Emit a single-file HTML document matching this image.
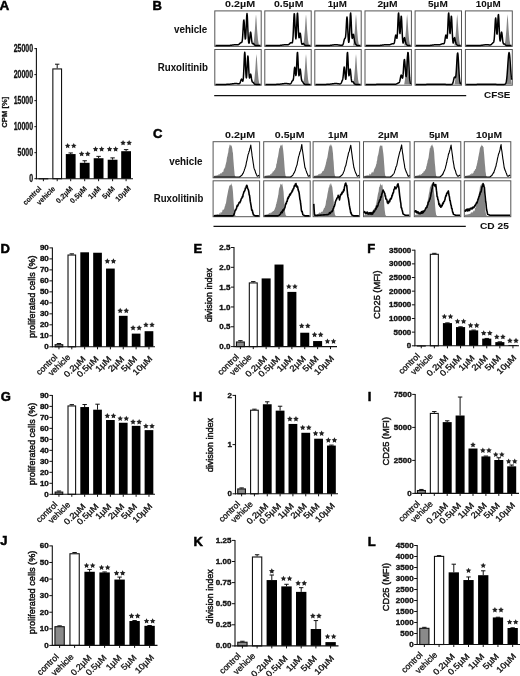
<!DOCTYPE html>
<html><head><meta charset="utf-8"><style>
html,body{margin:0;padding:0;background:#fff;width:520px;height:676px;overflow:hidden}
svg{display:block;filter:blur(0.3px)}
text{font-family:"Liberation Sans", sans-serif}
</style></head><body>
<svg width="520" height="676" viewBox="0 0 520 676" font-family='"Liberation Sans", sans-serif'><rect x="214.80" y="10.90" width="46.40" height="35.50" fill="#fff" stroke="#555" stroke-width="1"/>
<path d="M215.50,45.60 L253.07,45.60 L253.97,39.96 L254.88,29.93 L255.55,18.96 L256.00,14.26 L256.45,18.96 L257.12,29.93 L258.02,39.96 L258.93,45.60 L260.50,45.60 L260.50,45.60 L215.50,45.60 Z" fill="#858585" stroke="none"/>
<path d="M215.50,45.60 L215.78,45.60 L216.06,45.60 L216.34,45.60 L216.62,45.60 L216.91,45.60 L217.19,45.60 L217.47,45.60 L217.75,45.60 L218.03,45.60 L218.31,45.60 L218.59,45.60 L218.88,45.60 L219.16,45.60 L219.44,45.60 L219.72,45.60 L220.00,45.60 L220.28,45.60 L220.56,45.60 L220.84,45.60 L221.12,45.60 L221.41,45.60 L221.69,45.60 L221.97,45.60 L222.25,45.60 L222.53,45.60 L222.81,45.60 L223.09,45.60 L223.38,45.60 L223.66,45.60 L223.94,45.60 L224.22,45.60 L224.50,45.59 L224.78,45.59 L225.06,45.59 L225.34,45.59 L225.62,45.58 L225.91,45.58 L226.19,45.58 L226.47,45.57 L226.75,45.56 L227.03,45.56 L227.31,45.55 L227.59,45.54 L227.88,45.52 L228.16,45.51 L228.44,45.49 L228.72,45.47 L229.00,45.45 L229.28,45.43 L229.56,45.41 L229.84,45.38 L230.12,45.35 L230.41,45.32 L230.69,45.29 L230.97,45.25 L231.25,45.21 L231.53,45.18 L231.81,45.14 L232.09,45.10 L232.38,45.06 L232.66,45.02 L232.94,44.98 L233.22,44.94 L233.50,44.91 L233.78,44.87 L234.06,44.85 L234.34,44.82 L234.62,44.80 L234.91,44.78 L235.19,44.77 L235.47,44.76 L235.75,44.76 L236.03,44.76 L236.31,44.76 L236.59,44.77 L236.88,44.78 L237.16,44.79 L237.44,44.78 L237.72,44.77 L238.00,44.73 L238.28,44.66 L238.56,44.55 L238.84,44.39 L239.12,44.18 L239.41,43.93 L239.69,43.64 L239.97,43.34 L240.25,43.06 L240.53,42.82 L240.81,42.66 L241.09,42.59 L241.38,42.56 L241.66,42.45 L241.94,42.02 L242.22,40.86 L242.50,38.49 L242.78,34.65 L243.06,29.63 L243.34,24.48 L243.62,20.81 L243.91,19.99 L244.19,22.38 L244.47,27.10 L244.75,32.51 L245.03,36.90 L245.31,39.07 L245.59,38.36 L245.88,34.66 L246.16,28.53 L246.44,21.48 L246.72,15.77 L247.00,13.57 L247.28,15.79 L247.56,21.56 L247.84,28.79 L248.12,35.37 L248.41,40.05 L248.69,42.59 L248.97,43.26 L249.25,42.43 L249.53,40.42 L249.81,37.64 L250.09,34.76 L250.38,32.68 L250.66,32.13 L250.94,33.31 L251.22,35.74 L251.50,38.58 L251.78,41.02 L252.06,42.65 L252.34,43.45 L252.62,43.67 L252.91,43.62 L253.19,43.55 L253.47,43.60 L253.75,43.81 L254.03,44.15 L254.31,44.53 L254.59,44.88 L254.88,45.16 L255.16,45.36 L255.44,45.48 L255.72,45.55 L256.00,45.58 L256.28,45.59 L256.56,45.60 L256.84,45.60 L257.12,45.60 L257.41,45.60 L257.69,45.60 L257.97,45.60 L258.25,45.60 L258.53,45.60 L258.81,45.60 L259.09,45.60 L259.38,45.60 L259.66,45.60 L259.94,45.60 L260.22,45.60 L260.50,45.60" fill="none" stroke="#000" stroke-width="1.5" stroke-linejoin="round"/>
<rect x="214.80" y="49.50" width="46.40" height="35.70" fill="#fff" stroke="#555" stroke-width="1"/>
<path d="M215.50,84.40 L253.53,84.40 L254.43,78.91 L255.32,69.15 L256.00,58.47 L256.45,53.89 L256.90,58.47 L257.57,69.15 L258.48,78.91 L259.38,84.40 L260.50,84.40 L260.50,84.40 L215.50,84.40 Z" fill="#858585" stroke="none"/>
<path d="M215.50,84.40 L215.78,84.40 L216.06,84.40 L216.34,84.40 L216.62,84.40 L216.91,84.40 L217.19,84.40 L217.47,84.40 L217.75,84.40 L218.03,84.40 L218.31,84.40 L218.59,84.40 L218.88,84.40 L219.16,84.40 L219.44,84.40 L219.72,84.40 L220.00,84.40 L220.28,84.40 L220.56,84.40 L220.84,84.40 L221.12,84.40 L221.41,84.40 L221.69,84.40 L221.97,84.40 L222.25,84.40 L222.53,84.40 L222.81,84.40 L223.09,84.40 L223.38,84.40 L223.66,84.40 L223.94,84.40 L224.22,84.39 L224.50,84.39 L224.78,84.39 L225.06,84.39 L225.34,84.39 L225.62,84.38 L225.91,84.38 L226.19,84.38 L226.47,84.37 L226.75,84.36 L227.03,84.35 L227.31,84.35 L227.59,84.33 L227.88,84.32 L228.16,84.31 L228.44,84.29 L228.72,84.27 L229.00,84.25 L229.28,84.23 L229.56,84.21 L229.84,84.18 L230.12,84.15 L230.41,84.12 L230.69,84.08 L230.97,84.05 L231.25,84.01 L231.53,83.97 L231.81,83.93 L232.09,83.89 L232.38,83.85 L232.66,83.81 L232.94,83.78 L233.22,83.74 L233.50,83.70 L233.78,83.67 L234.06,83.64 L234.34,83.61 L234.62,83.59 L234.91,83.58 L235.19,83.56 L235.47,83.56 L235.75,83.55 L236.03,83.56 L236.31,83.56 L236.59,83.58 L236.88,83.59 L237.16,83.61 L237.44,83.64 L237.72,83.67 L238.00,83.70 L238.28,83.73 L238.56,83.76 L238.84,83.77 L239.12,83.74 L239.41,83.63 L239.69,83.40 L239.97,82.99 L240.25,82.36 L240.53,81.54 L240.81,80.62 L241.09,79.78 L241.38,79.22 L241.66,79.10 L241.94,79.44 L242.22,80.12 L242.50,80.84 L242.78,81.17 L243.06,80.50 L243.34,78.17 L243.62,73.70 L243.91,67.26 L244.19,60.09 L244.47,54.35 L244.75,52.14 L245.03,54.37 L245.31,60.14 L245.59,67.27 L245.88,73.47 L246.16,77.22 L246.44,77.86 L246.72,75.40 L247.00,70.41 L247.28,64.18 L247.56,58.69 L247.84,55.98 L248.12,57.14 L248.41,61.66 L248.69,67.73 L248.97,73.25 L249.25,76.80 L249.53,78.02 L249.81,77.37 L250.09,75.85 L250.38,74.50 L250.66,74.12 L250.94,74.95 L251.22,76.67 L251.50,78.65 L251.78,80.31 L252.06,81.38 L252.34,81.91 L252.62,82.12 L252.91,82.26 L253.19,82.47 L253.47,82.79 L253.75,83.16 L254.03,83.54 L254.31,83.86 L254.59,84.09 L254.88,84.24 L255.16,84.32 L255.44,84.37 L255.72,84.39 L256.00,84.40 L256.28,84.40 L256.56,84.40 L256.84,84.40 L257.12,84.40 L257.41,84.40 L257.69,84.40 L257.97,84.40 L258.25,84.40 L258.53,84.40 L258.81,84.40 L259.09,84.40 L259.38,84.40 L259.66,84.40 L259.94,84.40 L260.22,84.40 L260.50,84.40" fill="none" stroke="#000" stroke-width="1.5" stroke-linejoin="round"/>
<rect x="264.80" y="10.90" width="46.40" height="35.50" fill="#fff" stroke="#555" stroke-width="1"/>
<path d="M265.50,45.60 L303.07,45.60 L303.98,39.96 L304.88,29.93 L305.55,18.96 L306.00,14.26 L306.45,18.96 L307.12,29.93 L308.02,39.96 L308.93,45.60 L310.50,45.60 L310.50,45.60 L265.50,45.60 Z" fill="#858585" stroke="none"/>
<path d="M265.50,45.60 L265.78,45.60 L266.06,45.60 L266.34,45.60 L266.62,45.60 L266.91,45.60 L267.19,45.60 L267.47,45.60 L267.75,45.60 L268.03,45.60 L268.31,45.60 L268.59,45.60 L268.88,45.60 L269.16,45.60 L269.44,45.60 L269.72,45.60 L270.00,45.60 L270.28,45.60 L270.56,45.60 L270.84,45.60 L271.12,45.60 L271.41,45.60 L271.69,45.60 L271.97,45.60 L272.25,45.60 L272.53,45.60 L272.81,45.60 L273.09,45.60 L273.38,45.60 L273.66,45.60 L273.94,45.60 L274.22,45.60 L274.50,45.59 L274.78,45.59 L275.06,45.59 L275.34,45.59 L275.62,45.58 L275.91,45.58 L276.19,45.58 L276.47,45.57 L276.75,45.56 L277.03,45.56 L277.31,45.55 L277.59,45.54 L277.88,45.52 L278.16,45.51 L278.44,45.49 L278.72,45.47 L279.00,45.45 L279.28,45.43 L279.56,45.41 L279.84,45.38 L280.12,45.35 L280.41,45.32 L280.69,45.29 L280.97,45.25 L281.25,45.21 L281.53,45.18 L281.81,45.14 L282.09,45.10 L282.38,45.06 L282.66,45.02 L282.94,44.98 L283.22,44.94 L283.50,44.91 L283.78,44.87 L284.06,44.85 L284.34,44.82 L284.62,44.80 L284.91,44.78 L285.19,44.77 L285.47,44.76 L285.75,44.76 L286.03,44.76 L286.31,44.76 L286.59,44.77 L286.88,44.78 L287.16,44.79 L287.44,44.78 L287.72,44.77 L288.00,44.73 L288.28,44.66 L288.56,44.55 L288.84,44.39 L289.12,44.18 L289.41,43.93 L289.69,43.64 L289.97,43.34 L290.25,43.06 L290.53,42.82 L290.81,42.67 L291.09,42.62 L291.38,42.68 L291.66,42.81 L291.94,42.93 L292.22,42.83 L292.50,42.12 L292.78,40.22 L293.06,36.52 L293.34,30.82 L293.62,23.84 L293.91,17.38 L294.19,13.68 L294.47,14.21 L294.75,18.80 L295.03,25.65 L295.31,32.40 L295.59,37.12 L295.88,38.76 L296.16,37.01 L296.44,32.18 L296.72,25.30 L297.00,18.34 L297.28,13.72 L297.56,13.24 L297.84,17.06 L298.12,23.60 L298.41,30.41 L298.69,35.44 L298.97,37.78 L299.25,37.63 L299.53,35.97 L299.81,34.08 L300.09,33.10 L300.38,33.63 L300.66,35.55 L300.94,38.19 L301.22,40.76 L301.50,42.70 L301.78,43.83 L302.06,44.27 L302.34,44.25 L302.62,44.01 L302.91,43.74 L303.19,43.59 L303.47,43.61 L303.75,43.82 L304.03,44.15 L304.31,44.53 L304.59,44.88 L304.88,45.16 L305.16,45.36 L305.44,45.48 L305.72,45.55 L306.00,45.58 L306.28,45.59 L306.56,45.60 L306.84,45.60 L307.12,45.60 L307.41,45.60 L307.69,45.60 L307.97,45.60 L308.25,45.60 L308.53,45.60 L308.81,45.60 L309.09,45.60 L309.38,45.60 L309.66,45.60 L309.94,45.60 L310.22,45.60 L310.50,45.60" fill="none" stroke="#000" stroke-width="1.5" stroke-linejoin="round"/>
<rect x="264.80" y="49.50" width="46.40" height="35.70" fill="#fff" stroke="#555" stroke-width="1"/>
<path d="M265.50,84.40 L303.07,84.40 L303.98,78.91 L304.88,69.15 L305.55,58.47 L306.00,53.89 L306.45,58.47 L307.12,69.15 L308.02,78.91 L308.93,84.40 L310.50,84.40 L310.50,84.40 L265.50,84.40 Z" fill="#858585" stroke="none"/>
<path d="M265.50,84.40 L265.78,84.40 L266.06,84.40 L266.34,84.40 L266.62,84.40 L266.91,84.40 L267.19,84.40 L267.47,84.40 L267.75,84.40 L268.03,84.40 L268.31,84.40 L268.59,84.40 L268.88,84.40 L269.16,84.40 L269.44,84.40 L269.72,84.40 L270.00,84.40 L270.28,84.40 L270.56,84.40 L270.84,84.40 L271.12,84.40 L271.41,84.40 L271.69,84.40 L271.97,84.40 L272.25,84.40 L272.53,84.40 L272.81,84.40 L273.09,84.40 L273.38,84.40 L273.66,84.40 L273.94,84.40 L274.22,84.39 L274.50,84.39 L274.78,84.39 L275.06,84.39 L275.34,84.39 L275.62,84.38 L275.91,84.38 L276.19,84.38 L276.47,84.37 L276.75,84.36 L277.03,84.35 L277.31,84.35 L277.59,84.33 L277.88,84.32 L278.16,84.31 L278.44,84.29 L278.72,84.27 L279.00,84.25 L279.28,84.23 L279.56,84.21 L279.84,84.18 L280.12,84.15 L280.41,84.12 L280.69,84.08 L280.97,84.05 L281.25,84.01 L281.53,83.97 L281.81,83.93 L282.09,83.89 L282.38,83.85 L282.66,83.81 L282.94,83.78 L283.22,83.74 L283.50,83.70 L283.78,83.67 L284.06,83.64 L284.34,83.61 L284.62,83.59 L284.91,83.58 L285.19,83.56 L285.47,83.56 L285.75,83.55 L286.03,83.56 L286.31,83.56 L286.59,83.58 L286.88,83.59 L287.16,83.61 L287.44,83.64 L287.72,83.67 L288.00,83.70 L288.28,83.74 L288.56,83.78 L288.84,83.81 L289.12,83.85 L289.41,83.88 L289.69,83.91 L289.97,83.91 L290.25,83.86 L290.53,83.74 L290.81,83.50 L291.09,83.12 L291.38,82.60 L291.66,81.99 L291.94,81.40 L292.22,80.95 L292.50,80.69 L292.78,80.54 L293.06,80.22 L293.34,79.30 L293.62,77.39 L293.91,74.45 L294.19,71.04 L294.47,68.26 L294.75,67.22 L295.03,68.37 L295.31,71.12 L295.59,74.07 L295.88,75.61 L296.16,74.51 L296.44,70.40 L296.72,64.06 L297.00,57.42 L297.28,52.95 L297.56,52.50 L297.84,56.25 L298.12,62.63 L298.41,69.21 L298.69,73.91 L298.97,75.79 L299.25,75.05 L299.53,72.75 L299.81,70.31 L300.09,69.03 L300.38,69.56 L300.66,71.73 L300.94,74.69 L301.22,77.50 L301.50,79.54 L301.78,80.69 L302.06,81.20 L302.34,81.44 L302.62,81.69 L302.91,82.06 L303.19,82.54 L303.47,83.06 L303.75,83.52 L304.03,83.88 L304.31,84.12 L304.59,84.26 L304.88,84.34 L305.16,84.38 L305.44,84.39 L305.72,84.40 L306.00,84.40 L306.28,84.40 L306.56,84.40 L306.84,84.40 L307.12,84.40 L307.41,84.40 L307.69,84.40 L307.97,84.40 L308.25,84.40 L308.53,84.40 L308.81,84.40 L309.09,84.40 L309.38,84.40 L309.66,84.40 L309.94,84.40 L310.22,84.40 L310.50,84.40" fill="none" stroke="#000" stroke-width="1.5" stroke-linejoin="round"/>
<rect x="314.80" y="10.90" width="46.40" height="35.50" fill="#fff" stroke="#555" stroke-width="1"/>
<path d="M315.50,45.60 L353.07,45.60 L353.98,39.96 L354.88,29.93 L355.55,18.96 L356.00,14.26 L356.45,18.96 L357.12,29.93 L358.02,39.96 L358.93,45.60 L360.50,45.60 L360.50,45.60 L315.50,45.60 Z" fill="#858585" stroke="none"/>
<path d="M315.50,45.60 L315.78,45.60 L316.06,45.60 L316.34,45.60 L316.62,45.60 L316.91,45.60 L317.19,45.60 L317.47,45.60 L317.75,45.60 L318.03,45.60 L318.31,45.60 L318.59,45.60 L318.88,45.60 L319.16,45.60 L319.44,45.60 L319.72,45.60 L320.00,45.60 L320.28,45.60 L320.56,45.60 L320.84,45.60 L321.12,45.60 L321.41,45.60 L321.69,45.60 L321.97,45.60 L322.25,45.60 L322.53,45.60 L322.81,45.60 L323.09,45.60 L323.38,45.60 L323.66,45.60 L323.94,45.60 L324.22,45.60 L324.50,45.59 L324.78,45.59 L325.06,45.59 L325.34,45.59 L325.62,45.58 L325.91,45.58 L326.19,45.58 L326.47,45.57 L326.75,45.56 L327.03,45.56 L327.31,45.55 L327.59,45.54 L327.88,45.52 L328.16,45.51 L328.44,45.49 L328.72,45.47 L329.00,45.45 L329.28,45.43 L329.56,45.41 L329.84,45.38 L330.12,45.35 L330.41,45.32 L330.69,45.29 L330.97,45.25 L331.25,45.21 L331.53,45.18 L331.81,45.14 L332.09,45.10 L332.38,45.06 L332.66,45.02 L332.94,44.98 L333.22,44.94 L333.50,44.91 L333.78,44.87 L334.06,44.85 L334.34,44.82 L334.62,44.80 L334.91,44.78 L335.19,44.77 L335.47,44.76 L335.75,44.76 L336.03,44.76 L336.31,44.77 L336.59,44.78 L336.88,44.80 L337.16,44.82 L337.44,44.85 L337.72,44.87 L338.00,44.91 L338.28,44.94 L338.56,44.98 L338.84,45.02 L339.12,45.06 L339.41,45.10 L339.69,45.14 L339.97,45.18 L340.25,45.21 L340.53,45.25 L340.81,45.29 L341.09,45.32 L341.38,45.35 L341.66,45.36 L341.94,45.36 L342.22,45.30 L342.50,45.16 L342.78,44.86 L343.06,44.33 L343.34,43.52 L343.62,42.44 L343.91,41.19 L344.19,39.98 L344.47,39.05 L344.75,38.54 L345.03,38.31 L345.31,37.89 L345.59,36.53 L345.88,33.52 L346.16,28.76 L346.44,23.18 L346.72,18.63 L347.00,16.99 L347.28,19.12 L347.56,24.29 L347.84,30.70 L348.12,36.48 L348.41,40.47 L348.69,42.27 L348.97,41.83 L349.25,39.05 L349.53,33.91 L349.81,26.95 L350.09,19.68 L350.38,14.37 L350.66,12.98 L350.94,16.02 L351.22,22.23 L351.50,29.22 L351.78,34.83 L352.06,37.89 L352.34,38.42 L352.62,37.23 L352.91,35.51 L353.19,34.35 L353.47,34.40 L353.75,35.69 L354.03,37.72 L354.31,39.82 L354.59,41.50 L354.88,42.63 L355.16,43.33 L355.44,43.81 L355.72,44.19 L356.00,44.56 L356.28,44.88 L356.56,45.15 L356.84,45.34 L357.12,45.47 L357.41,45.54 L357.69,45.57 L357.97,45.59 L358.25,45.60 L358.53,45.60 L358.81,45.60 L359.09,45.60 L359.38,45.60 L359.66,45.60 L359.94,45.60 L360.22,45.60 L360.50,45.60" fill="none" stroke="#000" stroke-width="1.5" stroke-linejoin="round"/>
<rect x="314.80" y="49.50" width="46.40" height="35.70" fill="#fff" stroke="#555" stroke-width="1"/>
<path d="M315.50,84.40 L353.07,84.40 L353.98,78.91 L354.88,69.15 L355.55,58.47 L356.00,53.89 L356.45,58.47 L357.12,69.15 L358.02,78.91 L358.93,84.40 L360.50,84.40 L360.50,84.40 L315.50,84.40 Z" fill="#858585" stroke="none"/>
<path d="M315.50,84.40 L315.78,84.40 L316.06,84.40 L316.34,84.40 L316.62,84.40 L316.91,84.40 L317.19,84.40 L317.47,84.40 L317.75,84.40 L318.03,84.40 L318.31,84.40 L318.59,84.40 L318.88,84.40 L319.16,84.40 L319.44,84.40 L319.72,84.40 L320.00,84.40 L320.28,84.40 L320.56,84.40 L320.84,84.40 L321.12,84.40 L321.41,84.40 L321.69,84.40 L321.97,84.40 L322.25,84.40 L322.53,84.40 L322.81,84.40 L323.09,84.40 L323.38,84.40 L323.66,84.40 L323.94,84.40 L324.22,84.39 L324.50,84.39 L324.78,84.39 L325.06,84.39 L325.34,84.39 L325.62,84.38 L325.91,84.38 L326.19,84.38 L326.47,84.37 L326.75,84.36 L327.03,84.35 L327.31,84.35 L327.59,84.33 L327.88,84.32 L328.16,84.31 L328.44,84.29 L328.72,84.27 L329.00,84.25 L329.28,84.23 L329.56,84.21 L329.84,84.18 L330.12,84.15 L330.41,84.12 L330.69,84.08 L330.97,84.05 L331.25,84.01 L331.53,83.97 L331.81,83.93 L332.09,83.89 L332.38,83.85 L332.66,83.81 L332.94,83.78 L333.22,83.74 L333.50,83.70 L333.78,83.67 L334.06,83.64 L334.34,83.61 L334.62,83.59 L334.91,83.58 L335.19,83.56 L335.47,83.56 L335.75,83.55 L336.03,83.56 L336.31,83.56 L336.59,83.58 L336.88,83.59 L337.16,83.61 L337.44,83.64 L337.72,83.67 L338.00,83.70 L338.28,83.74 L338.56,83.78 L338.84,83.81 L339.12,83.85 L339.41,83.88 L339.69,83.91 L339.97,83.91 L340.25,83.86 L340.53,83.74 L340.81,83.50 L341.09,83.12 L341.38,82.59 L341.66,81.96 L341.94,81.31 L342.22,80.67 L342.50,79.97 L342.78,78.95 L343.06,77.28 L343.34,74.73 L343.62,71.56 L343.91,68.61 L344.19,67.00 L344.47,67.52 L344.75,70.06 L345.03,73.71 L345.31,77.15 L345.59,79.24 L345.88,79.20 L346.16,76.58 L346.44,71.41 L346.72,64.48 L347.00,57.57 L347.28,52.99 L347.56,52.51 L347.84,56.25 L348.12,62.63 L348.41,69.21 L348.69,73.91 L348.97,75.79 L349.25,75.06 L349.53,72.76 L349.81,70.35 L350.09,69.10 L350.38,69.71 L350.66,72.00 L350.94,75.14 L351.22,78.13 L351.50,80.30 L351.78,81.49 L352.06,81.88 L352.34,81.83 L352.62,81.69 L352.91,81.67 L353.19,81.87 L353.47,82.26 L353.75,82.75 L354.03,83.25 L354.31,83.68 L354.59,83.98 L354.88,84.18 L355.16,84.30 L355.44,84.36 L355.72,84.38 L356.00,84.39 L356.28,84.40 L356.56,84.40 L356.84,84.40 L357.12,84.40 L357.41,84.40 L357.69,84.40 L357.97,84.40 L358.25,84.40 L358.53,84.40 L358.81,84.40 L359.09,84.40 L359.38,84.40 L359.66,84.40 L359.94,84.40 L360.22,84.40 L360.50,84.40" fill="none" stroke="#000" stroke-width="1.5" stroke-linejoin="round"/>
<rect x="365.00" y="10.90" width="46.40" height="35.50" fill="#fff" stroke="#555" stroke-width="1"/>
<path d="M365.70,45.60 L404.18,45.60 L405.07,39.96 L405.97,29.93 L406.65,18.96 L407.10,14.26 L407.55,18.96 L408.23,29.93 L409.12,39.96 L410.02,45.60 L410.70,45.60 L410.70,45.60 L365.70,45.60 Z" fill="#858585" stroke="none"/>
<path d="M365.70,45.60 L365.98,45.60 L366.26,45.60 L366.54,45.60 L366.82,45.60 L367.11,45.60 L367.39,45.60 L367.67,45.60 L367.95,45.60 L368.23,45.60 L368.51,45.60 L368.79,45.60 L369.07,45.60 L369.36,45.60 L369.64,45.60 L369.92,45.60 L370.20,45.60 L370.48,45.60 L370.76,45.60 L371.04,45.60 L371.32,45.60 L371.61,45.60 L371.89,45.60 L372.17,45.60 L372.45,45.60 L372.73,45.60 L373.01,45.60 L373.29,45.60 L373.57,45.60 L373.86,45.60 L374.14,45.60 L374.42,45.60 L374.70,45.59 L374.98,45.59 L375.26,45.59 L375.54,45.59 L375.82,45.58 L376.11,45.58 L376.39,45.58 L376.67,45.57 L376.95,45.56 L377.23,45.56 L377.51,45.55 L377.79,45.54 L378.07,45.52 L378.36,45.51 L378.64,45.49 L378.92,45.47 L379.20,45.45 L379.48,45.43 L379.76,45.41 L380.04,45.38 L380.32,45.35 L380.61,45.32 L380.89,45.29 L381.17,45.25 L381.45,45.21 L381.73,45.18 L382.01,45.14 L382.29,45.10 L382.57,45.06 L382.86,45.02 L383.14,44.98 L383.42,44.94 L383.70,44.91 L383.98,44.87 L384.26,44.85 L384.54,44.82 L384.82,44.80 L385.11,44.78 L385.39,44.77 L385.67,44.76 L385.95,44.76 L386.23,44.76 L386.51,44.76 L386.79,44.77 L387.07,44.78 L387.36,44.80 L387.64,44.81 L387.92,44.83 L388.20,44.83 L388.48,44.83 L388.76,44.83 L389.04,44.80 L389.32,44.77 L389.61,44.71 L389.89,44.64 L390.17,44.55 L390.45,44.44 L390.73,44.32 L391.01,44.20 L391.29,44.08 L391.57,43.97 L391.86,43.87 L392.14,43.80 L392.42,43.77 L392.70,43.76 L392.98,43.79 L393.26,43.83 L393.54,43.82 L393.82,43.69 L394.11,43.30 L394.39,42.48 L394.67,41.14 L394.95,39.34 L395.23,37.39 L395.51,35.80 L395.79,35.08 L396.07,35.44 L396.36,36.64 L396.64,37.95 L396.92,38.32 L397.20,36.74 L397.48,32.61 L397.76,26.31 L398.04,19.41 L398.32,14.26 L398.61,12.91 L398.89,15.92 L399.17,21.91 L399.45,28.35 L399.73,32.72 L400.01,33.51 L400.29,30.59 L400.57,25.19 L400.86,19.57 L401.14,16.21 L401.42,16.68 L401.70,20.91 L401.98,27.33 L402.26,33.85 L402.54,38.93 L402.82,41.98 L403.11,43.09 L403.39,42.67 L403.67,41.21 L403.95,39.40 L404.23,38.00 L404.51,37.63 L404.79,38.39 L405.07,39.83 L405.36,41.35 L405.64,42.55 L405.92,43.35 L406.20,43.90 L406.48,44.32 L406.76,44.69 L407.04,45.00 L407.32,45.23 L407.61,45.40 L407.89,45.50 L408.17,45.55 L408.45,45.58 L408.73,45.59 L409.01,45.60 L409.29,45.60 L409.57,45.60 L409.86,45.60 L410.14,45.60 L410.42,45.60 L410.70,45.60" fill="none" stroke="#000" stroke-width="1.5" stroke-linejoin="round"/>
<rect x="365.00" y="49.50" width="46.40" height="35.70" fill="#fff" stroke="#555" stroke-width="1"/>
<path d="M365.70,84.40 L404.18,84.40 L405.07,78.91 L405.97,69.15 L406.65,58.47 L407.10,53.89 L407.55,58.47 L408.23,69.15 L409.12,78.91 L410.02,84.40 L410.70,84.40 L410.70,84.40 L365.70,84.40 Z" fill="#858585" stroke="none"/>
<path d="M365.70,84.40 L365.98,84.40 L366.26,84.40 L366.54,84.40 L366.82,84.40 L367.11,84.40 L367.39,84.40 L367.67,84.40 L367.95,84.40 L368.23,84.40 L368.51,84.40 L368.79,84.40 L369.07,84.40 L369.36,84.40 L369.64,84.40 L369.92,84.40 L370.20,84.40 L370.48,84.40 L370.76,84.40 L371.04,84.40 L371.32,84.40 L371.61,84.40 L371.89,84.40 L372.17,84.40 L372.45,84.40 L372.73,84.40 L373.01,84.40 L373.29,84.39 L373.57,84.39 L373.86,84.39 L374.14,84.39 L374.42,84.39 L374.70,84.39 L374.98,84.39 L375.26,84.38 L375.54,84.38 L375.82,84.38 L376.11,84.38 L376.39,84.37 L376.67,84.37 L376.95,84.36 L377.23,84.36 L377.51,84.35 L377.79,84.35 L378.07,84.34 L378.36,84.33 L378.64,84.33 L378.92,84.32 L379.20,84.31 L379.48,84.30 L379.76,84.29 L380.04,84.29 L380.32,84.28 L380.61,84.27 L380.89,84.26 L381.17,84.25 L381.45,84.24 L381.73,84.23 L382.01,84.22 L382.29,84.21 L382.57,84.20 L382.86,84.19 L383.14,84.18 L383.42,84.17 L383.70,84.16 L383.98,84.15 L384.26,84.15 L384.54,84.14 L384.82,84.14 L385.11,84.13 L385.39,84.13 L385.67,84.13 L385.95,84.13 L386.23,84.13 L386.51,84.13 L386.79,84.13 L387.07,84.14 L387.36,84.14 L387.64,84.15 L387.92,84.15 L388.20,84.16 L388.48,84.17 L388.76,84.18 L389.04,84.19 L389.32,84.20 L389.61,84.21 L389.89,84.22 L390.17,84.23 L390.45,84.24 L390.73,84.25 L391.01,84.26 L391.29,84.27 L391.57,84.28 L391.86,84.29 L392.14,84.29 L392.42,84.30 L392.70,84.31 L392.98,84.32 L393.26,84.33 L393.54,84.33 L393.82,84.34 L394.11,84.34 L394.39,84.34 L394.67,84.34 L394.95,84.32 L395.23,84.30 L395.51,84.26 L395.79,84.21 L396.07,84.13 L396.36,84.02 L396.64,83.89 L396.92,83.73 L397.20,83.57 L397.48,83.40 L397.76,83.24 L398.04,83.11 L398.32,83.01 L398.61,82.92 L398.89,82.79 L399.17,82.54 L399.45,82.07 L399.73,81.27 L400.01,80.09 L400.29,78.60 L400.57,77.05 L400.86,75.76 L401.14,75.07 L401.42,75.16 L401.70,75.95 L401.98,77.09 L402.26,78.01 L402.54,78.14 L402.82,76.99 L403.11,74.38 L403.39,70.53 L403.67,66.12 L403.95,62.16 L404.23,59.71 L404.51,59.48 L404.79,61.54 L405.07,65.30 L405.36,69.70 L405.64,73.63 L405.92,76.14 L406.20,76.65 L406.48,74.91 L406.76,71.09 L407.04,65.75 L407.32,59.96 L407.61,55.09 L407.89,52.43 L408.17,52.75 L408.45,55.98 L408.73,61.25 L409.01,67.30 L409.29,72.94 L409.57,77.44 L409.86,80.56 L410.14,82.48 L410.42,83.53 L410.70,84.04" fill="none" stroke="#000" stroke-width="1.5" stroke-linejoin="round"/>
<rect x="415.10" y="10.90" width="46.40" height="35.50" fill="#fff" stroke="#555" stroke-width="1"/>
<path d="M415.80,45.60 L454.28,45.60 L455.18,39.96 L456.07,29.93 L456.75,18.96 L457.20,14.26 L457.65,18.96 L458.33,29.93 L459.23,39.96 L460.12,45.60 L460.80,45.60 L460.80,45.60 L415.80,45.60 Z" fill="#858585" stroke="none"/>
<path d="M415.80,45.60 L416.08,45.60 L416.36,45.60 L416.64,45.60 L416.93,45.60 L417.21,45.60 L417.49,45.60 L417.77,45.60 L418.05,45.60 L418.33,45.60 L418.61,45.60 L418.89,45.60 L419.18,45.60 L419.46,45.60 L419.74,45.60 L420.02,45.60 L420.30,45.60 L420.58,45.60 L420.86,45.60 L421.14,45.60 L421.43,45.60 L421.71,45.60 L421.99,45.60 L422.27,45.60 L422.55,45.60 L422.83,45.60 L423.11,45.60 L423.39,45.60 L423.68,45.60 L423.96,45.60 L424.24,45.60 L424.52,45.60 L424.80,45.59 L425.08,45.59 L425.36,45.59 L425.64,45.59 L425.93,45.58 L426.21,45.58 L426.49,45.58 L426.77,45.57 L427.05,45.56 L427.33,45.56 L427.61,45.55 L427.89,45.54 L428.18,45.52 L428.46,45.51 L428.74,45.49 L429.02,45.47 L429.30,45.45 L429.58,45.43 L429.86,45.41 L430.14,45.38 L430.43,45.35 L430.71,45.32 L430.99,45.29 L431.27,45.25 L431.55,45.21 L431.83,45.18 L432.11,45.14 L432.39,45.10 L432.68,45.06 L432.96,45.02 L433.24,44.98 L433.52,44.94 L433.80,44.91 L434.08,44.87 L434.36,44.85 L434.64,44.82 L434.93,44.80 L435.21,44.78 L435.49,44.77 L435.77,44.76 L436.05,44.76 L436.33,44.76 L436.61,44.76 L436.89,44.77 L437.18,44.78 L437.46,44.80 L437.74,44.81 L438.02,44.83 L438.30,44.83 L438.58,44.83 L438.86,44.83 L439.14,44.80 L439.43,44.77 L439.71,44.71 L439.99,44.64 L440.27,44.55 L440.55,44.44 L440.83,44.32 L441.11,44.20 L441.39,44.08 L441.68,43.97 L441.96,43.87 L442.24,43.80 L442.52,43.77 L442.80,43.76 L443.08,43.79 L443.36,43.83 L443.64,43.82 L443.93,43.69 L444.21,43.30 L444.49,42.48 L444.77,41.14 L445.05,39.34 L445.33,37.39 L445.61,35.80 L445.89,35.08 L446.18,35.44 L446.46,36.64 L446.74,37.95 L447.02,38.32 L447.30,36.74 L447.58,32.61 L447.86,26.31 L448.14,19.41 L448.43,14.26 L448.71,12.91 L448.99,15.92 L449.27,21.91 L449.55,28.35 L449.83,32.72 L450.11,33.51 L450.39,30.59 L450.68,25.19 L450.96,19.57 L451.24,16.21 L451.52,16.68 L451.80,20.91 L452.08,27.33 L452.36,33.85 L452.64,38.93 L452.93,41.98 L453.21,43.09 L453.49,42.67 L453.77,41.21 L454.05,39.40 L454.33,38.00 L454.61,37.63 L454.89,38.39 L455.18,39.83 L455.46,41.35 L455.74,42.55 L456.02,43.35 L456.30,43.90 L456.58,44.32 L456.86,44.69 L457.14,45.00 L457.43,45.23 L457.71,45.40 L457.99,45.50 L458.27,45.55 L458.55,45.58 L458.83,45.59 L459.11,45.60 L459.39,45.60 L459.68,45.60 L459.96,45.60 L460.24,45.60 L460.52,45.60 L460.80,45.60" fill="none" stroke="#000" stroke-width="1.5" stroke-linejoin="round"/>
<rect x="415.10" y="49.50" width="46.40" height="35.70" fill="#fff" stroke="#555" stroke-width="1"/>
<path d="M415.80,84.40 L454.50,84.40 L455.40,78.91 L456.30,69.15 L456.98,58.47 L457.43,53.89 L457.88,58.47 L458.55,69.15 L459.45,78.91 L460.35,84.40 L460.80,84.40 L460.80,84.40 L415.80,84.40 Z" fill="#858585" stroke="none"/>
<path d="M415.80,84.40 L416.08,84.40 L416.36,84.40 L416.64,84.40 L416.93,84.40 L417.21,84.40 L417.49,84.40 L417.77,84.40 L418.05,84.40 L418.33,84.40 L418.61,84.40 L418.89,84.40 L419.18,84.40 L419.46,84.40 L419.74,84.40 L420.02,84.40 L420.30,84.40 L420.58,84.40 L420.86,84.40 L421.14,84.40 L421.43,84.40 L421.71,84.40 L421.99,84.40 L422.27,84.40 L422.55,84.40 L422.83,84.40 L423.11,84.40 L423.39,84.39 L423.68,84.39 L423.96,84.39 L424.24,84.39 L424.52,84.39 L424.80,84.39 L425.08,84.39 L425.36,84.38 L425.64,84.38 L425.93,84.38 L426.21,84.38 L426.49,84.37 L426.77,84.37 L427.05,84.36 L427.33,84.36 L427.61,84.35 L427.89,84.35 L428.18,84.34 L428.46,84.33 L428.74,84.33 L429.02,84.32 L429.30,84.31 L429.58,84.30 L429.86,84.29 L430.14,84.29 L430.43,84.28 L430.71,84.27 L430.99,84.26 L431.27,84.25 L431.55,84.24 L431.83,84.23 L432.11,84.22 L432.39,84.21 L432.68,84.20 L432.96,84.19 L433.24,84.18 L433.52,84.17 L433.80,84.16 L434.08,84.15 L434.36,84.15 L434.64,84.14 L434.93,84.14 L435.21,84.13 L435.49,84.13 L435.77,84.13 L436.05,84.13 L436.33,84.13 L436.61,84.13 L436.89,84.13 L437.18,84.14 L437.46,84.14 L437.74,84.15 L438.02,84.15 L438.30,84.16 L438.58,84.17 L438.86,84.18 L439.14,84.19 L439.43,84.20 L439.71,84.21 L439.99,84.22 L440.27,84.23 L440.55,84.24 L440.83,84.25 L441.11,84.26 L441.39,84.27 L441.68,84.28 L441.96,84.29 L442.24,84.29 L442.52,84.30 L442.80,84.31 L443.08,84.32 L443.36,84.33 L443.64,84.33 L443.93,84.34 L444.21,84.35 L444.49,84.35 L444.77,84.36 L445.05,84.36 L445.33,84.37 L445.61,84.37 L445.89,84.38 L446.18,84.38 L446.46,84.38 L446.74,84.38 L447.02,84.39 L447.30,84.39 L447.58,84.39 L447.86,84.39 L448.14,84.39 L448.43,84.39 L448.71,84.39 L448.99,84.40 L449.27,84.40 L449.55,84.40 L449.83,84.40 L450.11,84.40 L450.39,84.40 L450.68,84.40 L450.96,84.40 L451.24,84.39 L451.52,84.37 L451.80,84.32 L452.08,84.21 L452.36,83.98 L452.64,83.55 L452.93,82.86 L453.21,81.87 L453.49,80.61 L453.77,79.27 L454.05,78.08 L454.33,77.29 L454.61,77.05 L454.89,77.28 L455.18,77.64 L455.46,77.64 L455.74,76.76 L456.02,74.57 L456.30,70.99 L456.58,66.30 L456.86,61.20 L457.14,56.64 L457.43,53.64 L457.71,52.91 L457.99,54.65 L458.27,58.47 L458.55,63.54 L458.83,68.93 L459.11,73.81 L459.39,77.72 L459.68,80.51 L459.96,82.31 L460.24,83.36 L460.52,83.93 L460.80,84.20" fill="none" stroke="#000" stroke-width="1.5" stroke-linejoin="round"/>
<rect x="465.40" y="10.90" width="46.90" height="35.50" fill="#fff" stroke="#555" stroke-width="1"/>
<path d="M466.10,45.60 L504.55,45.60 L505.46,39.96 L506.37,29.93 L507.05,18.96 L507.50,14.26 L507.96,18.96 L508.64,29.93 L509.55,39.96 L510.46,45.60 L511.60,45.60 L511.60,45.60 L466.10,45.60 Z" fill="#858585" stroke="none"/>
<path d="M466.10,45.60 L466.38,45.60 L466.67,45.60 L466.95,45.60 L467.24,45.60 L467.52,45.60 L467.81,45.60 L468.09,45.60 L468.37,45.60 L468.66,45.60 L468.94,45.60 L469.23,45.60 L469.51,45.60 L469.80,45.60 L470.08,45.60 L470.37,45.60 L470.65,45.60 L470.93,45.60 L471.22,45.60 L471.50,45.60 L471.79,45.60 L472.07,45.60 L472.36,45.60 L472.64,45.60 L472.92,45.60 L473.21,45.60 L473.49,45.60 L473.78,45.60 L474.06,45.60 L474.35,45.60 L474.63,45.60 L474.92,45.60 L475.20,45.59 L475.48,45.59 L475.77,45.59 L476.05,45.59 L476.34,45.58 L476.62,45.58 L476.91,45.58 L477.19,45.57 L477.47,45.56 L477.76,45.56 L478.04,45.55 L478.33,45.54 L478.61,45.52 L478.90,45.51 L479.18,45.49 L479.47,45.47 L479.75,45.45 L480.03,45.43 L480.32,45.41 L480.60,45.38 L480.89,45.35 L481.17,45.32 L481.46,45.29 L481.74,45.25 L482.02,45.21 L482.31,45.18 L482.59,45.14 L482.88,45.10 L483.16,45.06 L483.45,45.02 L483.73,44.98 L484.02,44.94 L484.30,44.91 L484.58,44.87 L484.87,44.85 L485.15,44.82 L485.44,44.80 L485.72,44.78 L486.01,44.77 L486.29,44.76 L486.57,44.76 L486.86,44.76 L487.14,44.77 L487.43,44.78 L487.71,44.80 L488.00,44.82 L488.28,44.84 L488.57,44.87 L488.85,44.90 L489.13,44.92 L489.42,44.94 L489.70,44.95 L489.99,44.94 L490.27,44.90 L490.56,44.83 L490.84,44.71 L491.12,44.54 L491.41,44.32 L491.69,44.05 L491.98,43.75 L492.26,43.45 L492.55,43.16 L492.83,42.92 L493.12,42.71 L493.40,42.49 L493.68,42.04 L493.97,40.98 L494.25,38.81 L494.54,35.06 L494.82,29.83 L495.11,24.08 L495.39,19.52 L495.67,17.89 L495.96,19.86 L496.24,24.54 L496.53,29.87 L496.81,33.61 L497.10,34.16 L497.38,31.15 L497.67,25.47 L497.95,19.23 L498.23,14.97 L498.52,14.58 L498.80,18.34 L499.09,24.79 L499.37,31.70 L499.66,37.19 L499.94,40.34 L500.22,41.10 L500.51,39.90 L500.79,37.46 L501.08,34.71 L501.36,32.67 L501.65,32.13 L501.93,33.32 L502.22,35.76 L502.50,38.62 L502.78,41.10 L503.07,42.78 L503.35,43.64 L503.64,43.92 L503.92,43.93 L504.21,43.88 L504.49,43.93 L504.77,44.11 L505.06,44.39 L505.34,44.70 L505.63,45.00 L505.91,45.24 L506.20,45.40 L506.48,45.50 L506.77,45.55 L507.05,45.58 L507.33,45.59 L507.62,45.60 L507.90,45.60 L508.19,45.60 L508.47,45.60 L508.76,45.60 L509.04,45.60 L509.32,45.60 L509.61,45.60 L509.89,45.60 L510.18,45.60 L510.46,45.60 L510.75,45.60 L511.03,45.60 L511.32,45.60 L511.60,45.60" fill="none" stroke="#000" stroke-width="1.5" stroke-linejoin="round"/>
<rect x="465.40" y="49.50" width="46.90" height="35.70" fill="#fff" stroke="#555" stroke-width="1"/>
<path d="M466.10,84.40 L505.91,84.40 L506.82,78.91 L507.73,69.15 L508.41,58.47 L508.87,53.89 L509.32,58.47 L510.01,69.15 L510.92,78.91 L511.83,84.40 L511.60,84.40 L511.60,84.40 L466.10,84.40 Z" fill="#858585" stroke="none"/>
<path d="M466.10,84.40 L466.38,84.40 L466.67,84.40 L466.95,84.40 L467.24,84.40 L467.52,84.40 L467.81,84.40 L468.09,84.40 L468.37,84.40 L468.66,84.40 L468.94,84.40 L469.23,84.40 L469.51,84.40 L469.80,84.40 L470.08,84.40 L470.37,84.40 L470.65,84.40 L470.93,84.40 L471.22,84.40 L471.50,84.40 L471.79,84.40 L472.07,84.40 L472.36,84.40 L472.64,84.40 L472.92,84.40 L473.21,84.40 L473.49,84.40 L473.78,84.39 L474.06,84.39 L474.35,84.39 L474.63,84.39 L474.92,84.39 L475.20,84.39 L475.48,84.39 L475.77,84.38 L476.05,84.38 L476.34,84.38 L476.62,84.38 L476.91,84.37 L477.19,84.37 L477.47,84.36 L477.76,84.36 L478.04,84.35 L478.33,84.35 L478.61,84.34 L478.90,84.33 L479.18,84.33 L479.47,84.32 L479.75,84.31 L480.03,84.30 L480.32,84.29 L480.60,84.29 L480.89,84.28 L481.17,84.27 L481.46,84.26 L481.74,84.25 L482.02,84.24 L482.31,84.23 L482.59,84.22 L482.88,84.21 L483.16,84.20 L483.45,84.19 L483.73,84.18 L484.02,84.17 L484.30,84.16 L484.58,84.15 L484.87,84.15 L485.15,84.14 L485.44,84.14 L485.72,84.13 L486.01,84.13 L486.29,84.13 L486.57,84.13 L486.86,84.13 L487.14,84.13 L487.43,84.13 L487.71,84.14 L488.00,84.14 L488.28,84.15 L488.57,84.15 L488.85,84.16 L489.13,84.17 L489.42,84.18 L489.70,84.19 L489.99,84.20 L490.27,84.21 L490.56,84.22 L490.84,84.23 L491.12,84.24 L491.41,84.25 L491.69,84.26 L491.98,84.27 L492.26,84.28 L492.55,84.29 L492.83,84.29 L493.12,84.30 L493.40,84.31 L493.68,84.32 L493.97,84.33 L494.25,84.33 L494.54,84.34 L494.82,84.35 L495.11,84.35 L495.39,84.36 L495.67,84.36 L495.96,84.37 L496.24,84.37 L496.53,84.38 L496.81,84.38 L497.10,84.38 L497.38,84.38 L497.67,84.39 L497.95,84.39 L498.23,84.39 L498.52,84.39 L498.80,84.39 L499.09,84.39 L499.37,84.39 L499.66,84.40 L499.94,84.40 L500.22,84.40 L500.51,84.40 L500.79,84.40 L501.08,84.40 L501.36,84.40 L501.65,84.40 L501.93,84.40 L502.22,84.40 L502.50,84.40 L502.78,84.40 L503.07,84.40 L503.35,84.40 L503.64,84.40 L503.92,84.39 L504.21,84.38 L504.49,84.35 L504.77,84.30 L505.06,84.19 L505.34,83.98 L505.63,83.62 L505.91,83.00 L506.20,82.01 L506.48,80.53 L506.77,78.43 L507.05,75.64 L507.33,72.17 L507.62,68.15 L507.90,63.87 L508.19,59.71 L508.47,56.15 L508.76,53.66 L509.04,52.57 L509.32,53.04 L509.61,55.01 L509.89,58.19 L510.18,62.16 L510.46,66.45 L510.75,70.62 L511.03,74.33 L511.32,77.40 L511.60,79.77" fill="none" stroke="#000" stroke-width="1.5" stroke-linejoin="round"/>
<rect x="213.10" y="141.70" width="46.50" height="36.10" fill="#fff" stroke="#555" stroke-width="1"/>
<path d="M213.80,175.97 L214.13,175.91 L214.46,175.85 L214.78,175.78 L215.11,175.72 L215.44,175.66 L215.77,175.60 L216.10,175.53 L216.42,175.47 L216.75,175.41 L217.08,175.35 L217.41,175.28 L217.74,175.13 L218.06,174.97 L218.39,175.23 L218.72,174.06 L219.05,174.10 L219.38,174.88 L219.70,174.04 L220.03,173.99 L220.36,173.11 L220.69,173.25 L221.02,174.01 L221.34,172.24 L221.66,173.67 L221.98,172.71 L222.30,171.67 L222.63,172.57 L222.95,171.53 L223.27,172.12 L223.63,170.07 L223.99,169.12 L224.35,168.75 L224.71,167.38 L225.07,167.78 L225.41,165.54 L225.75,164.29 L226.09,162.86 L226.43,161.66 L226.77,159.06 L227.10,157.05 L227.44,156.22 L227.78,154.02 L228.23,152.52 L228.68,148.46 L229.13,147.20 L229.58,145.12 L229.92,144.61 L230.26,144.86 L230.60,145.51 L230.94,145.78 L231.28,146.43 L231.61,144.84 L231.95,146.98 L232.29,148.63 L232.63,151.67 L232.97,153.12 L233.31,158.90 L233.64,163.11 L233.98,167.45 L234.32,171.09 L234.66,174.78 L235.00,175.97 L235.45,176.49 L235.90,177.00 L236.22,177.00 L236.54,177.00 L236.86,177.00 L237.18,177.00 L237.50,177.00 L237.82,177.00 L238.14,177.00 L238.45,177.00 L238.77,177.00 L239.09,177.00 L239.41,177.00 L239.73,177.00 L240.05,177.00 L240.37,177.00 L240.69,177.00 L241.01,177.00 L241.33,177.00 L241.65,177.00 L241.97,177.00 L242.29,177.00 L242.61,177.00 L242.93,177.00 L243.25,177.00 L243.57,177.00 L243.89,177.00 L244.20,177.00 L244.52,177.00 L244.84,177.00 L245.16,177.00 L245.48,177.00 L245.80,177.00 L246.12,177.00 L246.44,177.00 L246.76,177.00 L247.08,177.00 L247.40,177.00 L247.72,177.00 L248.04,177.00 L248.36,177.00 L248.68,177.00 L249.00,177.00 L249.32,177.00 L249.64,177.00 L249.96,177.00 L250.27,177.00 L250.59,177.00 L250.91,177.00 L251.23,177.00 L251.55,177.00 L251.87,177.00 L252.19,177.00 L252.51,177.00 L252.83,177.00 L253.15,177.00 L253.47,177.00 L253.79,177.00 L254.11,177.00 L254.43,177.00 L254.75,177.00 L255.07,177.00 L255.39,177.00 L255.71,177.00 L256.02,177.00 L256.34,177.00 L256.66,177.00 L256.98,177.00 L257.30,177.00 L257.62,177.00 L257.94,177.00 L258.26,177.00 L258.58,177.00 L258.90,177.00 L258.90,177.00 L213.80,177.00 Z" fill="#858585" stroke="none"/>
<path d="M213.80,177.00 L214.12,177.00 L214.43,177.00 L214.75,177.00 L215.07,177.00 L215.39,177.00 L215.70,177.00 L216.02,177.00 L216.34,177.00 L216.66,177.00 L216.97,177.00 L217.29,177.00 L217.61,177.00 L217.93,177.00 L218.24,177.00 L218.56,177.00 L218.88,177.00 L219.20,177.00 L219.51,177.00 L219.83,177.00 L220.15,177.00 L220.46,177.00 L220.78,177.00 L221.10,177.00 L221.42,177.00 L221.73,177.00 L222.05,177.00 L222.37,177.00 L222.69,177.00 L223.00,177.00 L223.32,177.00 L223.64,177.00 L223.96,177.00 L224.27,177.00 L224.59,177.00 L224.91,177.00 L225.23,177.00 L225.54,177.00 L225.86,177.00 L226.18,177.00 L226.49,177.00 L226.81,177.00 L227.13,177.00 L227.45,177.00 L227.76,177.00 L228.08,177.00 L228.40,177.00 L228.72,177.00 L229.03,177.00 L229.35,177.00 L229.67,177.00 L229.99,177.00 L230.30,177.00 L230.62,177.00 L230.94,177.00 L231.26,177.00 L231.57,177.00 L231.89,177.00 L232.21,177.00 L232.52,177.00 L232.84,177.00 L233.16,177.00 L233.48,177.00 L233.79,177.00 L234.11,177.00 L234.43,177.00 L234.75,177.00 L235.06,177.00 L235.38,177.00 L235.70,177.00 L236.02,177.00 L236.33,177.00 L236.65,177.00 L236.97,177.00 L237.29,177.00 L237.60,177.00 L237.92,177.00 L238.24,177.00 L238.55,177.00 L238.87,177.00 L239.19,177.00 L239.51,177.00 L239.83,176.75 L240.15,176.51 L240.47,176.26 L240.80,176.02 L241.12,175.77 L241.44,175.53 L241.76,175.28 L242.12,174.85 L242.48,174.41 L242.84,173.28 L243.21,173.26 L243.57,172.16 L243.89,171.36 L244.21,170.69 L244.53,169.25 L244.85,168.75 L245.18,167.37 L245.50,166.76 L245.82,165.76 L246.16,163.79 L246.50,161.74 L246.84,160.84 L247.17,159.11 L247.62,156.80 L248.08,154.59 L248.41,153.85 L248.75,152.92 L249.09,151.21 L249.43,151.06 L249.77,148.76 L250.11,147.89 L250.44,146.58 L250.78,145.15 L251.23,148.73 L251.68,151.98 L252.13,155.89 L252.59,158.74 L252.92,160.82 L253.26,163.24 L253.60,165.20 L253.94,167.85 L254.30,168.95 L254.66,169.89 L255.02,170.50 L255.38,171.86 L255.74,173.08 L256.08,173.57 L256.42,174.48 L256.76,175.20 L257.10,175.97 L257.55,176.14 L258.00,176.31 L258.45,175.63 L258.90,174.94" fill="none" stroke="#000" stroke-width="1.1" stroke-linejoin="round"/>
<rect x="213.10" y="180.80" width="46.50" height="35.90" fill="#fff" stroke="#555" stroke-width="1"/>
<path d="M213.80,214.88 L214.13,214.81 L214.46,214.75 L214.78,214.69 L215.11,214.63 L215.44,214.57 L215.77,214.50 L216.10,214.44 L216.42,214.38 L216.75,214.32 L217.08,214.26 L217.41,214.19 L217.74,214.04 L218.06,213.89 L218.39,214.58 L218.72,214.39 L219.05,213.74 L219.38,213.75 L219.70,212.44 L220.03,213.65 L220.36,213.78 L220.69,211.72 L221.02,212.43 L221.34,212.87 L221.66,211.72 L221.98,212.43 L222.30,211.07 L222.63,209.81 L222.95,209.70 L223.27,209.70 L223.63,209.84 L223.99,208.88 L224.35,208.53 L224.71,206.55 L225.07,206.29 L225.41,204.33 L225.75,203.80 L226.09,202.57 L226.43,199.92 L226.77,197.77 L227.10,196.25 L227.44,194.56 L227.78,192.74 L228.23,190.18 L228.68,188.50 L229.13,186.54 L229.58,185.51 L229.92,185.32 L230.26,184.47 L230.60,184.81 L230.94,185.70 L231.28,184.13 L231.61,182.91 L231.95,185.49 L232.29,186.02 L232.63,188.81 L232.97,191.78 L233.31,197.42 L233.64,202.15 L233.98,206.74 L234.32,211.41 L234.66,213.44 L235.00,214.88 L235.45,215.39 L235.90,215.90 L236.22,215.90 L236.54,215.90 L236.86,215.90 L237.18,215.90 L237.50,215.90 L237.82,215.90 L238.14,215.90 L238.45,215.90 L238.77,215.90 L239.09,215.90 L239.41,215.90 L239.73,215.90 L240.05,215.90 L240.37,215.90 L240.69,215.90 L241.01,215.90 L241.33,215.90 L241.65,215.90 L241.97,215.90 L242.29,215.90 L242.61,215.90 L242.93,215.90 L243.25,215.90 L243.57,215.90 L243.89,215.90 L244.20,215.90 L244.52,215.90 L244.84,215.90 L245.16,215.90 L245.48,215.90 L245.80,215.90 L246.12,215.90 L246.44,215.90 L246.76,215.90 L247.08,215.90 L247.40,215.90 L247.72,215.90 L248.04,215.90 L248.36,215.90 L248.68,215.90 L249.00,215.90 L249.32,215.90 L249.64,215.90 L249.96,215.90 L250.27,215.90 L250.59,215.90 L250.91,215.90 L251.23,215.90 L251.55,215.90 L251.87,215.90 L252.19,215.90 L252.51,215.90 L252.83,215.90 L253.15,215.90 L253.47,215.90 L253.79,215.90 L254.11,215.90 L254.43,215.90 L254.75,215.90 L255.07,215.90 L255.39,215.90 L255.71,215.90 L256.02,215.90 L256.34,215.90 L256.66,215.90 L256.98,215.90 L257.30,215.90 L257.62,215.90 L257.94,215.90 L258.26,215.90 L258.58,215.90 L258.90,215.90 L258.90,215.90 L213.80,215.90 Z" fill="#858585" stroke="none"/>
<path d="M213.80,215.90 L214.12,215.90 L214.43,215.90 L214.75,215.90 L215.06,215.90 L215.38,215.90 L215.69,215.90 L216.01,215.90 L216.33,215.90 L216.64,215.90 L216.96,215.90 L217.27,215.90 L217.59,215.90 L217.90,215.90 L218.22,215.90 L218.54,215.90 L218.85,215.90 L219.17,215.90 L219.48,215.90 L219.80,215.90 L220.11,215.90 L220.43,215.90 L220.75,215.90 L221.06,215.90 L221.38,215.90 L221.69,215.90 L222.01,215.90 L222.32,215.90 L222.64,215.90 L222.96,215.90 L223.27,215.90 L223.59,215.90 L223.90,215.90 L224.22,215.90 L224.53,215.90 L224.85,215.90 L225.17,215.90 L225.48,215.90 L225.80,215.90 L226.11,215.90 L226.43,215.90 L226.74,215.90 L227.06,215.90 L227.38,215.90 L227.69,215.90 L228.01,215.90 L228.32,215.90 L228.64,215.90 L228.95,215.90 L229.27,215.90 L229.58,215.90 L229.90,215.90 L230.22,215.90 L230.53,215.90 L230.85,215.90 L231.16,215.90 L231.48,215.90 L231.79,215.90 L232.11,215.90 L232.43,215.90 L232.74,215.90 L233.19,215.56 L233.64,215.22 L233.97,214.39 L234.29,213.67 L234.61,212.63 L234.93,211.12 L235.25,210.42 L235.58,209.50 L235.90,209.87 L236.24,208.83 L236.58,208.18 L236.91,206.33 L237.25,205.42 L237.59,206.30 L237.93,205.48 L238.27,204.60 L238.60,203.83 L238.93,202.92 L239.25,202.32 L239.57,202.60 L239.89,202.74 L240.22,201.50 L240.54,201.21 L240.86,200.42 L241.18,198.85 L241.50,198.61 L241.83,198.19 L242.15,197.20 L242.47,196.30 L242.79,196.79 L243.11,194.28 L243.44,193.55 L243.76,192.38 L244.08,191.57 L244.40,191.42 L244.73,190.43 L245.05,190.06 L245.37,188.00 L245.71,188.24 L246.05,187.29 L246.38,186.06 L246.72,185.22 L247.08,185.88 L247.44,187.49 L247.81,188.62 L248.17,189.33 L248.53,190.46 L248.87,192.05 L249.20,194.88 L249.54,195.27 L249.88,197.93 L250.24,201.14 L250.60,203.18 L250.96,205.23 L251.32,207.45 L251.68,210.19 L252.04,209.80 L252.41,210.59 L252.77,212.76 L253.13,213.82 L253.49,214.88 L253.85,215.08 L254.21,215.29 L254.57,215.49 L254.93,215.70 L255.29,215.90 L255.62,215.90 L255.95,215.90 L256.28,215.90 L256.60,215.90 L256.93,215.90 L257.26,215.90 L257.59,215.90 L257.92,215.90 L258.24,215.90 L258.57,215.90 L258.90,215.90" fill="none" stroke="#000" stroke-width="1.6" stroke-linejoin="round"/>
<rect x="263.70" y="141.70" width="46.50" height="36.10" fill="#fff" stroke="#555" stroke-width="1"/>
<path d="M264.40,175.97 L264.73,175.91 L265.06,175.85 L265.38,175.78 L265.71,175.72 L266.04,175.66 L266.37,175.60 L266.70,175.53 L267.02,175.47 L267.35,175.41 L267.68,175.35 L268.01,175.28 L268.34,175.13 L268.66,174.97 L268.99,175.41 L269.32,175.17 L269.65,174.93 L269.98,174.88 L270.30,174.02 L270.63,174.53 L270.96,174.05 L271.29,174.49 L271.62,172.73 L271.94,173.53 L272.26,172.97 L272.58,172.37 L272.90,171.37 L273.23,172.02 L273.55,170.65 L273.87,171.17 L274.23,170.35 L274.59,169.61 L274.95,169.90 L275.31,168.27 L275.67,168.05 L276.01,166.96 L276.35,163.86 L276.69,163.70 L277.03,161.62 L277.37,159.30 L277.70,157.85 L278.04,156.52 L278.38,154.32 L278.83,151.50 L279.28,148.29 L279.73,148.31 L280.19,146.01 L280.52,145.79 L280.86,144.87 L281.20,144.71 L281.54,146.11 L281.88,145.32 L282.21,144.22 L282.55,145.45 L282.89,147.96 L283.23,150.53 L283.57,153.66 L283.91,158.11 L284.24,162.20 L284.58,167.32 L284.92,171.79 L285.26,173.96 L285.60,175.97 L286.05,176.49 L286.50,177.00 L286.82,177.00 L287.14,177.00 L287.46,177.00 L287.78,177.00 L288.10,177.00 L288.42,177.00 L288.74,177.00 L289.05,177.00 L289.37,177.00 L289.69,177.00 L290.01,177.00 L290.33,177.00 L290.65,177.00 L290.97,177.00 L291.29,177.00 L291.61,177.00 L291.93,177.00 L292.25,177.00 L292.57,177.00 L292.89,177.00 L293.21,177.00 L293.53,177.00 L293.85,177.00 L294.17,177.00 L294.49,177.00 L294.80,177.00 L295.12,177.00 L295.44,177.00 L295.76,177.00 L296.08,177.00 L296.40,177.00 L296.72,177.00 L297.04,177.00 L297.36,177.00 L297.68,177.00 L298.00,177.00 L298.32,177.00 L298.64,177.00 L298.96,177.00 L299.28,177.00 L299.60,177.00 L299.92,177.00 L300.24,177.00 L300.56,177.00 L300.87,177.00 L301.19,177.00 L301.51,177.00 L301.83,177.00 L302.15,177.00 L302.47,177.00 L302.79,177.00 L303.11,177.00 L303.43,177.00 L303.75,177.00 L304.07,177.00 L304.39,177.00 L304.71,177.00 L305.03,177.00 L305.35,177.00 L305.67,177.00 L305.99,177.00 L306.31,177.00 L306.62,177.00 L306.94,177.00 L307.26,177.00 L307.58,177.00 L307.90,177.00 L308.22,177.00 L308.54,177.00 L308.86,177.00 L309.18,177.00 L309.50,177.00 L309.50,177.00 L264.40,177.00 Z" fill="#858585" stroke="none"/>
<path d="M264.40,177.00 L264.72,177.00 L265.04,177.00 L265.36,177.00 L265.68,177.00 L266.00,177.00 L266.31,177.00 L266.63,177.00 L266.95,177.00 L267.27,177.00 L267.59,177.00 L267.91,177.00 L268.23,177.00 L268.55,177.00 L268.87,177.00 L269.19,177.00 L269.50,177.00 L269.82,177.00 L270.14,177.00 L270.46,177.00 L270.78,177.00 L271.10,177.00 L271.42,177.00 L271.74,177.00 L272.06,177.00 L272.38,177.00 L272.69,177.00 L273.01,177.00 L273.33,177.00 L273.65,177.00 L273.97,177.00 L274.29,177.00 L274.61,177.00 L274.93,177.00 L275.25,177.00 L275.56,177.00 L275.88,177.00 L276.20,177.00 L276.52,177.00 L276.84,177.00 L277.16,177.00 L277.48,177.00 L277.80,177.00 L278.12,177.00 L278.44,177.00 L278.75,177.00 L279.07,177.00 L279.39,177.00 L279.71,177.00 L280.03,177.00 L280.35,177.00 L280.67,177.00 L280.99,177.00 L281.31,177.00 L281.63,177.00 L281.94,177.00 L282.26,177.00 L282.58,177.00 L282.90,177.00 L283.22,177.00 L283.54,177.00 L283.86,177.00 L284.18,177.00 L284.50,177.00 L284.82,177.00 L285.13,177.00 L285.45,177.00 L285.77,177.00 L286.09,177.00 L286.41,177.00 L286.73,177.00 L287.05,177.00 L287.37,177.00 L287.69,177.00 L288.01,177.00 L288.32,177.00 L288.64,177.00 L288.96,177.00 L289.28,177.00 L289.60,177.00 L289.92,177.00 L290.24,177.00 L290.56,177.00 L290.88,176.75 L291.20,176.51 L291.52,176.26 L291.85,176.02 L292.17,175.77 L292.49,175.53 L292.81,175.28 L293.17,174.54 L293.53,173.64 L293.90,173.08 L294.26,172.84 L294.62,172.04 L294.94,170.91 L295.26,170.67 L295.58,169.09 L295.91,167.86 L296.23,167.01 L296.55,166.06 L296.87,165.36 L297.21,164.04 L297.55,161.78 L297.89,160.62 L298.22,158.51 L298.68,156.45 L299.13,155.16 L299.47,154.03 L299.80,152.36 L300.14,151.47 L300.48,150.93 L300.82,149.52 L301.16,148.03 L301.49,145.80 L301.83,144.44 L302.28,148.90 L302.73,151.97 L303.19,155.07 L303.64,158.66 L303.98,161.12 L304.31,163.06 L304.65,165.63 L304.99,167.90 L305.35,168.01 L305.71,169.44 L306.07,170.66 L306.43,171.34 L306.79,172.95 L307.13,173.27 L307.47,174.09 L307.81,175.20 L308.15,175.97 L308.60,176.14 L309.05,176.31 L309.50,174.94" fill="none" stroke="#000" stroke-width="1.1" stroke-linejoin="round"/>
<rect x="263.70" y="180.80" width="46.50" height="35.90" fill="#fff" stroke="#555" stroke-width="1"/>
<path d="M264.40,214.88 L264.73,214.81 L265.06,214.75 L265.38,214.69 L265.71,214.63 L266.04,214.57 L266.37,214.50 L266.70,214.44 L267.02,214.38 L267.35,214.32 L267.68,214.26 L268.01,214.19 L268.34,214.04 L268.66,213.89 L268.99,212.83 L269.32,213.30 L269.65,212.80 L269.98,214.12 L270.30,212.38 L270.63,213.84 L270.96,212.06 L271.29,212.74 L271.62,212.82 L271.94,212.04 L272.26,210.94 L272.58,211.94 L272.90,211.88 L273.23,210.73 L273.55,210.98 L273.87,210.90 L274.23,210.05 L274.59,209.52 L274.95,208.46 L275.31,207.49 L275.67,206.75 L276.01,204.37 L276.35,203.88 L276.69,202.00 L277.03,201.21 L277.37,199.08 L277.70,197.96 L278.04,195.69 L278.38,194.39 L278.83,190.19 L279.28,187.83 L279.73,187.21 L280.19,185.26 L280.52,183.47 L280.86,184.31 L281.20,183.70 L281.54,185.35 L281.88,184.54 L282.21,183.16 L282.55,185.60 L282.89,186.90 L283.23,189.43 L283.57,191.72 L283.91,197.47 L284.24,200.90 L284.58,205.76 L284.92,210.51 L285.26,213.03 L285.60,214.88 L286.05,215.39 L286.50,215.90 L286.82,215.90 L287.14,215.90 L287.46,215.90 L287.78,215.90 L288.10,215.90 L288.42,215.90 L288.74,215.90 L289.05,215.90 L289.37,215.90 L289.69,215.90 L290.01,215.90 L290.33,215.90 L290.65,215.90 L290.97,215.90 L291.29,215.90 L291.61,215.90 L291.93,215.90 L292.25,215.90 L292.57,215.90 L292.89,215.90 L293.21,215.90 L293.53,215.90 L293.85,215.90 L294.17,215.90 L294.49,215.90 L294.80,215.90 L295.12,215.90 L295.44,215.90 L295.76,215.90 L296.08,215.90 L296.40,215.90 L296.72,215.90 L297.04,215.90 L297.36,215.90 L297.68,215.90 L298.00,215.90 L298.32,215.90 L298.64,215.90 L298.96,215.90 L299.28,215.90 L299.60,215.90 L299.92,215.90 L300.24,215.90 L300.56,215.90 L300.87,215.90 L301.19,215.90 L301.51,215.90 L301.83,215.90 L302.15,215.90 L302.47,215.90 L302.79,215.90 L303.11,215.90 L303.43,215.90 L303.75,215.90 L304.07,215.90 L304.39,215.90 L304.71,215.90 L305.03,215.90 L305.35,215.90 L305.67,215.90 L305.99,215.90 L306.31,215.90 L306.62,215.90 L306.94,215.90 L307.26,215.90 L307.58,215.90 L307.90,215.90 L308.22,215.90 L308.54,215.90 L308.86,215.90 L309.18,215.90 L309.50,215.90 L309.50,215.90 L264.40,215.90 Z" fill="#858585" stroke="none"/>
<path d="M264.40,215.90 L264.72,215.90 L265.04,215.90 L265.37,215.90 L265.69,215.90 L266.01,215.90 L266.33,215.90 L266.65,215.90 L266.98,215.90 L267.30,215.90 L267.62,215.90 L267.94,215.90 L268.27,215.90 L268.59,215.90 L268.91,215.90 L269.23,215.90 L269.55,215.90 L269.88,215.90 L270.20,215.90 L270.52,215.90 L270.84,215.90 L271.16,215.90 L271.49,215.90 L271.81,215.90 L272.13,215.90 L272.45,215.90 L272.78,215.90 L273.10,215.90 L273.42,215.90 L273.74,215.90 L274.06,215.90 L274.39,215.90 L274.71,215.90 L275.03,215.90 L275.35,215.90 L275.67,215.90 L276.00,215.90 L276.32,215.90 L276.64,215.90 L276.96,215.90 L277.29,215.90 L277.61,215.90 L277.93,215.90 L278.27,215.73 L278.61,215.56 L278.94,215.39 L279.28,215.22 L279.60,214.88 L279.91,214.54 L280.23,214.19 L280.55,213.85 L280.86,212.61 L281.18,212.76 L281.49,212.06 L281.81,211.59 L282.12,212.64 L282.44,211.69 L282.76,210.27 L283.08,209.85 L283.41,210.65 L283.73,210.05 L284.05,208.76 L284.37,208.88 L284.69,207.91 L285.01,207.40 L285.33,205.32 L285.64,204.24 L285.96,203.15 L286.27,203.82 L286.59,201.82 L286.90,201.08 L287.22,201.29 L287.54,198.92 L287.85,197.89 L288.21,198.74 L288.57,196.56 L288.93,197.01 L289.30,196.15 L289.66,194.44 L289.99,194.16 L290.33,194.94 L290.67,193.79 L291.01,193.02 L291.35,192.79 L291.69,192.48 L292.02,191.63 L292.36,190.21 L292.68,190.92 L293.01,189.09 L293.33,188.60 L293.65,188.73 L293.97,187.36 L294.29,186.03 L294.62,185.53 L294.96,186.19 L295.29,184.05 L295.63,184.19 L295.97,183.56 L296.33,185.88 L296.69,186.10 L297.05,187.11 L297.41,186.14 L297.77,187.73 L298.13,189.79 L298.50,190.96 L298.86,191.73 L299.22,193.70 L299.58,196.62 L299.94,199.50 L300.30,200.58 L300.66,203.96 L301.02,206.35 L301.38,210.26 L301.74,211.42 L302.10,211.22 L302.46,212.85 L302.83,214.66 L303.19,214.88 L303.55,215.08 L303.91,215.29 L304.27,215.49 L304.63,215.70 L304.99,215.90 L305.31,215.90 L305.63,215.90 L305.96,215.90 L306.28,215.90 L306.60,215.90 L306.92,215.90 L307.25,215.90 L307.57,215.90 L307.89,215.90 L308.21,215.90 L308.53,215.90 L308.86,215.90 L309.18,215.90 L309.50,215.90" fill="none" stroke="#000" stroke-width="1.6" stroke-linejoin="round"/>
<rect x="313.10" y="141.70" width="46.50" height="36.10" fill="#fff" stroke="#555" stroke-width="1"/>
<path d="M313.80,175.97 L314.13,175.91 L314.46,175.85 L314.78,175.78 L315.11,175.72 L315.44,175.66 L315.77,175.60 L316.10,175.53 L316.42,175.47 L316.75,175.41 L317.08,175.35 L317.41,175.28 L317.74,175.13 L318.06,174.97 L318.39,174.30 L318.72,174.34 L319.05,174.06 L319.38,173.57 L319.70,174.42 L320.03,174.40 L320.36,172.88 L320.69,174.45 L321.02,173.11 L321.34,172.93 L321.66,173.82 L321.98,171.85 L322.30,171.39 L322.63,171.59 L322.95,171.03 L323.27,170.53 L323.63,171.16 L323.99,169.61 L324.35,168.90 L324.71,167.46 L325.07,166.77 L325.41,165.27 L325.75,164.31 L326.09,162.21 L326.43,161.19 L326.77,159.37 L327.10,158.52 L327.44,157.13 L327.78,155.12 L328.23,151.90 L328.68,149.69 L329.13,146.81 L329.59,146.01 L329.92,145.01 L330.26,144.16 L330.60,144.90 L330.94,146.15 L331.28,146.47 L331.61,144.15 L331.95,145.79 L332.29,147.84 L332.63,150.69 L332.97,153.35 L333.31,159.03 L333.64,162.11 L333.98,167.73 L334.32,172.73 L334.66,174.40 L335.00,175.97 L335.45,176.49 L335.90,177.00 L336.22,177.00 L336.54,177.00 L336.86,177.00 L337.18,177.00 L337.50,177.00 L337.82,177.00 L338.14,177.00 L338.45,177.00 L338.77,177.00 L339.09,177.00 L339.41,177.00 L339.73,177.00 L340.05,177.00 L340.37,177.00 L340.69,177.00 L341.01,177.00 L341.33,177.00 L341.65,177.00 L341.97,177.00 L342.29,177.00 L342.61,177.00 L342.93,177.00 L343.25,177.00 L343.57,177.00 L343.89,177.00 L344.20,177.00 L344.52,177.00 L344.84,177.00 L345.16,177.00 L345.48,177.00 L345.80,177.00 L346.12,177.00 L346.44,177.00 L346.76,177.00 L347.08,177.00 L347.40,177.00 L347.72,177.00 L348.04,177.00 L348.36,177.00 L348.68,177.00 L349.00,177.00 L349.32,177.00 L349.64,177.00 L349.96,177.00 L350.27,177.00 L350.59,177.00 L350.91,177.00 L351.23,177.00 L351.55,177.00 L351.87,177.00 L352.19,177.00 L352.51,177.00 L352.83,177.00 L353.15,177.00 L353.47,177.00 L353.79,177.00 L354.11,177.00 L354.43,177.00 L354.75,177.00 L355.07,177.00 L355.39,177.00 L355.71,177.00 L356.02,177.00 L356.34,177.00 L356.66,177.00 L356.98,177.00 L357.30,177.00 L357.62,177.00 L357.94,177.00 L358.26,177.00 L358.58,177.00 L358.90,177.00 L358.90,177.00 L313.80,177.00 Z" fill="#858585" stroke="none"/>
<path d="M313.80,177.00 L314.12,177.00 L314.43,177.00 L314.75,177.00 L315.07,177.00 L315.39,177.00 L315.70,177.00 L316.02,177.00 L316.34,177.00 L316.66,177.00 L316.97,177.00 L317.29,177.00 L317.61,177.00 L317.93,177.00 L318.24,177.00 L318.56,177.00 L318.88,177.00 L319.20,177.00 L319.51,177.00 L319.83,177.00 L320.15,177.00 L320.46,177.00 L320.78,177.00 L321.10,177.00 L321.42,177.00 L321.73,177.00 L322.05,177.00 L322.37,177.00 L322.69,177.00 L323.00,177.00 L323.32,177.00 L323.64,177.00 L323.96,177.00 L324.27,177.00 L324.59,177.00 L324.91,177.00 L325.23,177.00 L325.54,177.00 L325.86,177.00 L326.18,177.00 L326.49,177.00 L326.81,177.00 L327.13,177.00 L327.45,177.00 L327.76,177.00 L328.08,177.00 L328.40,177.00 L328.72,177.00 L329.03,177.00 L329.35,177.00 L329.67,177.00 L329.99,177.00 L330.30,177.00 L330.62,177.00 L330.94,177.00 L331.26,177.00 L331.57,177.00 L331.89,177.00 L332.21,177.00 L332.52,177.00 L332.84,177.00 L333.16,177.00 L333.48,177.00 L333.79,177.00 L334.11,177.00 L334.43,177.00 L334.75,177.00 L335.06,177.00 L335.38,177.00 L335.70,177.00 L336.02,177.00 L336.33,177.00 L336.65,177.00 L336.97,177.00 L337.29,177.00 L337.60,177.00 L337.92,177.00 L338.24,177.00 L338.55,177.00 L338.87,177.00 L339.19,177.00 L339.51,177.00 L339.83,176.75 L340.15,176.51 L340.47,176.26 L340.80,176.02 L341.12,175.77 L341.44,175.53 L341.76,175.28 L342.12,174.82 L342.48,174.51 L342.84,173.81 L343.21,173.26 L343.57,171.95 L343.89,171.47 L344.21,170.58 L344.53,169.69 L344.85,167.93 L345.18,166.92 L345.50,166.14 L345.82,165.56 L346.16,163.97 L346.50,162.29 L346.84,160.49 L347.17,159.17 L347.62,156.99 L348.08,155.29 L348.41,153.46 L348.75,152.33 L349.09,151.66 L349.43,150.85 L349.77,148.65 L350.11,147.87 L350.44,146.36 L350.78,145.27 L351.23,148.65 L351.68,152.33 L352.13,155.56 L352.59,159.13 L352.92,160.96 L353.26,163.62 L353.60,165.49 L353.94,167.82 L354.30,168.60 L354.66,170.06 L355.02,171.18 L355.38,171.99 L355.74,173.16 L356.08,173.57 L356.42,174.40 L356.76,175.20 L357.10,175.97 L357.55,176.14 L358.00,176.31 L358.45,175.63 L358.90,174.94" fill="none" stroke="#000" stroke-width="1.1" stroke-linejoin="round"/>
<rect x="313.10" y="180.80" width="46.50" height="35.90" fill="#fff" stroke="#555" stroke-width="1"/>
<path d="M313.80,214.88 L314.13,214.81 L314.46,214.75 L314.78,214.69 L315.11,214.63 L315.44,214.57 L315.77,214.50 L316.10,214.44 L316.42,214.38 L316.75,214.32 L317.08,214.26 L317.41,214.19 L317.74,214.04 L318.06,213.89 L318.39,213.04 L318.72,214.35 L319.05,212.55 L319.38,212.83 L319.70,212.29 L320.03,213.39 L320.36,213.06 L320.69,212.86 L321.02,211.47 L321.34,211.97 L321.66,212.09 L321.98,211.61 L322.30,211.59 L322.63,211.71 L322.95,211.26 L323.27,209.42 L323.63,209.79 L323.99,207.71 L324.35,208.37 L324.71,207.58 L325.07,206.33 L325.41,205.54 L325.75,203.71 L326.09,201.07 L326.43,199.77 L326.77,198.13 L327.10,196.71 L327.44,194.34 L327.78,192.49 L328.23,190.57 L328.68,187.49 L329.13,187.50 L329.59,184.73 L329.92,184.46 L330.26,182.99 L330.60,184.06 L330.94,185.65 L331.28,185.45 L331.61,182.97 L331.95,186.14 L332.29,186.97 L332.63,190.13 L332.97,193.13 L333.31,196.66 L333.64,200.60 L333.98,206.67 L334.32,210.47 L334.66,213.24 L335.00,214.88 L335.45,215.39 L335.90,215.90 L336.22,215.90 L336.54,215.90 L336.86,215.90 L337.18,215.90 L337.50,215.90 L337.82,215.90 L338.14,215.90 L338.45,215.90 L338.77,215.90 L339.09,215.90 L339.41,215.90 L339.73,215.90 L340.05,215.90 L340.37,215.90 L340.69,215.90 L341.01,215.90 L341.33,215.90 L341.65,215.90 L341.97,215.90 L342.29,215.90 L342.61,215.90 L342.93,215.90 L343.25,215.90 L343.57,215.90 L343.89,215.90 L344.20,215.90 L344.52,215.90 L344.84,215.90 L345.16,215.90 L345.48,215.90 L345.80,215.90 L346.12,215.90 L346.44,215.90 L346.76,215.90 L347.08,215.90 L347.40,215.90 L347.72,215.90 L348.04,215.90 L348.36,215.90 L348.68,215.90 L349.00,215.90 L349.32,215.90 L349.64,215.90 L349.96,215.90 L350.27,215.90 L350.59,215.90 L350.91,215.90 L351.23,215.90 L351.55,215.90 L351.87,215.90 L352.19,215.90 L352.51,215.90 L352.83,215.90 L353.15,215.90 L353.47,215.90 L353.79,215.90 L354.11,215.90 L354.43,215.90 L354.75,215.90 L355.07,215.90 L355.39,215.90 L355.71,215.90 L356.02,215.90 L356.34,215.90 L356.66,215.90 L356.98,215.90 L357.30,215.90 L357.62,215.90 L357.94,215.90 L358.26,215.90 L358.58,215.90 L358.90,215.90 L358.90,215.90 L313.80,215.90 Z" fill="#858585" stroke="none"/>
<path d="M313.80,203.84 L314.14,209.85 L314.48,214.19 L314.81,214.88 L315.15,215.56 L315.47,215.53 L315.79,215.51 L316.11,215.48 L316.43,215.46 L316.75,215.43 L317.07,215.41 L317.39,215.38 L317.70,215.36 L318.02,215.33 L318.34,215.31 L318.66,215.28 L318.98,215.26 L319.30,215.23 L319.62,215.21 L319.94,215.18 L320.26,215.16 L320.58,215.13 L320.90,215.11 L321.21,215.08 L321.53,215.06 L321.85,215.04 L322.17,215.01 L322.49,214.99 L322.81,214.96 L323.13,214.94 L323.45,214.91 L323.77,214.89 L324.09,214.86 L324.40,214.84 L324.72,214.81 L325.04,214.79 L325.36,214.76 L325.68,214.74 L326.00,214.71 L326.32,214.69 L326.64,214.66 L326.96,214.64 L327.28,214.61 L327.59,214.59 L327.91,214.56 L328.23,214.54 L328.56,214.31 L328.88,214.08 L329.21,213.36 L329.53,212.65 L329.86,213.41 L330.19,213.41 L330.51,212.99 L330.84,212.34 L331.16,211.94 L331.50,211.68 L331.84,211.06 L332.18,211.65 L332.52,210.94 L332.85,210.15 L333.19,208.58 L333.55,208.32 L333.91,206.62 L334.28,206.60 L334.64,205.34 L335.00,203.76 L335.36,201.98 L335.72,200.98 L336.08,200.06 L336.44,199.89 L336.80,198.48 L337.14,197.98 L337.48,197.38 L337.82,197.50 L338.15,195.32 L338.49,197.42 L338.83,196.51 L339.17,197.28 L339.51,199.84 L339.96,197.40 L340.41,195.13 L340.73,194.29 L341.05,194.81 L341.38,194.65 L341.70,194.23 L342.02,192.19 L342.34,193.16 L342.66,191.86 L343.00,192.25 L343.34,190.96 L343.68,189.57 L344.02,190.74 L344.47,186.94 L344.92,185.19 L345.37,183.57 L345.82,183.09 L346.27,185.42 L346.72,185.42 L347.17,190.01 L347.62,194.71 L347.96,196.88 L348.30,198.01 L348.64,200.23 L348.98,202.67 L349.32,205.13 L349.65,206.84 L349.99,209.03 L350.33,210.09 L350.67,212.83 L351.01,212.32 L351.35,213.85 L351.68,214.88 L352.02,215.05 L352.36,215.22 L352.70,215.39 L353.04,215.56 L353.38,215.73 L353.71,215.90 L354.04,215.90 L354.36,215.90 L354.69,215.90 L355.01,215.90 L355.33,215.90 L355.66,215.90 L355.98,215.90 L356.31,215.90 L356.63,215.90 L356.96,215.90 L357.28,215.90 L357.60,215.90 L357.93,215.90 L358.25,215.90 L358.58,215.90 L358.90,215.90" fill="none" stroke="#000" stroke-width="1.6" stroke-linejoin="round"/>
<rect x="363.50" y="141.70" width="46.50" height="36.10" fill="#fff" stroke="#555" stroke-width="1"/>
<path d="M364.20,175.97 L364.53,175.91 L364.86,175.85 L365.18,175.78 L365.51,175.72 L365.84,175.66 L366.17,175.60 L366.50,175.53 L366.82,175.47 L367.15,175.41 L367.48,175.35 L367.81,175.28 L368.14,175.13 L368.46,174.97 L368.79,175.80 L369.12,175.62 L369.45,174.07 L369.78,173.54 L370.10,174.25 L370.43,173.86 L370.76,174.91 L371.09,173.95 L371.42,172.69 L371.74,172.56 L372.06,172.15 L372.38,171.57 L372.70,172.72 L373.03,172.66 L373.35,172.22 L373.67,171.12 L374.03,170.04 L374.39,168.75 L374.75,168.45 L375.11,167.85 L375.47,166.85 L375.81,166.03 L376.15,164.37 L376.49,163.97 L376.83,160.98 L377.17,160.31 L377.50,157.10 L377.84,155.86 L378.18,154.77 L378.63,152.38 L379.08,149.38 L379.53,147.22 L379.99,145.72 L380.32,146.07 L380.66,145.30 L381.00,145.22 L381.34,145.96 L381.68,145.67 L382.01,145.33 L382.35,146.09 L382.69,148.85 L383.03,151.17 L383.37,153.76 L383.71,157.19 L384.04,162.30 L384.38,166.43 L384.72,171.91 L385.06,174.46 L385.40,175.97 L385.85,176.49 L386.30,177.00 L386.62,177.00 L386.94,177.00 L387.26,177.00 L387.58,177.00 L387.90,177.00 L388.22,177.00 L388.54,177.00 L388.85,177.00 L389.17,177.00 L389.49,177.00 L389.81,177.00 L390.13,177.00 L390.45,177.00 L390.77,177.00 L391.09,177.00 L391.41,177.00 L391.73,177.00 L392.05,177.00 L392.37,177.00 L392.69,177.00 L393.01,177.00 L393.33,177.00 L393.65,177.00 L393.97,177.00 L394.29,177.00 L394.60,177.00 L394.92,177.00 L395.24,177.00 L395.56,177.00 L395.88,177.00 L396.20,177.00 L396.52,177.00 L396.84,177.00 L397.16,177.00 L397.48,177.00 L397.80,177.00 L398.12,177.00 L398.44,177.00 L398.76,177.00 L399.08,177.00 L399.40,177.00 L399.72,177.00 L400.04,177.00 L400.36,177.00 L400.67,177.00 L400.99,177.00 L401.31,177.00 L401.63,177.00 L401.95,177.00 L402.27,177.00 L402.59,177.00 L402.91,177.00 L403.23,177.00 L403.55,177.00 L403.87,177.00 L404.19,177.00 L404.51,177.00 L404.83,177.00 L405.15,177.00 L405.47,177.00 L405.79,177.00 L406.11,177.00 L406.42,177.00 L406.74,177.00 L407.06,177.00 L407.38,177.00 L407.70,177.00 L408.02,177.00 L408.34,177.00 L408.66,177.00 L408.98,177.00 L409.30,177.00 L409.30,177.00 L364.20,177.00 Z" fill="#858585" stroke="none"/>
<path d="M364.20,177.00 L364.52,177.00 L364.84,177.00 L365.16,177.00 L365.48,177.00 L365.80,177.00 L366.11,177.00 L366.43,177.00 L366.75,177.00 L367.07,177.00 L367.39,177.00 L367.71,177.00 L368.03,177.00 L368.35,177.00 L368.67,177.00 L368.99,177.00 L369.30,177.00 L369.62,177.00 L369.94,177.00 L370.26,177.00 L370.58,177.00 L370.90,177.00 L371.22,177.00 L371.54,177.00 L371.86,177.00 L372.18,177.00 L372.49,177.00 L372.81,177.00 L373.13,177.00 L373.45,177.00 L373.77,177.00 L374.09,177.00 L374.41,177.00 L374.73,177.00 L375.05,177.00 L375.37,177.00 L375.68,177.00 L376.00,177.00 L376.32,177.00 L376.64,177.00 L376.96,177.00 L377.28,177.00 L377.60,177.00 L377.92,177.00 L378.24,177.00 L378.56,177.00 L378.87,177.00 L379.19,177.00 L379.51,177.00 L379.83,177.00 L380.15,177.00 L380.47,177.00 L380.79,177.00 L381.11,177.00 L381.43,177.00 L381.75,177.00 L382.06,177.00 L382.38,177.00 L382.70,177.00 L383.02,177.00 L383.34,177.00 L383.66,177.00 L383.98,177.00 L384.30,177.00 L384.62,177.00 L384.94,177.00 L385.25,177.00 L385.57,177.00 L385.89,177.00 L386.21,177.00 L386.53,177.00 L386.85,177.00 L387.17,177.00 L387.49,177.00 L387.81,177.00 L388.12,177.00 L388.44,177.00 L388.76,177.00 L389.08,177.00 L389.40,177.00 L389.72,177.00 L390.04,177.00 L390.36,177.00 L390.68,176.75 L391.00,176.51 L391.32,176.26 L391.65,176.02 L391.97,175.77 L392.29,175.53 L392.61,175.28 L392.97,174.61 L393.33,174.16 L393.70,173.78 L394.06,173.16 L394.42,172.50 L394.74,170.80 L395.06,170.24 L395.38,169.55 L395.71,167.86 L396.03,166.79 L396.35,166.37 L396.67,165.71 L397.01,164.03 L397.35,162.50 L397.69,160.61 L398.02,159.24 L398.48,157.20 L398.93,155.30 L399.27,153.86 L399.60,152.42 L399.94,151.45 L400.28,150.68 L400.62,149.22 L400.96,147.65 L401.29,146.34 L401.63,144.92 L402.08,148.98 L402.53,152.53 L402.99,155.08 L403.44,159.21 L403.78,160.96 L404.11,162.98 L404.45,164.88 L404.79,167.69 L405.15,168.73 L405.51,169.85 L405.87,170.79 L406.23,171.84 L406.59,172.42 L406.93,173.30 L407.27,174.04 L407.61,175.20 L407.95,175.97 L408.40,176.14 L408.85,176.31 L409.30,174.94" fill="none" stroke="#000" stroke-width="1.1" stroke-linejoin="round"/>
<rect x="363.50" y="180.80" width="46.50" height="35.90" fill="#fff" stroke="#555" stroke-width="1"/>
<path d="M364.20,214.88 L364.53,214.81 L364.86,214.75 L365.18,214.69 L365.51,214.63 L365.84,214.57 L366.17,214.50 L366.50,214.44 L366.82,214.38 L367.15,214.32 L367.48,214.26 L367.81,214.19 L368.14,214.04 L368.46,213.89 L368.79,213.51 L369.12,213.93 L369.45,213.79 L369.78,213.55 L370.10,212.53 L370.43,213.82 L370.76,213.42 L371.09,212.13 L371.42,213.01 L371.74,213.04 L372.06,212.76 L372.38,211.36 L372.70,211.48 L373.03,209.80 L373.35,209.66 L373.67,209.10 L374.03,209.83 L374.39,209.45 L374.75,208.68 L375.11,207.11 L375.47,205.92 L375.81,205.01 L376.15,204.00 L376.49,202.17 L376.83,200.31 L377.17,198.41 L377.50,196.47 L377.84,194.47 L378.18,193.06 L378.63,191.44 L379.08,187.24 L379.53,187.00 L379.99,185.07 L380.32,184.62 L380.66,183.02 L381.00,184.97 L381.34,185.73 L381.68,185.05 L382.01,184.56 L382.35,184.59 L382.69,186.75 L383.03,190.17 L383.37,192.92 L383.71,196.14 L384.04,201.56 L384.38,206.73 L384.72,210.15 L385.06,212.52 L385.40,214.88 L385.85,215.39 L386.30,215.90 L386.62,215.90 L386.94,215.90 L387.26,215.90 L387.58,215.90 L387.90,215.90 L388.22,215.90 L388.54,215.90 L388.85,215.90 L389.17,215.90 L389.49,215.90 L389.81,215.90 L390.13,215.90 L390.45,215.90 L390.77,215.90 L391.09,215.90 L391.41,215.90 L391.73,215.90 L392.05,215.90 L392.37,215.90 L392.69,215.90 L393.01,215.90 L393.33,215.90 L393.65,215.90 L393.97,215.90 L394.29,215.90 L394.60,215.90 L394.92,215.90 L395.24,215.90 L395.56,215.90 L395.88,215.90 L396.20,215.90 L396.52,215.90 L396.84,215.90 L397.16,215.90 L397.48,215.90 L397.80,215.90 L398.12,215.90 L398.44,215.90 L398.76,215.90 L399.08,215.90 L399.40,215.90 L399.72,215.90 L400.04,215.90 L400.36,215.90 L400.67,215.90 L400.99,215.90 L401.31,215.90 L401.63,215.90 L401.95,215.90 L402.27,215.90 L402.59,215.90 L402.91,215.90 L403.23,215.90 L403.55,215.90 L403.87,215.90 L404.19,215.90 L404.51,215.90 L404.83,215.90 L405.15,215.90 L405.47,215.90 L405.79,215.90 L406.11,215.90 L406.42,215.90 L406.74,215.90 L407.06,215.90 L407.38,215.90 L407.70,215.90 L408.02,215.90 L408.34,215.90 L408.66,215.90 L408.98,215.90 L409.30,215.90 L409.30,215.90 L364.20,215.90 Z" fill="#858585" stroke="none"/>
<path d="M364.20,213.01 L364.52,211.60 L364.84,212.17 L365.17,213.03 L365.49,213.66 L365.81,212.74 L366.13,212.43 L366.45,212.99 L366.78,213.38 L367.10,212.59 L367.42,212.11 L367.74,213.58 L368.07,214.03 L368.39,213.45 L368.71,213.33 L369.04,212.86 L369.37,213.91 L369.69,212.75 L370.02,212.93 L370.35,213.47 L370.68,214.15 L371.01,212.64 L371.33,214.05 L371.66,213.08 L371.99,214.34 L372.32,213.85 L372.63,213.98 L372.95,212.43 L373.27,212.94 L373.58,211.16 L373.90,211.65 L374.21,211.83 L374.53,211.32 L374.84,210.48 L375.16,209.53 L375.47,208.50 L375.80,209.52 L376.13,208.40 L376.46,208.15 L376.79,205.97 L377.12,207.05 L377.44,206.62 L377.77,205.98 L378.10,204.68 L378.43,203.03 L378.75,202.44 L379.08,202.12 L379.41,200.66 L379.73,199.87 L380.05,200.17 L380.37,199.54 L380.69,197.08 L381.02,196.54 L381.34,197.08 L381.70,194.42 L382.06,193.64 L382.42,192.29 L382.78,191.01 L383.14,189.98 L383.59,191.34 L384.04,191.80 L384.40,193.02 L384.77,193.14 L385.13,196.21 L385.49,195.85 L385.85,198.77 L386.17,199.19 L386.49,198.97 L386.81,199.70 L387.14,201.23 L387.46,202.74 L387.78,202.61 L388.10,203.54 L388.43,201.89 L388.75,202.84 L389.07,201.95 L389.39,200.33 L389.71,201.56 L390.04,200.25 L390.36,198.89 L390.68,198.30 L391.00,199.11 L391.32,198.44 L391.65,197.70 L391.97,195.26 L392.29,195.94 L392.61,194.25 L392.94,192.87 L393.26,192.94 L393.58,192.01 L393.90,189.53 L394.22,189.16 L394.55,188.81 L394.87,186.81 L395.23,187.84 L395.59,188.12 L395.95,188.89 L396.31,187.55 L396.67,187.43 L397.01,186.73 L397.35,184.81 L397.69,185.42 L398.02,183.71 L398.36,185.60 L398.70,187.00 L399.04,189.40 L399.38,192.94 L399.74,196.09 L400.10,198.58 L400.46,201.32 L400.82,203.29 L401.18,207.68 L401.54,207.78 L401.90,209.27 L402.26,210.47 L402.63,211.93 L402.99,213.85 L403.31,214.05 L403.63,214.24 L403.95,214.44 L404.27,214.63 L404.60,214.83 L404.92,215.02 L405.24,215.22 L405.58,215.22 L405.92,215.22 L406.26,215.22 L406.59,215.22 L406.93,215.22 L407.27,215.22 L407.61,215.22 L407.95,215.22 L408.29,215.22 L408.62,215.22 L408.96,215.22 L409.30,215.22" fill="none" stroke="#000" stroke-width="1.6" stroke-linejoin="round"/>
<rect x="414.30" y="141.70" width="46.50" height="36.10" fill="#fff" stroke="#555" stroke-width="1"/>
<path d="M415.00,175.97 L415.33,175.91 L415.66,175.85 L415.98,175.78 L416.31,175.72 L416.64,175.66 L416.97,175.60 L417.30,175.53 L417.62,175.47 L417.95,175.41 L418.28,175.35 L418.61,175.28 L418.94,175.13 L419.26,174.97 L419.59,174.71 L419.92,174.37 L420.25,175.35 L420.58,175.04 L420.90,173.79 L421.23,174.22 L421.56,174.33 L421.89,174.12 L422.22,172.64 L422.54,173.61 L422.86,172.75 L423.18,172.83 L423.50,172.37 L423.83,171.11 L424.15,170.49 L424.47,171.45 L424.83,171.04 L425.19,169.19 L425.55,169.52 L425.91,169.17 L426.27,166.57 L426.61,166.10 L426.95,163.82 L427.29,163.22 L427.63,160.78 L427.97,159.84 L428.30,158.66 L428.64,157.16 L428.98,154.26 L429.43,151.33 L429.88,148.03 L430.33,148.35 L430.79,145.88 L431.12,145.54 L431.46,144.41 L431.80,146.00 L432.14,146.58 L432.48,145.40 L432.81,143.88 L433.15,147.11 L433.49,147.86 L433.83,150.13 L434.17,152.72 L434.51,158.76 L434.84,163.36 L435.18,166.31 L435.52,170.88 L435.86,173.95 L436.20,175.97 L436.65,176.49 L437.10,177.00 L437.42,177.00 L437.74,177.00 L438.06,177.00 L438.38,177.00 L438.70,177.00 L439.02,177.00 L439.34,177.00 L439.65,177.00 L439.97,177.00 L440.29,177.00 L440.61,177.00 L440.93,177.00 L441.25,177.00 L441.57,177.00 L441.89,177.00 L442.21,177.00 L442.53,177.00 L442.85,177.00 L443.17,177.00 L443.49,177.00 L443.81,177.00 L444.13,177.00 L444.45,177.00 L444.77,177.00 L445.09,177.00 L445.40,177.00 L445.72,177.00 L446.04,177.00 L446.36,177.00 L446.68,177.00 L447.00,177.00 L447.32,177.00 L447.64,177.00 L447.96,177.00 L448.28,177.00 L448.60,177.00 L448.92,177.00 L449.24,177.00 L449.56,177.00 L449.88,177.00 L450.20,177.00 L450.52,177.00 L450.84,177.00 L451.16,177.00 L451.47,177.00 L451.79,177.00 L452.11,177.00 L452.43,177.00 L452.75,177.00 L453.07,177.00 L453.39,177.00 L453.71,177.00 L454.03,177.00 L454.35,177.00 L454.67,177.00 L454.99,177.00 L455.31,177.00 L455.63,177.00 L455.95,177.00 L456.27,177.00 L456.59,177.00 L456.91,177.00 L457.22,177.00 L457.54,177.00 L457.86,177.00 L458.18,177.00 L458.50,177.00 L458.82,177.00 L459.14,177.00 L459.46,177.00 L459.78,177.00 L460.10,177.00 L460.10,177.00 L415.00,177.00 Z" fill="#858585" stroke="none"/>
<path d="M415.00,177.00 L415.32,177.00 L415.64,177.00 L415.95,177.00 L416.27,177.00 L416.59,177.00 L416.91,177.00 L417.23,177.00 L417.54,177.00 L417.86,177.00 L418.18,177.00 L418.50,177.00 L418.82,177.00 L419.13,177.00 L419.45,177.00 L419.77,177.00 L420.09,177.00 L420.41,177.00 L420.72,177.00 L421.04,177.00 L421.36,177.00 L421.68,177.00 L422.00,177.00 L422.31,177.00 L422.63,177.00 L422.95,177.00 L423.27,177.00 L423.59,177.00 L423.90,177.00 L424.22,177.00 L424.54,177.00 L424.86,177.00 L425.18,177.00 L425.49,177.00 L425.81,177.00 L426.13,177.00 L426.45,177.00 L426.77,177.00 L427.08,177.00 L427.40,177.00 L427.72,177.00 L428.04,177.00 L428.36,177.00 L428.67,177.00 L428.99,177.00 L429.31,177.00 L429.63,177.00 L429.95,177.00 L430.26,177.00 L430.58,177.00 L430.90,177.00 L431.22,177.00 L431.54,177.00 L431.85,177.00 L432.17,177.00 L432.49,177.00 L432.81,177.00 L433.13,177.00 L433.44,177.00 L433.76,177.00 L434.08,177.00 L434.40,177.00 L434.72,177.00 L435.03,177.00 L435.35,177.00 L435.67,177.00 L435.99,177.00 L436.31,177.00 L436.62,177.00 L436.94,177.00 L437.26,177.00 L437.58,177.00 L437.90,177.00 L438.21,177.00 L438.53,177.00 L438.85,177.00 L439.17,177.00 L439.49,177.00 L439.81,177.00 L440.13,176.75 L440.45,176.51 L440.77,176.26 L441.09,176.02 L441.42,175.77 L441.74,175.53 L442.06,175.28 L442.42,174.16 L442.78,174.46 L443.14,173.46 L443.50,172.49 L443.86,171.85 L444.19,170.79 L444.51,170.71 L444.83,169.47 L445.15,168.67 L445.47,167.62 L445.80,165.83 L446.12,165.25 L446.46,163.27 L446.80,162.21 L447.13,160.07 L447.47,158.87 L447.92,157.18 L448.37,154.76 L448.71,153.47 L449.05,153.22 L449.39,151.60 L449.73,150.47 L450.07,149.42 L450.40,147.81 L450.74,146.58 L451.08,145.06 L451.53,148.78 L451.98,152.20 L452.43,155.41 L452.88,159.13 L453.22,161.47 L453.56,163.29 L453.90,165.07 L454.24,167.72 L454.60,168.69 L454.96,169.90 L455.32,170.38 L455.68,171.74 L456.04,173.33 L456.38,174.07 L456.72,174.54 L457.06,175.20 L457.39,175.97 L457.85,176.14 L458.30,176.31 L458.66,176.04 L459.02,175.77 L459.38,175.49 L459.74,175.22 L460.10,174.94" fill="none" stroke="#000" stroke-width="1.1" stroke-linejoin="round"/>
<rect x="414.30" y="180.80" width="46.50" height="35.90" fill="#fff" stroke="#555" stroke-width="1"/>
<path d="M415.00,214.88 L415.33,214.81 L415.66,214.75 L415.98,214.69 L416.31,214.63 L416.64,214.57 L416.97,214.50 L417.30,214.44 L417.62,214.38 L417.95,214.32 L418.28,214.26 L418.61,214.19 L418.94,214.04 L419.26,213.89 L419.59,213.85 L419.92,214.24 L420.25,212.92 L420.58,214.19 L420.90,212.46 L421.23,213.46 L421.56,212.52 L421.89,211.65 L422.22,212.31 L422.54,211.81 L422.86,212.19 L423.18,212.49 L423.50,212.08 L423.83,211.50 L424.15,210.21 L424.47,210.24 L424.83,209.33 L425.19,207.79 L425.55,208.61 L425.91,207.66 L426.27,206.04 L426.61,205.88 L426.95,204.47 L427.29,202.30 L427.63,201.36 L427.97,199.06 L428.30,197.54 L428.64,195.01 L428.98,193.21 L429.43,191.27 L429.88,187.68 L430.33,186.63 L430.79,185.96 L431.12,183.46 L431.46,184.03 L431.80,185.08 L432.14,186.04 L432.48,184.25 L432.81,183.09 L433.15,184.80 L433.49,187.12 L433.83,190.30 L434.17,193.71 L434.51,196.85 L434.84,201.45 L435.18,206.49 L435.52,210.49 L435.86,212.95 L436.20,214.88 L436.65,215.39 L437.10,215.90 L437.42,215.90 L437.74,215.90 L438.06,215.90 L438.38,215.90 L438.70,215.90 L439.02,215.90 L439.34,215.90 L439.65,215.90 L439.97,215.90 L440.29,215.90 L440.61,215.90 L440.93,215.90 L441.25,215.90 L441.57,215.90 L441.89,215.90 L442.21,215.90 L442.53,215.90 L442.85,215.90 L443.17,215.90 L443.49,215.90 L443.81,215.90 L444.13,215.90 L444.45,215.90 L444.77,215.90 L445.09,215.90 L445.40,215.90 L445.72,215.90 L446.04,215.90 L446.36,215.90 L446.68,215.90 L447.00,215.90 L447.32,215.90 L447.64,215.90 L447.96,215.90 L448.28,215.90 L448.60,215.90 L448.92,215.90 L449.24,215.90 L449.56,215.90 L449.88,215.90 L450.20,215.90 L450.52,215.90 L450.84,215.90 L451.16,215.90 L451.47,215.90 L451.79,215.90 L452.11,215.90 L452.43,215.90 L452.75,215.90 L453.07,215.90 L453.39,215.90 L453.71,215.90 L454.03,215.90 L454.35,215.90 L454.67,215.90 L454.99,215.90 L455.31,215.90 L455.63,215.90 L455.95,215.90 L456.27,215.90 L456.59,215.90 L456.91,215.90 L457.22,215.90 L457.54,215.90 L457.86,215.90 L458.18,215.90 L458.50,215.90 L458.82,215.90 L459.14,215.90 L459.46,215.90 L459.78,215.90 L460.10,215.90 L460.10,215.90 L415.00,215.90 Z" fill="#858585" stroke="none"/>
<path d="M415.00,212.38 L415.32,210.72 L415.64,211.94 L415.97,211.01 L416.29,211.71 L416.61,211.41 L416.93,212.89 L417.25,211.73 L417.58,213.01 L417.90,212.76 L418.22,211.98 L418.54,212.13 L418.87,213.58 L419.19,213.63 L419.51,213.38 L419.83,213.01 L420.15,213.17 L420.48,213.58 L420.80,213.20 L421.12,212.10 L421.44,211.63 L421.76,213.26 L422.09,212.07 L422.41,211.55 L422.73,212.90 L423.05,211.14 L423.38,212.49 L423.70,211.39 L424.02,211.36 L424.34,210.66 L424.65,210.77 L424.97,209.99 L425.28,209.12 L425.60,208.89 L425.91,207.87 L426.23,207.76 L426.55,207.23 L426.86,207.53 L427.18,205.77 L427.49,205.15 L427.81,204.78 L428.12,202.81 L428.44,201.89 L428.76,201.66 L429.07,201.35 L429.39,199.86 L429.70,199.72 L430.02,198.79 L430.33,197.29 L430.66,196.42 L430.98,194.15 L431.30,192.45 L431.62,191.85 L431.94,189.07 L432.27,188.65 L432.59,185.76 L433.04,183.96 L433.49,182.80 L433.83,184.59 L434.17,184.52 L434.51,185.63 L434.84,185.31 L435.30,186.47 L435.75,184.48 L436.08,186.92 L436.42,190.19 L436.76,192.75 L437.10,196.75 L437.46,196.70 L437.82,199.28 L438.18,199.89 L438.54,201.55 L438.90,204.65 L439.23,203.81 L439.55,203.96 L439.87,206.17 L440.19,206.02 L440.51,205.63 L440.84,207.29 L441.16,206.22 L441.48,206.86 L441.80,205.12 L442.12,205.86 L442.45,204.50 L442.77,203.01 L443.09,203.83 L443.41,203.09 L443.74,201.81 L444.06,201.41 L444.38,201.21 L444.70,200.13 L445.02,199.40 L445.35,197.03 L445.67,196.78 L446.01,195.23 L446.34,195.61 L446.68,193.24 L447.02,193.50 L447.36,192.39 L447.70,191.92 L448.04,192.23 L448.37,190.93 L448.73,193.55 L449.10,195.48 L449.46,196.84 L449.82,200.41 L450.18,200.57 L450.54,202.88 L450.90,204.93 L451.26,205.67 L451.62,208.33 L451.98,208.42 L452.32,210.46 L452.66,212.09 L453.00,212.46 L453.33,214.19 L453.66,214.34 L453.98,214.49 L454.30,214.63 L454.62,214.78 L454.95,214.93 L455.27,215.07 L455.59,215.22 L455.91,215.22 L456.23,215.22 L456.56,215.22 L456.88,215.22 L457.20,215.22 L457.52,215.22 L457.85,215.22 L458.17,215.22 L458.49,215.22 L458.81,215.22 L459.13,215.22 L459.46,215.22 L459.78,215.22 L460.10,215.22" fill="none" stroke="#000" stroke-width="1.6" stroke-linejoin="round"/>
<rect x="464.30" y="141.70" width="46.50" height="36.10" fill="#fff" stroke="#555" stroke-width="1"/>
<path d="M465.00,175.97 L465.33,175.91 L465.66,175.85 L465.98,175.78 L466.31,175.72 L466.64,175.66 L466.97,175.60 L467.30,175.53 L467.62,175.47 L467.95,175.41 L468.28,175.35 L468.61,175.28 L468.94,175.13 L469.26,174.97 L469.59,175.30 L469.92,174.55 L470.25,174.64 L470.58,173.76 L470.90,174.15 L471.23,174.52 L471.56,173.59 L471.89,172.77 L472.22,174.15 L472.54,172.44 L472.86,173.88 L473.18,173.03 L473.50,172.74 L473.83,171.35 L474.15,170.60 L474.47,170.66 L474.83,170.77 L475.19,168.88 L475.55,169.26 L475.91,168.69 L476.27,166.56 L476.61,165.67 L476.95,164.08 L477.29,162.68 L477.63,160.58 L477.97,159.83 L478.30,157.26 L478.64,155.76 L478.98,153.63 L479.43,151.75 L479.88,148.41 L480.33,147.36 L480.79,146.53 L481.12,145.87 L481.46,144.16 L481.80,146.14 L482.14,145.28 L482.48,146.18 L482.81,145.73 L483.15,147.11 L483.49,146.96 L483.83,151.08 L484.17,154.41 L484.51,159.10 L484.84,163.54 L485.18,166.83 L485.52,171.58 L485.86,173.51 L486.20,175.97 L486.65,176.49 L487.10,177.00 L487.42,177.00 L487.74,177.00 L488.06,177.00 L488.38,177.00 L488.70,177.00 L489.02,177.00 L489.34,177.00 L489.65,177.00 L489.97,177.00 L490.29,177.00 L490.61,177.00 L490.93,177.00 L491.25,177.00 L491.57,177.00 L491.89,177.00 L492.21,177.00 L492.53,177.00 L492.85,177.00 L493.17,177.00 L493.49,177.00 L493.81,177.00 L494.13,177.00 L494.45,177.00 L494.77,177.00 L495.09,177.00 L495.40,177.00 L495.72,177.00 L496.04,177.00 L496.36,177.00 L496.68,177.00 L497.00,177.00 L497.32,177.00 L497.64,177.00 L497.96,177.00 L498.28,177.00 L498.60,177.00 L498.92,177.00 L499.24,177.00 L499.56,177.00 L499.88,177.00 L500.20,177.00 L500.52,177.00 L500.84,177.00 L501.16,177.00 L501.47,177.00 L501.79,177.00 L502.11,177.00 L502.43,177.00 L502.75,177.00 L503.07,177.00 L503.39,177.00 L503.71,177.00 L504.03,177.00 L504.35,177.00 L504.67,177.00 L504.99,177.00 L505.31,177.00 L505.63,177.00 L505.95,177.00 L506.27,177.00 L506.59,177.00 L506.91,177.00 L507.22,177.00 L507.54,177.00 L507.86,177.00 L508.18,177.00 L508.50,177.00 L508.82,177.00 L509.14,177.00 L509.46,177.00 L509.78,177.00 L510.10,177.00 L510.10,177.00 L465.00,177.00 Z" fill="#858585" stroke="none"/>
<path d="M465.00,177.00 L465.32,177.00 L465.64,177.00 L465.95,177.00 L466.27,177.00 L466.59,177.00 L466.91,177.00 L467.23,177.00 L467.54,177.00 L467.86,177.00 L468.18,177.00 L468.50,177.00 L468.82,177.00 L469.13,177.00 L469.45,177.00 L469.77,177.00 L470.09,177.00 L470.41,177.00 L470.72,177.00 L471.04,177.00 L471.36,177.00 L471.68,177.00 L472.00,177.00 L472.31,177.00 L472.63,177.00 L472.95,177.00 L473.27,177.00 L473.59,177.00 L473.90,177.00 L474.22,177.00 L474.54,177.00 L474.86,177.00 L475.18,177.00 L475.49,177.00 L475.81,177.00 L476.13,177.00 L476.45,177.00 L476.77,177.00 L477.08,177.00 L477.40,177.00 L477.72,177.00 L478.04,177.00 L478.36,177.00 L478.67,177.00 L478.99,177.00 L479.31,177.00 L479.63,177.00 L479.95,177.00 L480.26,177.00 L480.58,177.00 L480.90,177.00 L481.22,177.00 L481.54,177.00 L481.85,177.00 L482.17,177.00 L482.49,177.00 L482.81,177.00 L483.13,177.00 L483.44,177.00 L483.76,177.00 L484.08,177.00 L484.40,177.00 L484.72,177.00 L485.03,177.00 L485.35,177.00 L485.67,177.00 L485.99,177.00 L486.31,177.00 L486.62,177.00 L486.94,177.00 L487.26,177.00 L487.58,177.00 L487.90,177.00 L488.21,177.00 L488.53,177.00 L488.85,177.00 L489.17,177.00 L489.49,177.00 L489.81,177.00 L490.13,176.75 L490.45,176.51 L490.77,176.26 L491.09,176.02 L491.42,175.77 L491.74,175.53 L492.06,175.28 L492.42,174.22 L492.78,173.81 L493.14,173.69 L493.50,172.40 L493.86,172.67 L494.19,171.19 L494.51,170.33 L494.83,169.53 L495.15,168.73 L495.47,167.01 L495.80,166.82 L496.12,165.29 L496.46,163.26 L496.80,162.45 L497.13,160.76 L497.47,158.71 L497.92,156.93 L498.37,154.90 L498.71,153.61 L499.05,153.15 L499.39,151.90 L499.73,150.79 L500.07,149.60 L500.40,147.27 L500.74,145.92 L501.08,144.54 L501.53,149.04 L501.98,151.95 L502.43,155.31 L502.88,158.86 L503.22,160.72 L503.56,163.16 L503.90,165.53 L504.24,167.80 L504.60,168.77 L504.96,170.07 L505.32,170.86 L505.68,171.53 L506.04,172.68 L506.38,173.30 L506.72,174.21 L507.06,175.20 L507.39,175.97 L507.85,176.14 L508.30,176.31 L508.66,176.04 L509.02,175.77 L509.38,175.49 L509.74,175.22 L510.10,174.94" fill="none" stroke="#000" stroke-width="1.1" stroke-linejoin="round"/>
<rect x="464.30" y="180.80" width="46.50" height="35.90" fill="#fff" stroke="#555" stroke-width="1"/>
<path d="M465.00,214.88 L465.33,214.81 L465.66,214.75 L465.98,214.69 L466.31,214.63 L466.64,214.57 L466.97,214.50 L467.30,214.44 L467.62,214.38 L467.95,214.32 L468.28,214.26 L468.61,214.19 L468.94,214.04 L469.26,213.89 L469.59,213.73 L469.92,214.37 L470.25,213.14 L470.58,214.12 L470.90,212.52 L471.23,212.55 L471.56,212.21 L471.89,212.38 L472.22,212.79 L472.54,212.35 L472.86,212.02 L473.18,210.67 L473.50,211.97 L473.83,209.99 L474.15,211.42 L474.47,210.70 L474.83,209.84 L475.19,207.78 L475.55,207.85 L475.91,207.35 L476.27,205.57 L476.61,205.45 L476.95,203.53 L477.29,201.94 L477.63,200.03 L477.97,198.25 L478.30,196.68 L478.64,195.49 L478.98,193.75 L479.43,191.37 L479.88,187.24 L480.33,186.24 L480.79,184.71 L481.12,185.03 L481.46,183.63 L481.80,183.80 L482.14,185.05 L482.48,185.29 L482.81,183.92 L483.15,184.59 L483.49,187.45 L483.83,190.44 L484.17,193.12 L484.51,196.73 L484.84,200.87 L485.18,206.89 L485.52,211.49 L485.86,213.35 L486.20,214.88 L486.65,215.39 L487.10,215.90 L487.42,215.90 L487.74,215.90 L488.06,215.90 L488.38,215.90 L488.70,215.90 L489.02,215.90 L489.34,215.90 L489.65,215.90 L489.97,215.90 L490.29,215.90 L490.61,215.90 L490.93,215.90 L491.25,215.90 L491.57,215.90 L491.89,215.90 L492.21,215.90 L492.53,215.90 L492.85,215.90 L493.17,215.90 L493.49,215.90 L493.81,215.90 L494.13,215.90 L494.45,215.90 L494.77,215.90 L495.09,215.90 L495.40,215.90 L495.72,215.90 L496.04,215.90 L496.36,215.90 L496.68,215.90 L497.00,215.90 L497.32,215.90 L497.64,215.90 L497.96,215.90 L498.28,215.90 L498.60,215.90 L498.92,215.90 L499.24,215.90 L499.56,215.90 L499.88,215.90 L500.20,215.90 L500.52,215.90 L500.84,215.90 L501.16,215.90 L501.47,215.90 L501.79,215.90 L502.11,215.90 L502.43,215.90 L502.75,215.90 L503.07,215.90 L503.39,215.90 L503.71,215.90 L504.03,215.90 L504.35,215.90 L504.67,215.90 L504.99,215.90 L505.31,215.90 L505.63,215.90 L505.95,215.90 L506.27,215.90 L506.59,215.90 L506.91,215.90 L507.22,215.90 L507.54,215.90 L507.86,215.90 L508.18,215.90 L508.50,215.90 L508.82,215.90 L509.14,215.90 L509.46,215.90 L509.78,215.90 L510.10,215.90 L510.10,215.90 L465.00,215.90 Z" fill="#858585" stroke="none"/>
<path d="M465.00,209.96 L465.34,211.28 L465.68,210.15 L466.01,210.55 L466.35,209.57 L466.69,209.51 L467.03,209.30 L467.37,210.93 L467.71,209.24 L468.04,209.08 L468.38,208.97 L468.72,210.62 L469.06,210.36 L469.37,210.39 L469.69,210.37 L470.01,208.54 L470.32,208.44 L470.64,208.63 L470.95,208.07 L471.27,208.30 L471.58,208.83 L471.90,209.05 L472.22,208.88 L472.54,207.25 L472.87,208.10 L473.20,207.59 L473.53,207.10 L473.86,207.64 L474.18,206.88 L474.51,206.55 L474.84,205.38 L475.17,205.82 L475.50,205.63 L475.82,204.04 L476.15,204.20 L476.47,202.71 L476.79,202.41 L477.11,202.83 L477.43,201.27 L477.76,200.44 L478.08,198.97 L478.40,198.87 L478.72,197.16 L479.05,196.53 L479.37,196.21 L479.69,193.92 L480.01,194.52 L480.33,192.06 L480.69,192.30 L481.06,191.55 L481.42,190.05 L481.78,187.81 L482.14,186.28 L482.59,186.39 L483.04,183.52 L483.38,184.46 L483.72,184.77 L484.05,186.96 L484.39,187.27 L484.84,193.02 L485.30,197.49 L485.63,201.47 L485.97,202.89 L486.31,207.05 L486.65,210.00 L487.10,211.40 L487.55,214.19 L487.87,214.34 L488.19,214.49 L488.52,214.63 L488.84,214.78 L489.16,214.93 L489.48,215.07 L489.81,215.22 L490.12,215.22 L490.44,215.22 L490.76,215.22 L491.07,215.22 L491.39,215.22 L491.71,215.22 L492.02,215.22 L492.34,215.22 L492.66,215.22 L492.98,215.22 L493.29,215.22 L493.61,215.22 L493.93,215.22 L494.24,215.22 L494.56,215.22 L494.88,215.22 L495.20,215.22 L495.51,215.22 L495.83,215.22 L496.15,215.22 L496.46,215.22 L496.78,215.22 L497.10,215.22 L497.42,215.22 L497.73,215.22 L498.05,215.22 L498.37,215.22 L498.68,215.22 L499.00,215.22 L499.32,215.22 L499.64,215.22 L499.95,215.22 L500.27,215.22 L500.59,215.22 L500.90,215.22 L501.22,215.22 L501.54,215.22 L501.86,215.22 L502.17,215.22 L502.49,215.22 L502.81,215.22 L503.12,215.22 L503.44,215.22 L503.76,215.22 L504.07,215.22 L504.39,215.22 L504.71,215.22 L505.03,215.22 L505.34,215.22 L505.66,215.22 L505.98,215.22 L506.29,215.22 L506.61,215.22 L506.93,215.22 L507.25,215.22 L507.56,215.22 L507.88,215.22 L508.20,215.22 L508.51,215.22 L508.83,215.22 L509.15,215.22 L509.47,215.22 L509.78,215.22 L510.10,215.22" fill="none" stroke="#000" stroke-width="1.6" stroke-linejoin="round"/>
<text x="240.10" y="6.80" font-size="9.6" font-weight="bold" text-anchor="middle" fill="#111" stroke="#111" stroke-width="0.05" textLength="30.00" lengthAdjust="spacingAndGlyphs" >0.2µM</text>
<text x="240.10" y="137.60" font-size="9.6" font-weight="bold" text-anchor="middle" fill="#111" stroke="#111" stroke-width="0.05" textLength="30.00" lengthAdjust="spacingAndGlyphs" >0.2µM</text>
<text x="288.70" y="6.80" font-size="9.6" font-weight="bold" text-anchor="middle" fill="#111" stroke="#111" stroke-width="0.05" textLength="29.50" lengthAdjust="spacingAndGlyphs" >0.5µM</text>
<text x="289.70" y="137.60" font-size="9.6" font-weight="bold" text-anchor="middle" fill="#111" stroke="#111" stroke-width="0.05" textLength="29.70" lengthAdjust="spacingAndGlyphs" >0.5µM</text>
<text x="337.30" y="6.80" font-size="9.6" font-weight="bold" text-anchor="middle" fill="#111" stroke="#111" stroke-width="0.05" textLength="19.20" lengthAdjust="spacingAndGlyphs" >1µM</text>
<text x="337.90" y="137.60" font-size="9.6" font-weight="bold" text-anchor="middle" fill="#111" stroke="#111" stroke-width="0.05" textLength="19.60" lengthAdjust="spacingAndGlyphs" >1µM</text>
<text x="387.50" y="6.80" font-size="9.6" font-weight="bold" text-anchor="middle" fill="#111" stroke="#111" stroke-width="0.05" textLength="20.20" lengthAdjust="spacingAndGlyphs" >2µM</text>
<text x="388.30" y="137.60" font-size="9.6" font-weight="bold" text-anchor="middle" fill="#111" stroke="#111" stroke-width="0.05" textLength="20.50" lengthAdjust="spacingAndGlyphs" >2µM</text>
<text x="437.90" y="6.80" font-size="9.6" font-weight="bold" text-anchor="middle" fill="#111" stroke="#111" stroke-width="0.05" textLength="19.70" lengthAdjust="spacingAndGlyphs" >5µM</text>
<text x="438.90" y="137.60" font-size="9.6" font-weight="bold" text-anchor="middle" fill="#111" stroke="#111" stroke-width="0.05" textLength="20.00" lengthAdjust="spacingAndGlyphs" >5µM</text>
<text x="488.20" y="6.80" font-size="9.6" font-weight="bold" text-anchor="middle" fill="#111" stroke="#111" stroke-width="0.05" textLength="24.80" lengthAdjust="spacingAndGlyphs" >10µM</text>
<text x="489.00" y="137.60" font-size="9.6" font-weight="bold" text-anchor="middle" fill="#111" stroke="#111" stroke-width="0.05" textLength="26.00" lengthAdjust="spacingAndGlyphs" >10µM</text>
<text x="207.30" y="33.00" font-size="10.5" font-weight="bold" text-anchor="end" fill="#111" stroke="#111" stroke-width="0.05" textLength="33.30" lengthAdjust="spacingAndGlyphs" >vehicle</text>
<text x="207.90" y="71.30" font-size="10.5" font-weight="bold" text-anchor="end" fill="#111" stroke="#111" stroke-width="0.05" textLength="50.10" lengthAdjust="spacingAndGlyphs" >Ruxolitinib</text>
<text x="202.50" y="164.50" font-size="10.5" font-weight="bold" text-anchor="end" fill="#111" stroke="#111" stroke-width="0.05" textLength="33.30" lengthAdjust="spacingAndGlyphs" >vehicle</text>
<text x="203.40" y="201.90" font-size="10.5" font-weight="bold" text-anchor="end" fill="#111" stroke="#111" stroke-width="0.05" textLength="49.60" lengthAdjust="spacingAndGlyphs" >Ruxolitinib</text>
<line x1="214.20" y1="95.60" x2="466.20" y2="95.60" stroke="#111" stroke-width="1.2"/>
<line x1="213.50" y1="226.30" x2="465.80" y2="226.30" stroke="#111" stroke-width="1.2"/>
<text x="484.00" y="98.00" font-size="9.6" font-weight="bold" text-anchor="start" fill="#111" stroke="#111" stroke-width="0.05" textLength="26.40" lengthAdjust="spacingAndGlyphs" >CFSE</text>
<text x="480.00" y="228.70" font-size="9.6" font-weight="bold" text-anchor="start" fill="#111" stroke="#111" stroke-width="0.05" textLength="28.80" lengthAdjust="spacingAndGlyphs" >CD 25</text>
<text x="152.40" y="9.80" font-size="13" font-weight="bold" text-anchor="start" fill="#000" stroke="#000" stroke-width="0.5" >B</text>
<text x="152.90" y="137.60" font-size="13" font-weight="bold" text-anchor="start" fill="#000" stroke="#000" stroke-width="0.5" >C</text>
<rect x="39.05" y="178.73" width="8.70" height="0.10" fill="#fff" stroke="#111" stroke-width="1.1"/>
<line x1="57.20" y1="64.21" x2="57.20" y2="68.38" stroke="#111" stroke-width="1.0"/>
<line x1="55.00" y1="64.21" x2="59.40" y2="64.21" stroke="#111" stroke-width="1.0"/>
<rect x="52.85" y="68.93" width="8.70" height="109.77" fill="#fff" stroke="#111" stroke-width="1.1"/>
<line x1="70.70" y1="152.94" x2="70.70" y2="154.07" stroke="#111" stroke-width="1.0"/>
<line x1="68.50" y1="152.94" x2="72.90" y2="152.94" stroke="#111" stroke-width="1.0"/>
<rect x="65.80" y="154.07" width="9.80" height="24.63" fill="#000"/>
<polygon points="67.65,142.90 68.50,144.63 70.41,144.90 69.03,146.25 69.35,148.15 67.65,147.25 65.95,148.15 66.27,146.25 64.89,144.90 66.80,144.63" fill="#222"/>
<polygon points="73.75,142.90 74.60,144.63 76.51,144.90 75.13,146.25 75.45,148.15 73.75,147.25 72.05,148.15 72.37,146.25 70.99,144.90 72.90,144.63" fill="#222"/>
<line x1="84.70" y1="160.75" x2="84.70" y2="162.81" stroke="#111" stroke-width="1.0"/>
<line x1="82.50" y1="160.75" x2="86.90" y2="160.75" stroke="#111" stroke-width="1.0"/>
<rect x="79.80" y="162.81" width="9.80" height="15.89" fill="#000"/>
<polygon points="81.65,151.10 82.50,152.83 84.41,153.10 83.03,154.45 83.35,156.35 81.65,155.45 79.95,156.35 80.27,154.45 78.89,153.10 80.80,152.83" fill="#222"/>
<polygon points="87.75,151.10 88.60,152.83 90.51,153.10 89.13,154.45 89.45,156.35 87.75,155.45 86.05,156.35 86.37,154.45 84.99,153.10 86.90,152.83" fill="#222"/>
<line x1="98.60" y1="156.37" x2="98.60" y2="158.24" stroke="#111" stroke-width="1.0"/>
<line x1="96.40" y1="156.37" x2="100.80" y2="156.37" stroke="#111" stroke-width="1.0"/>
<rect x="93.70" y="158.24" width="9.80" height="20.46" fill="#000"/>
<polygon points="95.55,146.30 96.40,148.03 98.31,148.30 96.93,149.65 97.25,151.55 95.55,150.65 93.85,151.55 94.17,149.65 92.79,148.30 94.70,148.03" fill="#222"/>
<polygon points="101.65,146.30 102.50,148.03 104.41,148.30 103.03,149.65 103.35,151.55 101.65,150.65 99.95,151.55 100.27,149.65 98.89,148.30 100.80,148.03" fill="#222"/>
<line x1="112.60" y1="157.88" x2="112.60" y2="159.73" stroke="#111" stroke-width="1.0"/>
<line x1="110.40" y1="157.88" x2="114.80" y2="157.88" stroke="#111" stroke-width="1.0"/>
<rect x="107.70" y="159.73" width="9.80" height="18.97" fill="#000"/>
<polygon points="109.55,146.30 110.40,148.03 112.31,148.30 110.93,149.65 111.25,151.55 109.55,150.65 107.85,151.55 108.17,149.65 106.79,148.30 108.70,148.03" fill="#222"/>
<polygon points="115.65,146.30 116.50,148.03 118.41,148.30 117.03,149.65 117.35,151.55 115.65,150.65 113.95,151.55 114.27,149.65 112.89,148.30 114.80,148.03" fill="#222"/>
<line x1="126.10" y1="149.61" x2="126.10" y2="151.19" stroke="#111" stroke-width="1.0"/>
<line x1="123.90" y1="149.61" x2="128.30" y2="149.61" stroke="#111" stroke-width="1.0"/>
<rect x="121.20" y="151.19" width="9.80" height="27.51" fill="#000"/>
<polygon points="123.05,140.10 123.90,141.83 125.81,142.10 124.43,143.45 124.75,145.35 123.05,144.45 121.35,145.35 121.67,143.45 120.29,142.10 122.20,141.83" fill="#222"/>
<polygon points="129.15,140.10 130.00,141.83 131.91,142.10 130.53,143.45 130.85,145.35 129.15,144.45 127.45,145.35 127.77,143.45 126.39,142.10 128.30,141.83" fill="#222"/>
<line x1="36.40" y1="48.10" x2="36.40" y2="179.20" stroke="#111" stroke-width="1.1"/>
<line x1="35.90" y1="178.70" x2="133.00" y2="178.70" stroke="#111" stroke-width="1.1"/>
<line x1="34.40" y1="178.70" x2="36.40" y2="178.70" stroke="#111" stroke-width="1.0"/>
<text x="33.10" y="182.14" font-size="10.0" font-weight="bold" text-anchor="end" fill="#111" stroke="#111" stroke-width="0.3" textLength="3.89" lengthAdjust="spacingAndGlyphs" >0</text>
<line x1="34.40" y1="152.68" x2="36.40" y2="152.68" stroke="#111" stroke-width="1.0"/>
<text x="33.10" y="156.12" font-size="10.0" font-weight="bold" text-anchor="end" fill="#111" stroke="#111" stroke-width="0.3" textLength="15.57" lengthAdjust="spacingAndGlyphs" >5000</text>
<line x1="34.40" y1="126.66" x2="36.40" y2="126.66" stroke="#111" stroke-width="1.0"/>
<text x="33.10" y="130.10" font-size="10.0" font-weight="bold" text-anchor="end" fill="#111" stroke="#111" stroke-width="0.3" textLength="19.47" lengthAdjust="spacingAndGlyphs" >10000</text>
<line x1="34.40" y1="100.64" x2="36.40" y2="100.64" stroke="#111" stroke-width="1.0"/>
<text x="33.10" y="104.08" font-size="10.0" font-weight="bold" text-anchor="end" fill="#111" stroke="#111" stroke-width="0.3" textLength="19.47" lengthAdjust="spacingAndGlyphs" >15000</text>
<line x1="34.40" y1="74.62" x2="36.40" y2="74.62" stroke="#111" stroke-width="1.0"/>
<text x="33.10" y="78.06" font-size="10.0" font-weight="bold" text-anchor="end" fill="#111" stroke="#111" stroke-width="0.3" textLength="19.47" lengthAdjust="spacingAndGlyphs" >20000</text>
<line x1="34.40" y1="48.60" x2="36.40" y2="48.60" stroke="#111" stroke-width="1.0"/>
<text x="33.10" y="52.04" font-size="10.0" font-weight="bold" text-anchor="end" fill="#111" stroke="#111" stroke-width="0.3" textLength="19.47" lengthAdjust="spacingAndGlyphs" >25000</text>
<line x1="43.40" y1="178.70" x2="43.40" y2="181.20" stroke="#111" stroke-width="1.0"/>
<g transform="translate(41.90 189.30) scale(1.0 1) rotate(-45)"><text x="0" y="0" font-size="7.3" font-weight="bold" text-anchor="end" fill="#111" stroke="#111" stroke-width="0.15" textLength="22.76" lengthAdjust="spacingAndGlyphs">control</text></g>
<line x1="57.20" y1="178.70" x2="57.20" y2="181.20" stroke="#111" stroke-width="1.0"/>
<g transform="translate(55.70 189.30) scale(1.0 1) rotate(-45)"><text x="0" y="0" font-size="7.3" font-weight="bold" text-anchor="end" fill="#111" stroke="#111" stroke-width="0.15" textLength="22.77" lengthAdjust="spacingAndGlyphs">vehicle</text></g>
<line x1="70.70" y1="178.70" x2="70.70" y2="181.20" stroke="#111" stroke-width="1.0"/>
<g transform="translate(73.30 189.30) scale(1.0 1) rotate(-45)"><text x="0" y="0" font-size="7.3" font-weight="bold" text-anchor="end" fill="#111" stroke="#111" stroke-width="0.15" textLength="20.44" lengthAdjust="spacingAndGlyphs">0.2µM</text></g>
<line x1="84.70" y1="178.70" x2="84.70" y2="181.20" stroke="#111" stroke-width="1.0"/>
<g transform="translate(87.30 189.30) scale(1.0 1) rotate(-45)"><text x="0" y="0" font-size="7.3" font-weight="bold" text-anchor="end" fill="#111" stroke="#111" stroke-width="0.15" textLength="20.44" lengthAdjust="spacingAndGlyphs">0.5µM</text></g>
<line x1="98.60" y1="178.70" x2="98.60" y2="181.20" stroke="#111" stroke-width="1.0"/>
<g transform="translate(101.20 189.30) scale(1.0 1) rotate(-45)"><text x="0" y="0" font-size="7.3" font-weight="bold" text-anchor="end" fill="#111" stroke="#111" stroke-width="0.15" textLength="14.35" lengthAdjust="spacingAndGlyphs">1µM</text></g>
<line x1="112.60" y1="178.70" x2="112.60" y2="181.20" stroke="#111" stroke-width="1.0"/>
<g transform="translate(115.20 189.30) scale(1.0 1) rotate(-45)"><text x="0" y="0" font-size="7.3" font-weight="bold" text-anchor="end" fill="#111" stroke="#111" stroke-width="0.15" textLength="14.35" lengthAdjust="spacingAndGlyphs">5µM</text></g>
<line x1="126.10" y1="178.70" x2="126.10" y2="181.20" stroke="#111" stroke-width="1.0"/>
<g transform="translate(131.20 189.00) scale(1.0 1) rotate(-45)"><text x="0" y="0" font-size="7.3" font-weight="bold" text-anchor="end" fill="#111" stroke="#111" stroke-width="0.15" textLength="18.41" lengthAdjust="spacingAndGlyphs">10µM</text></g>
<text x="6.60" y="112.20" font-size="7.8" font-weight="bold" text-anchor="middle" fill="#111" stroke="#111" stroke-width="0.3" textLength="31.00" lengthAdjust="spacingAndGlyphs" transform="rotate(-90 6.60 112.20)" >CPM [%]</text>
<text x="-0.40" y="9.70" font-size="13.5" font-weight="bold" text-anchor="start" fill="#000" stroke="#000" stroke-width="0.5" >A</text>
<line x1="58.95" y1="343.50" x2="58.95" y2="344.16" stroke="#111" stroke-width="1.0"/>
<line x1="56.75" y1="343.50" x2="61.15" y2="343.50" stroke="#111" stroke-width="1.0"/>
<rect x="55.15" y="344.71" width="7.60" height="2.09" fill="#8a8a8a" stroke="#111" stroke-width="1.1"/>
<line x1="71.81" y1="253.83" x2="71.81" y2="254.49" stroke="#111" stroke-width="1.0"/>
<line x1="69.61" y1="253.83" x2="74.01" y2="253.83" stroke="#111" stroke-width="1.0"/>
<rect x="68.01" y="255.04" width="7.60" height="91.76" fill="#fff" stroke="#111" stroke-width="1.1"/>
<rect x="80.32" y="252.30" width="8.70" height="94.50" fill="#000"/>
<rect x="93.18" y="252.74" width="8.70" height="94.06" fill="#000"/>
<rect x="106.04" y="268.56" width="8.70" height="78.24" fill="#000"/>
<polygon points="107.34,258.35 108.21,260.11 110.15,260.39 108.74,261.76 109.07,263.69 107.34,262.78 105.61,263.69 105.94,261.76 104.53,260.39 106.47,260.11" fill="#222"/>
<polygon points="113.44,258.35 114.31,260.11 116.25,260.39 114.84,261.76 115.17,263.69 113.44,262.78 111.71,263.69 112.04,261.76 110.63,260.39 112.57,260.11" fill="#222"/>
<rect x="118.90" y="315.81" width="8.70" height="30.99" fill="#000"/>
<polygon points="120.20,307.85 121.07,309.61 123.01,309.89 121.60,311.26 121.93,313.19 120.20,312.28 118.47,313.19 118.80,311.26 117.39,309.89 119.33,309.61" fill="#222"/>
<polygon points="126.30,307.85 127.17,309.61 129.11,309.89 127.70,311.26 128.03,313.19 126.30,312.28 124.57,313.19 124.90,311.26 123.49,309.89 125.43,309.61" fill="#222"/>
<rect x="131.76" y="333.61" width="8.70" height="13.19" fill="#000"/>
<polygon points="133.06,325.05 133.93,326.81 135.87,327.09 134.46,328.46 134.79,330.39 133.06,329.48 131.33,330.39 131.66,328.46 130.25,327.09 132.19,326.81" fill="#222"/>
<polygon points="139.16,325.05 140.03,326.81 141.97,327.09 140.56,328.46 140.89,330.39 139.16,329.48 137.43,330.39 137.76,328.46 136.35,327.09 138.29,326.81" fill="#222"/>
<rect x="144.62" y="331.20" width="8.70" height="15.60" fill="#000"/>
<polygon points="145.92,321.95 146.79,323.71 148.73,323.99 147.32,325.36 147.65,327.29 145.92,326.38 144.19,327.29 144.52,325.36 143.11,323.99 145.05,323.71" fill="#222"/>
<polygon points="152.02,321.95 152.89,323.71 154.83,323.99 153.42,325.36 153.75,327.29 152.02,326.38 150.29,327.29 150.62,325.36 149.21,323.99 151.15,323.71" fill="#222"/>
<line x1="52.40" y1="247.40" x2="52.40" y2="347.30" stroke="#111" stroke-width="1.1"/>
<line x1="51.90" y1="346.80" x2="155.00" y2="346.80" stroke="#111" stroke-width="1.1"/>
<line x1="49.40" y1="346.80" x2="52.40" y2="346.80" stroke="#111" stroke-width="1.0"/>
<text x="48.80" y="349.35" font-size="7.4" font-weight="bold" text-anchor="end" fill="#111" stroke="#111" stroke-width="0.35" textLength="4.44" lengthAdjust="spacingAndGlyphs" >0</text>
<line x1="49.40" y1="335.81" x2="52.40" y2="335.81" stroke="#111" stroke-width="1.0"/>
<text x="48.80" y="338.36" font-size="7.4" font-weight="bold" text-anchor="end" fill="#111" stroke="#111" stroke-width="0.35" textLength="8.89" lengthAdjust="spacingAndGlyphs" >10</text>
<line x1="49.40" y1="324.82" x2="52.40" y2="324.82" stroke="#111" stroke-width="1.0"/>
<text x="48.80" y="327.37" font-size="7.4" font-weight="bold" text-anchor="end" fill="#111" stroke="#111" stroke-width="0.35" textLength="8.89" lengthAdjust="spacingAndGlyphs" >20</text>
<line x1="49.40" y1="313.83" x2="52.40" y2="313.83" stroke="#111" stroke-width="1.0"/>
<text x="48.80" y="316.38" font-size="7.4" font-weight="bold" text-anchor="end" fill="#111" stroke="#111" stroke-width="0.35" textLength="8.89" lengthAdjust="spacingAndGlyphs" >30</text>
<line x1="49.40" y1="302.84" x2="52.40" y2="302.84" stroke="#111" stroke-width="1.0"/>
<text x="48.80" y="305.39" font-size="7.4" font-weight="bold" text-anchor="end" fill="#111" stroke="#111" stroke-width="0.35" textLength="8.89" lengthAdjust="spacingAndGlyphs" >40</text>
<line x1="49.40" y1="291.86" x2="52.40" y2="291.86" stroke="#111" stroke-width="1.0"/>
<text x="48.80" y="294.40" font-size="7.4" font-weight="bold" text-anchor="end" fill="#111" stroke="#111" stroke-width="0.35" textLength="8.89" lengthAdjust="spacingAndGlyphs" >50</text>
<line x1="49.40" y1="280.87" x2="52.40" y2="280.87" stroke="#111" stroke-width="1.0"/>
<text x="48.80" y="283.41" font-size="7.4" font-weight="bold" text-anchor="end" fill="#111" stroke="#111" stroke-width="0.35" textLength="8.89" lengthAdjust="spacingAndGlyphs" >60</text>
<line x1="49.40" y1="269.88" x2="52.40" y2="269.88" stroke="#111" stroke-width="1.0"/>
<text x="48.80" y="272.42" font-size="7.4" font-weight="bold" text-anchor="end" fill="#111" stroke="#111" stroke-width="0.35" textLength="8.89" lengthAdjust="spacingAndGlyphs" >70</text>
<line x1="49.40" y1="258.89" x2="52.40" y2="258.89" stroke="#111" stroke-width="1.0"/>
<text x="48.80" y="261.43" font-size="7.4" font-weight="bold" text-anchor="end" fill="#111" stroke="#111" stroke-width="0.35" textLength="8.89" lengthAdjust="spacingAndGlyphs" >80</text>
<line x1="49.40" y1="247.90" x2="52.40" y2="247.90" stroke="#111" stroke-width="1.0"/>
<text x="48.80" y="250.45" font-size="7.4" font-weight="bold" text-anchor="end" fill="#111" stroke="#111" stroke-width="0.35" textLength="8.89" lengthAdjust="spacingAndGlyphs" >90</text>
<line x1="58.95" y1="346.80" x2="58.95" y2="349.30" stroke="#111" stroke-width="1.0"/>
<g transform="translate(57.95 357.80) scale(1.03 1) rotate(-45)"><text x="0" y="0" font-size="8.4" font-weight="normal" text-anchor="end" fill="#111" stroke="#111" stroke-width="0.3" textLength="25.21" lengthAdjust="spacingAndGlyphs">control</text></g>
<line x1="71.81" y1="346.80" x2="71.81" y2="349.30" stroke="#111" stroke-width="1.0"/>
<g transform="translate(70.81 357.80) scale(1.03 1) rotate(-45)"><text x="0" y="0" font-size="8.4" font-weight="normal" text-anchor="end" fill="#111" stroke="#111" stroke-width="0.3" textLength="26.15" lengthAdjust="spacingAndGlyphs">vehicle</text></g>
<line x1="84.67" y1="346.80" x2="84.67" y2="349.30" stroke="#111" stroke-width="1.0"/>
<g transform="translate(86.17 359.50) scale(1.03 1) rotate(-45)"><text x="0" y="0" font-size="8.4" font-weight="normal" text-anchor="end" fill="#111" stroke="#111" stroke-width="0.3" textLength="25.87" lengthAdjust="spacingAndGlyphs">0.2µM</text></g>
<line x1="97.53" y1="346.80" x2="97.53" y2="349.30" stroke="#111" stroke-width="1.0"/>
<g transform="translate(99.03 359.50) scale(1.03 1) rotate(-45)"><text x="0" y="0" font-size="8.4" font-weight="normal" text-anchor="end" fill="#111" stroke="#111" stroke-width="0.3" textLength="25.87" lengthAdjust="spacingAndGlyphs">0.5µM</text></g>
<line x1="110.39" y1="346.80" x2="110.39" y2="349.30" stroke="#111" stroke-width="1.0"/>
<g transform="translate(111.89 359.50) scale(1.03 1) rotate(-45)"><text x="0" y="0" font-size="8.4" font-weight="normal" text-anchor="end" fill="#111" stroke="#111" stroke-width="0.3" textLength="18.16" lengthAdjust="spacingAndGlyphs">1µM</text></g>
<line x1="123.25" y1="346.80" x2="123.25" y2="349.30" stroke="#111" stroke-width="1.0"/>
<g transform="translate(124.75 359.50) scale(1.03 1) rotate(-45)"><text x="0" y="0" font-size="8.4" font-weight="normal" text-anchor="end" fill="#111" stroke="#111" stroke-width="0.3" textLength="18.16" lengthAdjust="spacingAndGlyphs">2µM</text></g>
<line x1="136.11" y1="346.80" x2="136.11" y2="349.30" stroke="#111" stroke-width="1.0"/>
<g transform="translate(137.61 359.50) scale(1.03 1) rotate(-45)"><text x="0" y="0" font-size="8.4" font-weight="normal" text-anchor="end" fill="#111" stroke="#111" stroke-width="0.3" textLength="18.16" lengthAdjust="spacingAndGlyphs">5µM</text></g>
<line x1="148.97" y1="346.80" x2="148.97" y2="349.30" stroke="#111" stroke-width="1.0"/>
<g transform="translate(152.97 359.20) scale(1.03 1) rotate(-45)"><text x="0" y="0" font-size="8.4" font-weight="normal" text-anchor="end" fill="#111" stroke="#111" stroke-width="0.3" textLength="23.30" lengthAdjust="spacingAndGlyphs">10µM</text></g>
<text x="34.60" y="296.80" font-size="9.0" font-weight="normal" text-anchor="middle" fill="#111" stroke="#111" stroke-width="0.45" textLength="82.50" lengthAdjust="spacingAndGlyphs" transform="rotate(-90 34.60 296.80)" >proliferated cells (%)</text>
<text x="0.40" y="253.00" font-size="13" font-weight="bold" text-anchor="start" fill="#000" stroke="#000" stroke-width="0.5" >D</text>
<line x1="240.40" y1="340.65" x2="240.40" y2="341.45" stroke="#111" stroke-width="1.0"/>
<line x1="238.20" y1="340.65" x2="242.60" y2="340.65" stroke="#111" stroke-width="1.0"/>
<rect x="236.45" y="342.00" width="7.90" height="4.60" fill="#8a8a8a" stroke="#111" stroke-width="1.1"/>
<line x1="253.27" y1="281.59" x2="253.27" y2="282.38" stroke="#111" stroke-width="1.0"/>
<line x1="251.07" y1="281.59" x2="255.47" y2="281.59" stroke="#111" stroke-width="1.0"/>
<rect x="249.32" y="282.93" width="7.90" height="63.67" fill="#fff" stroke="#111" stroke-width="1.1"/>
<rect x="261.64" y="278.42" width="9.00" height="68.18" fill="#000"/>
<rect x="274.51" y="264.55" width="9.00" height="82.05" fill="#000"/>
<rect x="287.38" y="291.90" width="9.00" height="54.70" fill="#000"/>
<polygon points="288.83,283.65 289.70,285.41 291.64,285.69 290.23,287.06 290.56,288.99 288.83,288.08 287.10,288.99 287.43,287.06 286.02,285.69 287.96,285.41" fill="#222"/>
<polygon points="294.93,283.65 295.80,285.41 297.74,285.69 296.33,287.06 296.66,288.99 294.93,288.08 293.20,288.99 293.53,287.06 292.12,285.69 294.06,285.41" fill="#222"/>
<rect x="300.25" y="332.73" width="9.00" height="13.87" fill="#000"/>
<polygon points="301.70,322.95 302.57,324.71 304.51,324.99 303.10,326.36 303.43,328.29 301.70,327.38 299.97,328.29 300.30,326.36 298.89,324.99 300.83,324.71" fill="#222"/>
<polygon points="307.80,322.95 308.67,324.71 310.61,324.99 309.20,326.36 309.53,328.29 307.80,327.38 306.07,328.29 306.40,326.36 304.99,324.99 306.93,324.71" fill="#222"/>
<rect x="313.12" y="341.05" width="9.00" height="5.55" fill="#000"/>
<polygon points="314.57,331.85 315.44,333.61 317.38,333.89 315.97,335.26 316.30,337.19 314.57,336.28 312.84,337.19 313.17,335.26 311.76,333.89 313.70,333.61" fill="#222"/>
<polygon points="320.67,331.85 321.54,333.61 323.48,333.89 322.07,335.26 322.40,337.19 320.67,336.28 318.94,337.19 319.27,335.26 317.86,333.89 319.80,333.61" fill="#222"/>
<rect x="325.99" y="346.20" width="9.00" height="0.40" fill="#000"/>
<polygon points="327.44,338.45 328.31,340.21 330.25,340.49 328.84,341.86 329.17,343.79 327.44,342.88 325.71,343.79 326.04,341.86 324.63,340.49 326.57,340.21" fill="#222"/>
<polygon points="333.54,338.45 334.41,340.21 336.35,340.49 334.94,341.86 335.27,343.79 333.54,342.88 331.81,343.79 332.14,341.86 330.73,340.49 332.67,340.21" fill="#222"/>
<line x1="234.00" y1="247.00" x2="234.00" y2="347.10" stroke="#111" stroke-width="1.1"/>
<line x1="233.50" y1="346.60" x2="337.00" y2="346.60" stroke="#111" stroke-width="1.1"/>
<line x1="231.00" y1="346.60" x2="234.00" y2="346.60" stroke="#111" stroke-width="1.0"/>
<text x="230.40" y="349.15" font-size="7.4" font-weight="bold" text-anchor="end" fill="#111" stroke="#111" stroke-width="0.35" textLength="11.11" lengthAdjust="spacingAndGlyphs" >0.0</text>
<line x1="231.00" y1="326.78" x2="234.00" y2="326.78" stroke="#111" stroke-width="1.0"/>
<text x="230.40" y="329.33" font-size="7.4" font-weight="bold" text-anchor="end" fill="#111" stroke="#111" stroke-width="0.35" textLength="11.11" lengthAdjust="spacingAndGlyphs" >0.5</text>
<line x1="231.00" y1="306.96" x2="234.00" y2="306.96" stroke="#111" stroke-width="1.0"/>
<text x="230.40" y="309.51" font-size="7.4" font-weight="bold" text-anchor="end" fill="#111" stroke="#111" stroke-width="0.35" textLength="11.11" lengthAdjust="spacingAndGlyphs" >1.0</text>
<line x1="231.00" y1="287.14" x2="234.00" y2="287.14" stroke="#111" stroke-width="1.0"/>
<text x="230.40" y="289.69" font-size="7.4" font-weight="bold" text-anchor="end" fill="#111" stroke="#111" stroke-width="0.35" textLength="11.11" lengthAdjust="spacingAndGlyphs" >1.5</text>
<line x1="231.00" y1="267.32" x2="234.00" y2="267.32" stroke="#111" stroke-width="1.0"/>
<text x="230.40" y="269.87" font-size="7.4" font-weight="bold" text-anchor="end" fill="#111" stroke="#111" stroke-width="0.35" textLength="11.11" lengthAdjust="spacingAndGlyphs" >2.0</text>
<line x1="231.00" y1="247.50" x2="234.00" y2="247.50" stroke="#111" stroke-width="1.0"/>
<text x="230.40" y="250.05" font-size="7.4" font-weight="bold" text-anchor="end" fill="#111" stroke="#111" stroke-width="0.35" textLength="11.11" lengthAdjust="spacingAndGlyphs" >2.5</text>
<line x1="240.40" y1="346.60" x2="240.40" y2="349.10" stroke="#111" stroke-width="1.0"/>
<g transform="translate(239.40 357.60) scale(1.03 1) rotate(-45)"><text x="0" y="0" font-size="8.4" font-weight="normal" text-anchor="end" fill="#111" stroke="#111" stroke-width="0.3" textLength="25.21" lengthAdjust="spacingAndGlyphs">control</text></g>
<line x1="253.27" y1="346.60" x2="253.27" y2="349.10" stroke="#111" stroke-width="1.0"/>
<g transform="translate(252.27 357.60) scale(1.03 1) rotate(-45)"><text x="0" y="0" font-size="8.4" font-weight="normal" text-anchor="end" fill="#111" stroke="#111" stroke-width="0.3" textLength="26.15" lengthAdjust="spacingAndGlyphs">vehicle</text></g>
<line x1="266.14" y1="346.60" x2="266.14" y2="349.10" stroke="#111" stroke-width="1.0"/>
<g transform="translate(267.64 359.30) scale(1.03 1) rotate(-45)"><text x="0" y="0" font-size="8.4" font-weight="normal" text-anchor="end" fill="#111" stroke="#111" stroke-width="0.3" textLength="25.87" lengthAdjust="spacingAndGlyphs">0.2µM</text></g>
<line x1="279.01" y1="346.60" x2="279.01" y2="349.10" stroke="#111" stroke-width="1.0"/>
<g transform="translate(280.51 359.30) scale(1.03 1) rotate(-45)"><text x="0" y="0" font-size="8.4" font-weight="normal" text-anchor="end" fill="#111" stroke="#111" stroke-width="0.3" textLength="25.87" lengthAdjust="spacingAndGlyphs">0.5µM</text></g>
<line x1="291.88" y1="346.60" x2="291.88" y2="349.10" stroke="#111" stroke-width="1.0"/>
<g transform="translate(293.38 359.30) scale(1.03 1) rotate(-45)"><text x="0" y="0" font-size="8.4" font-weight="normal" text-anchor="end" fill="#111" stroke="#111" stroke-width="0.3" textLength="18.16" lengthAdjust="spacingAndGlyphs">1µM</text></g>
<line x1="304.75" y1="346.60" x2="304.75" y2="349.10" stroke="#111" stroke-width="1.0"/>
<g transform="translate(306.25 359.30) scale(1.03 1) rotate(-45)"><text x="0" y="0" font-size="8.4" font-weight="normal" text-anchor="end" fill="#111" stroke="#111" stroke-width="0.3" textLength="18.16" lengthAdjust="spacingAndGlyphs">2µM</text></g>
<line x1="317.62" y1="346.60" x2="317.62" y2="349.10" stroke="#111" stroke-width="1.0"/>
<g transform="translate(319.12 359.30) scale(1.03 1) rotate(-45)"><text x="0" y="0" font-size="8.4" font-weight="normal" text-anchor="end" fill="#111" stroke="#111" stroke-width="0.3" textLength="18.16" lengthAdjust="spacingAndGlyphs">5µM</text></g>
<line x1="330.49" y1="346.60" x2="330.49" y2="349.10" stroke="#111" stroke-width="1.0"/>
<g transform="translate(334.49 359.00) scale(1.03 1) rotate(-45)"><text x="0" y="0" font-size="8.4" font-weight="normal" text-anchor="end" fill="#111" stroke="#111" stroke-width="0.3" textLength="23.30" lengthAdjust="spacingAndGlyphs">10µM</text></g>
<text x="212.00" y="295.10" font-size="9.2" font-weight="normal" text-anchor="middle" fill="#111" stroke="#111" stroke-width="0.45" textLength="54.50" lengthAdjust="spacingAndGlyphs" transform="rotate(-90 212.00 295.10)" >division index</text>
<text x="193.60" y="253.00" font-size="13" font-weight="bold" text-anchor="start" fill="#000" stroke="#000" stroke-width="0.5" >E</text>
<rect x="417.25" y="345.94" width="8.00" height="0.10" fill="#8a8a8a" stroke="#111" stroke-width="1.1"/>
<line x1="434.35" y1="253.34" x2="434.35" y2="253.75" stroke="#111" stroke-width="1.0"/>
<line x1="432.15" y1="253.34" x2="436.55" y2="253.34" stroke="#111" stroke-width="1.0"/>
<rect x="430.35" y="254.30" width="8.00" height="91.50" fill="#fff" stroke="#111" stroke-width="1.1"/>
<line x1="447.45" y1="322.86" x2="447.45" y2="323.10" stroke="#111" stroke-width="1.0"/>
<line x1="445.25" y1="322.86" x2="449.65" y2="322.86" stroke="#111" stroke-width="1.0"/>
<rect x="442.90" y="323.10" width="9.10" height="22.70" fill="#000"/>
<polygon points="444.40,313.65 445.27,315.41 447.21,315.69 445.80,317.06 446.13,318.99 444.40,318.08 442.67,318.99 443.00,317.06 441.59,315.69 443.53,315.41" fill="#222"/>
<polygon points="450.50,313.65 451.37,315.41 453.31,315.69 451.90,317.06 452.23,318.99 450.50,318.08 448.77,318.99 449.10,317.06 447.69,315.69 449.63,315.41" fill="#222"/>
<line x1="460.55" y1="326.82" x2="460.55" y2="327.08" stroke="#111" stroke-width="1.0"/>
<line x1="458.35" y1="326.82" x2="462.75" y2="326.82" stroke="#111" stroke-width="1.0"/>
<rect x="456.00" y="327.08" width="9.10" height="18.72" fill="#000"/>
<polygon points="457.50,318.45 458.37,320.21 460.31,320.49 458.90,321.86 459.23,323.79 457.50,322.88 455.77,323.79 456.10,321.86 454.69,320.49 456.63,320.21" fill="#222"/>
<polygon points="463.60,318.45 464.47,320.21 466.41,320.49 465.00,321.86 465.33,323.79 463.60,322.88 461.87,323.79 462.20,321.86 460.79,320.49 462.73,320.21" fill="#222"/>
<line x1="473.65" y1="330.09" x2="473.65" y2="330.37" stroke="#111" stroke-width="1.0"/>
<line x1="471.45" y1="330.09" x2="475.85" y2="330.09" stroke="#111" stroke-width="1.0"/>
<rect x="469.10" y="330.37" width="9.10" height="15.43" fill="#000"/>
<polygon points="470.60,322.55 471.47,324.31 473.41,324.59 472.00,325.96 472.33,327.89 470.60,326.98 468.87,327.89 469.20,325.96 467.79,324.59 469.73,324.31" fill="#222"/>
<polygon points="476.70,322.55 477.57,324.31 479.51,324.59 478.10,325.96 478.43,327.89 476.70,326.98 474.97,327.89 475.30,325.96 473.89,324.59 475.83,324.31" fill="#222"/>
<line x1="486.75" y1="338.43" x2="486.75" y2="338.63" stroke="#111" stroke-width="1.0"/>
<line x1="484.55" y1="338.43" x2="488.95" y2="338.43" stroke="#111" stroke-width="1.0"/>
<rect x="482.20" y="338.63" width="9.10" height="7.17" fill="#000"/>
<polygon points="483.70,330.25 484.57,332.01 486.51,332.29 485.10,333.66 485.43,335.59 483.70,334.68 481.97,335.59 482.30,333.66 480.89,332.29 482.83,332.01" fill="#222"/>
<polygon points="489.80,330.25 490.67,332.01 492.61,332.29 491.20,333.66 491.53,335.59 489.80,334.68 488.07,335.59 488.40,333.66 486.99,332.29 488.93,332.01" fill="#222"/>
<line x1="499.85" y1="341.84" x2="499.85" y2="342.11" stroke="#111" stroke-width="1.0"/>
<line x1="497.65" y1="341.84" x2="502.05" y2="341.84" stroke="#111" stroke-width="1.0"/>
<rect x="495.30" y="342.11" width="9.10" height="3.69" fill="#000"/>
<polygon points="496.80,333.95 497.67,335.71 499.61,335.99 498.20,337.36 498.53,339.29 496.80,338.38 495.07,339.29 495.40,337.36 493.99,335.99 495.93,335.71" fill="#222"/>
<polygon points="502.90,333.95 503.77,335.71 505.71,335.99 504.30,337.36 504.63,339.29 502.90,338.38 501.17,339.29 501.50,337.36 500.09,335.99 502.03,335.71" fill="#222"/>
<rect x="508.40" y="344.98" width="9.10" height="0.82" fill="#000"/>
<polygon points="509.90,337.85 510.77,339.61 512.71,339.89 511.30,341.26 511.63,343.19 509.90,342.28 508.17,343.19 508.50,341.26 507.09,339.89 509.03,339.61" fill="#222"/>
<polygon points="516.00,337.85 516.87,339.61 518.81,339.89 517.40,341.26 517.73,343.19 516.00,342.28 514.27,343.19 514.60,341.26 513.19,339.89 515.13,339.61" fill="#222"/>
<line x1="414.90" y1="249.70" x2="414.90" y2="346.30" stroke="#111" stroke-width="1.1"/>
<line x1="414.40" y1="345.80" x2="519.00" y2="345.80" stroke="#111" stroke-width="1.1"/>
<line x1="411.90" y1="345.80" x2="414.90" y2="345.80" stroke="#111" stroke-width="1.0"/>
<text x="411.30" y="348.35" font-size="7.4" font-weight="bold" text-anchor="end" fill="#111" stroke="#111" stroke-width="0.35" textLength="4.44" lengthAdjust="spacingAndGlyphs" >0</text>
<line x1="411.90" y1="332.14" x2="414.90" y2="332.14" stroke="#111" stroke-width="1.0"/>
<text x="411.30" y="334.69" font-size="7.4" font-weight="bold" text-anchor="end" fill="#111" stroke="#111" stroke-width="0.35" textLength="17.78" lengthAdjust="spacingAndGlyphs" >5000</text>
<line x1="411.90" y1="318.49" x2="414.90" y2="318.49" stroke="#111" stroke-width="1.0"/>
<text x="411.30" y="321.03" font-size="7.4" font-weight="bold" text-anchor="end" fill="#111" stroke="#111" stroke-width="0.35" textLength="22.22" lengthAdjust="spacingAndGlyphs" >10000</text>
<line x1="411.90" y1="304.83" x2="414.90" y2="304.83" stroke="#111" stroke-width="1.0"/>
<text x="411.30" y="307.37" font-size="7.4" font-weight="bold" text-anchor="end" fill="#111" stroke="#111" stroke-width="0.35" textLength="22.22" lengthAdjust="spacingAndGlyphs" >15000</text>
<line x1="411.90" y1="291.17" x2="414.90" y2="291.17" stroke="#111" stroke-width="1.0"/>
<text x="411.30" y="293.72" font-size="7.4" font-weight="bold" text-anchor="end" fill="#111" stroke="#111" stroke-width="0.35" textLength="22.22" lengthAdjust="spacingAndGlyphs" >20000</text>
<line x1="411.90" y1="277.51" x2="414.90" y2="277.51" stroke="#111" stroke-width="1.0"/>
<text x="411.30" y="280.06" font-size="7.4" font-weight="bold" text-anchor="end" fill="#111" stroke="#111" stroke-width="0.35" textLength="22.22" lengthAdjust="spacingAndGlyphs" >25000</text>
<line x1="411.90" y1="263.86" x2="414.90" y2="263.86" stroke="#111" stroke-width="1.0"/>
<text x="411.30" y="266.40" font-size="7.4" font-weight="bold" text-anchor="end" fill="#111" stroke="#111" stroke-width="0.35" textLength="22.22" lengthAdjust="spacingAndGlyphs" >30000</text>
<line x1="411.90" y1="250.20" x2="414.90" y2="250.20" stroke="#111" stroke-width="1.0"/>
<text x="411.30" y="252.75" font-size="7.4" font-weight="bold" text-anchor="end" fill="#111" stroke="#111" stroke-width="0.35" textLength="22.22" lengthAdjust="spacingAndGlyphs" >35000</text>
<line x1="421.25" y1="345.80" x2="421.25" y2="348.30" stroke="#111" stroke-width="1.0"/>
<g transform="translate(420.25 356.80) scale(1.03 1) rotate(-45)"><text x="0" y="0" font-size="8.4" font-weight="normal" text-anchor="end" fill="#111" stroke="#111" stroke-width="0.3" textLength="25.21" lengthAdjust="spacingAndGlyphs">control</text></g>
<line x1="434.35" y1="345.80" x2="434.35" y2="348.30" stroke="#111" stroke-width="1.0"/>
<g transform="translate(433.35 356.80) scale(1.03 1) rotate(-45)"><text x="0" y="0" font-size="8.4" font-weight="normal" text-anchor="end" fill="#111" stroke="#111" stroke-width="0.3" textLength="26.15" lengthAdjust="spacingAndGlyphs">vehicle</text></g>
<line x1="447.45" y1="345.80" x2="447.45" y2="348.30" stroke="#111" stroke-width="1.0"/>
<g transform="translate(448.95 358.50) scale(1.03 1) rotate(-45)"><text x="0" y="0" font-size="8.4" font-weight="normal" text-anchor="end" fill="#111" stroke="#111" stroke-width="0.3" textLength="25.87" lengthAdjust="spacingAndGlyphs">0.2µM</text></g>
<line x1="460.55" y1="345.80" x2="460.55" y2="348.30" stroke="#111" stroke-width="1.0"/>
<g transform="translate(462.05 358.50) scale(1.03 1) rotate(-45)"><text x="0" y="0" font-size="8.4" font-weight="normal" text-anchor="end" fill="#111" stroke="#111" stroke-width="0.3" textLength="25.87" lengthAdjust="spacingAndGlyphs">0.5µM</text></g>
<line x1="473.65" y1="345.80" x2="473.65" y2="348.30" stroke="#111" stroke-width="1.0"/>
<g transform="translate(475.15 358.50) scale(1.03 1) rotate(-45)"><text x="0" y="0" font-size="8.4" font-weight="normal" text-anchor="end" fill="#111" stroke="#111" stroke-width="0.3" textLength="18.16" lengthAdjust="spacingAndGlyphs">1µM</text></g>
<line x1="486.75" y1="345.80" x2="486.75" y2="348.30" stroke="#111" stroke-width="1.0"/>
<g transform="translate(488.25 358.50) scale(1.03 1) rotate(-45)"><text x="0" y="0" font-size="8.4" font-weight="normal" text-anchor="end" fill="#111" stroke="#111" stroke-width="0.3" textLength="18.16" lengthAdjust="spacingAndGlyphs">2µM</text></g>
<line x1="499.85" y1="345.80" x2="499.85" y2="348.30" stroke="#111" stroke-width="1.0"/>
<g transform="translate(501.35 358.50) scale(1.03 1) rotate(-45)"><text x="0" y="0" font-size="8.4" font-weight="normal" text-anchor="end" fill="#111" stroke="#111" stroke-width="0.3" textLength="18.16" lengthAdjust="spacingAndGlyphs">5µM</text></g>
<line x1="512.95" y1="345.80" x2="512.95" y2="348.30" stroke="#111" stroke-width="1.0"/>
<g transform="translate(516.95 358.20) scale(1.03 1) rotate(-45)"><text x="0" y="0" font-size="8.4" font-weight="normal" text-anchor="end" fill="#111" stroke="#111" stroke-width="0.3" textLength="23.30" lengthAdjust="spacingAndGlyphs">10µM</text></g>
<text x="379.60" y="294.70" font-size="9.2" font-weight="normal" text-anchor="middle" fill="#111" stroke="#111" stroke-width="0.45" textLength="48.40" lengthAdjust="spacingAndGlyphs" transform="rotate(-90 379.60 294.70)" >CD25 (MFI)</text>
<text x="367.30" y="252.80" font-size="13" font-weight="bold" text-anchor="start" fill="#000" stroke="#000" stroke-width="0.5" >F</text>
<line x1="58.95" y1="491.00" x2="58.95" y2="491.55" stroke="#111" stroke-width="1.0"/>
<line x1="56.75" y1="491.00" x2="61.15" y2="491.00" stroke="#111" stroke-width="1.0"/>
<rect x="55.15" y="492.10" width="7.60" height="2.20" fill="#8a8a8a" stroke="#111" stroke-width="1.1"/>
<line x1="71.81" y1="404.63" x2="71.81" y2="405.40" stroke="#111" stroke-width="1.0"/>
<line x1="69.61" y1="404.63" x2="74.01" y2="404.63" stroke="#111" stroke-width="1.0"/>
<rect x="68.01" y="405.95" width="7.60" height="88.35" fill="#fff" stroke="#111" stroke-width="1.1"/>
<line x1="84.67" y1="404.52" x2="84.67" y2="407.05" stroke="#111" stroke-width="1.0"/>
<line x1="82.47" y1="404.52" x2="86.87" y2="404.52" stroke="#111" stroke-width="1.0"/>
<rect x="80.32" y="407.05" width="8.70" height="87.25" fill="#000"/>
<line x1="97.53" y1="404.19" x2="97.53" y2="409.69" stroke="#111" stroke-width="1.0"/>
<line x1="95.33" y1="404.19" x2="99.73" y2="404.19" stroke="#111" stroke-width="1.0"/>
<rect x="93.18" y="409.69" width="8.70" height="84.61" fill="#000"/>
<rect x="106.04" y="420.02" width="8.70" height="74.28" fill="#000"/>
<polygon points="107.34,412.95 108.21,414.71 110.15,414.99 108.74,416.36 109.07,418.29 107.34,417.38 105.61,418.29 105.94,416.36 104.53,414.99 106.47,414.71" fill="#222"/>
<polygon points="113.44,412.95 114.31,414.71 116.25,414.99 114.84,416.36 115.17,418.29 113.44,417.38 111.71,418.29 112.04,416.36 110.63,414.99 112.57,414.71" fill="#222"/>
<rect x="118.90" y="422.76" width="8.70" height="71.54" fill="#000"/>
<polygon points="120.20,415.65 121.07,417.41 123.01,417.69 121.60,419.06 121.93,420.99 120.20,420.08 118.47,420.99 118.80,419.06 117.39,417.69 119.33,417.41" fill="#222"/>
<polygon points="126.30,415.65 127.17,417.41 129.11,417.69 127.70,419.06 128.03,420.99 126.30,420.08 124.57,420.99 124.90,419.06 123.49,417.69 125.43,417.41" fill="#222"/>
<rect x="131.76" y="425.84" width="8.70" height="68.46" fill="#000"/>
<polygon points="133.06,419.05 133.93,420.81 135.87,421.09 134.46,422.46 134.79,424.39 133.06,423.48 131.33,424.39 131.66,422.46 130.25,421.09 132.19,420.81" fill="#222"/>
<polygon points="139.16,419.05 140.03,420.81 141.97,421.09 140.56,422.46 140.89,424.39 139.16,423.48 137.43,424.39 137.76,422.46 136.35,421.09 138.29,420.81" fill="#222"/>
<rect x="144.62" y="430.12" width="8.70" height="64.18" fill="#000"/>
<polygon points="145.92,423.25 146.79,425.01 148.73,425.29 147.32,426.66 147.65,428.59 145.92,427.68 144.19,428.59 144.52,426.66 143.11,425.29 145.05,425.01" fill="#222"/>
<polygon points="152.02,423.25 152.89,425.01 154.83,425.29 153.42,426.66 153.75,428.59 152.02,427.68 150.29,428.59 150.62,426.66 149.21,425.29 151.15,425.01" fill="#222"/>
<line x1="52.40" y1="394.90" x2="52.40" y2="494.80" stroke="#111" stroke-width="1.1"/>
<line x1="51.90" y1="494.30" x2="155.00" y2="494.30" stroke="#111" stroke-width="1.1"/>
<line x1="49.40" y1="494.30" x2="52.40" y2="494.30" stroke="#111" stroke-width="1.0"/>
<text x="48.80" y="496.85" font-size="7.4" font-weight="bold" text-anchor="end" fill="#111" stroke="#111" stroke-width="0.35" textLength="4.44" lengthAdjust="spacingAndGlyphs" >0</text>
<line x1="49.40" y1="483.31" x2="52.40" y2="483.31" stroke="#111" stroke-width="1.0"/>
<text x="48.80" y="485.86" font-size="7.4" font-weight="bold" text-anchor="end" fill="#111" stroke="#111" stroke-width="0.35" textLength="8.89" lengthAdjust="spacingAndGlyphs" >10</text>
<line x1="49.40" y1="472.32" x2="52.40" y2="472.32" stroke="#111" stroke-width="1.0"/>
<text x="48.80" y="474.87" font-size="7.4" font-weight="bold" text-anchor="end" fill="#111" stroke="#111" stroke-width="0.35" textLength="8.89" lengthAdjust="spacingAndGlyphs" >20</text>
<line x1="49.40" y1="461.33" x2="52.40" y2="461.33" stroke="#111" stroke-width="1.0"/>
<text x="48.80" y="463.88" font-size="7.4" font-weight="bold" text-anchor="end" fill="#111" stroke="#111" stroke-width="0.35" textLength="8.89" lengthAdjust="spacingAndGlyphs" >30</text>
<line x1="49.40" y1="450.34" x2="52.40" y2="450.34" stroke="#111" stroke-width="1.0"/>
<text x="48.80" y="452.89" font-size="7.4" font-weight="bold" text-anchor="end" fill="#111" stroke="#111" stroke-width="0.35" textLength="8.89" lengthAdjust="spacingAndGlyphs" >40</text>
<line x1="49.40" y1="439.36" x2="52.40" y2="439.36" stroke="#111" stroke-width="1.0"/>
<text x="48.80" y="441.90" font-size="7.4" font-weight="bold" text-anchor="end" fill="#111" stroke="#111" stroke-width="0.35" textLength="8.89" lengthAdjust="spacingAndGlyphs" >50</text>
<line x1="49.40" y1="428.37" x2="52.40" y2="428.37" stroke="#111" stroke-width="1.0"/>
<text x="48.80" y="430.91" font-size="7.4" font-weight="bold" text-anchor="end" fill="#111" stroke="#111" stroke-width="0.35" textLength="8.89" lengthAdjust="spacingAndGlyphs" >60</text>
<line x1="49.40" y1="417.38" x2="52.40" y2="417.38" stroke="#111" stroke-width="1.0"/>
<text x="48.80" y="419.92" font-size="7.4" font-weight="bold" text-anchor="end" fill="#111" stroke="#111" stroke-width="0.35" textLength="8.89" lengthAdjust="spacingAndGlyphs" >70</text>
<line x1="49.40" y1="406.39" x2="52.40" y2="406.39" stroke="#111" stroke-width="1.0"/>
<text x="48.80" y="408.93" font-size="7.4" font-weight="bold" text-anchor="end" fill="#111" stroke="#111" stroke-width="0.35" textLength="8.89" lengthAdjust="spacingAndGlyphs" >80</text>
<line x1="49.40" y1="395.40" x2="52.40" y2="395.40" stroke="#111" stroke-width="1.0"/>
<text x="48.80" y="397.95" font-size="7.4" font-weight="bold" text-anchor="end" fill="#111" stroke="#111" stroke-width="0.35" textLength="8.89" lengthAdjust="spacingAndGlyphs" >90</text>
<line x1="58.95" y1="494.30" x2="58.95" y2="496.80" stroke="#111" stroke-width="1.0"/>
<g transform="translate(57.95 505.30) scale(1.03 1) rotate(-45)"><text x="0" y="0" font-size="8.4" font-weight="normal" text-anchor="end" fill="#111" stroke="#111" stroke-width="0.3" textLength="25.21" lengthAdjust="spacingAndGlyphs">control</text></g>
<line x1="71.81" y1="494.30" x2="71.81" y2="496.80" stroke="#111" stroke-width="1.0"/>
<g transform="translate(70.81 505.30) scale(1.03 1) rotate(-45)"><text x="0" y="0" font-size="8.4" font-weight="normal" text-anchor="end" fill="#111" stroke="#111" stroke-width="0.3" textLength="26.15" lengthAdjust="spacingAndGlyphs">vehicle</text></g>
<line x1="84.67" y1="494.30" x2="84.67" y2="496.80" stroke="#111" stroke-width="1.0"/>
<g transform="translate(86.17 507.00) scale(1.03 1) rotate(-45)"><text x="0" y="0" font-size="8.4" font-weight="normal" text-anchor="end" fill="#111" stroke="#111" stroke-width="0.3" textLength="25.87" lengthAdjust="spacingAndGlyphs">0.2µM</text></g>
<line x1="97.53" y1="494.30" x2="97.53" y2="496.80" stroke="#111" stroke-width="1.0"/>
<g transform="translate(99.03 507.00) scale(1.03 1) rotate(-45)"><text x="0" y="0" font-size="8.4" font-weight="normal" text-anchor="end" fill="#111" stroke="#111" stroke-width="0.3" textLength="25.87" lengthAdjust="spacingAndGlyphs">0.5µM</text></g>
<line x1="110.39" y1="494.30" x2="110.39" y2="496.80" stroke="#111" stroke-width="1.0"/>
<g transform="translate(111.89 507.00) scale(1.03 1) rotate(-45)"><text x="0" y="0" font-size="8.4" font-weight="normal" text-anchor="end" fill="#111" stroke="#111" stroke-width="0.3" textLength="18.16" lengthAdjust="spacingAndGlyphs">1µM</text></g>
<line x1="123.25" y1="494.30" x2="123.25" y2="496.80" stroke="#111" stroke-width="1.0"/>
<g transform="translate(124.75 507.00) scale(1.03 1) rotate(-45)"><text x="0" y="0" font-size="8.4" font-weight="normal" text-anchor="end" fill="#111" stroke="#111" stroke-width="0.3" textLength="18.16" lengthAdjust="spacingAndGlyphs">2µM</text></g>
<line x1="136.11" y1="494.30" x2="136.11" y2="496.80" stroke="#111" stroke-width="1.0"/>
<g transform="translate(137.61 507.00) scale(1.03 1) rotate(-45)"><text x="0" y="0" font-size="8.4" font-weight="normal" text-anchor="end" fill="#111" stroke="#111" stroke-width="0.3" textLength="18.16" lengthAdjust="spacingAndGlyphs">5µM</text></g>
<line x1="148.97" y1="494.30" x2="148.97" y2="496.80" stroke="#111" stroke-width="1.0"/>
<g transform="translate(152.97 506.70) scale(1.03 1) rotate(-45)"><text x="0" y="0" font-size="8.4" font-weight="normal" text-anchor="end" fill="#111" stroke="#111" stroke-width="0.3" textLength="23.30" lengthAdjust="spacingAndGlyphs">10µM</text></g>
<text x="34.60" y="444.00" font-size="9.0" font-weight="normal" text-anchor="middle" fill="#111" stroke="#111" stroke-width="0.45" textLength="82.50" lengthAdjust="spacingAndGlyphs" transform="rotate(-90 34.60 444.00)" >proliferated cells (%)</text>
<text x="0.80" y="401.20" font-size="13" font-weight="bold" text-anchor="start" fill="#000" stroke="#000" stroke-width="0.5" >G</text>
<line x1="241.60" y1="487.90" x2="241.60" y2="488.39" stroke="#111" stroke-width="1.0"/>
<line x1="239.40" y1="487.90" x2="243.80" y2="487.90" stroke="#111" stroke-width="1.0"/>
<rect x="237.75" y="488.94" width="7.70" height="4.86" fill="#8a8a8a" stroke="#111" stroke-width="1.1"/>
<line x1="254.43" y1="409.18" x2="254.43" y2="409.67" stroke="#111" stroke-width="1.0"/>
<line x1="252.23" y1="409.18" x2="256.63" y2="409.18" stroke="#111" stroke-width="1.0"/>
<rect x="250.58" y="410.22" width="7.70" height="83.58" fill="#fff" stroke="#111" stroke-width="1.1"/>
<line x1="267.26" y1="401.80" x2="267.26" y2="404.26" stroke="#111" stroke-width="1.0"/>
<line x1="265.06" y1="401.80" x2="269.46" y2="401.80" stroke="#111" stroke-width="1.0"/>
<rect x="262.86" y="404.26" width="8.80" height="89.54" fill="#000"/>
<line x1="280.09" y1="406.22" x2="280.09" y2="410.65" stroke="#111" stroke-width="1.0"/>
<line x1="277.89" y1="406.22" x2="282.29" y2="406.22" stroke="#111" stroke-width="1.0"/>
<rect x="275.69" y="410.65" width="8.80" height="83.15" fill="#000"/>
<rect x="288.52" y="423.94" width="8.80" height="69.86" fill="#000"/>
<polygon points="289.87,416.05 290.74,417.81 292.68,418.09 291.27,419.46 291.60,421.39 289.87,420.48 288.14,421.39 288.47,419.46 287.06,418.09 289.00,417.81" fill="#222"/>
<polygon points="295.97,416.05 296.84,417.81 298.78,418.09 297.37,419.46 297.70,421.39 295.97,420.48 294.24,421.39 294.57,419.46 293.16,418.09 295.10,417.81" fill="#222"/>
<rect x="301.35" y="432.79" width="8.80" height="61.01" fill="#000"/>
<polygon points="302.70,424.75 303.57,426.51 305.51,426.79 304.10,428.16 304.43,430.09 302.70,429.18 300.97,430.09 301.30,428.16 299.89,426.79 301.83,426.51" fill="#222"/>
<polygon points="308.80,424.75 309.67,426.51 311.61,426.79 310.20,428.16 310.53,430.09 308.80,429.18 307.07,430.09 307.40,428.16 305.99,426.79 307.93,426.51" fill="#222"/>
<rect x="314.18" y="438.70" width="8.80" height="55.10" fill="#000"/>
<polygon points="315.53,430.55 316.40,432.31 318.34,432.59 316.93,433.96 317.26,435.89 315.53,434.98 313.80,435.89 314.13,433.96 312.72,432.59 314.66,432.31" fill="#222"/>
<polygon points="321.63,430.55 322.50,432.31 324.44,432.59 323.03,433.96 323.36,435.89 321.63,434.98 319.90,435.89 320.23,433.96 318.82,432.59 320.76,432.31" fill="#222"/>
<line x1="331.41" y1="445.09" x2="331.41" y2="445.58" stroke="#111" stroke-width="1.0"/>
<line x1="329.21" y1="445.09" x2="333.61" y2="445.09" stroke="#111" stroke-width="1.0"/>
<rect x="327.01" y="445.58" width="8.80" height="48.22" fill="#000"/>
<polygon points="328.36,437.35 329.23,439.11 331.17,439.39 329.76,440.76 330.09,442.69 328.36,441.78 326.63,442.69 326.96,440.76 325.55,439.39 327.49,439.11" fill="#222"/>
<polygon points="334.46,437.35 335.33,439.11 337.27,439.39 335.86,440.76 336.19,442.69 334.46,441.78 332.73,442.69 333.06,440.76 331.65,439.39 333.59,439.11" fill="#222"/>
<line x1="235.50" y1="394.90" x2="235.50" y2="494.30" stroke="#111" stroke-width="1.1"/>
<line x1="235.00" y1="493.80" x2="338.00" y2="493.80" stroke="#111" stroke-width="1.1"/>
<line x1="232.50" y1="493.80" x2="235.50" y2="493.80" stroke="#111" stroke-width="1.0"/>
<text x="231.90" y="496.35" font-size="7.4" font-weight="bold" text-anchor="end" fill="#111" stroke="#111" stroke-width="0.35" textLength="4.44" lengthAdjust="spacingAndGlyphs" >0</text>
<line x1="232.50" y1="444.60" x2="235.50" y2="444.60" stroke="#111" stroke-width="1.0"/>
<text x="231.90" y="447.15" font-size="7.4" font-weight="bold" text-anchor="end" fill="#111" stroke="#111" stroke-width="0.35" textLength="4.44" lengthAdjust="spacingAndGlyphs" >1</text>
<line x1="232.50" y1="395.40" x2="235.50" y2="395.40" stroke="#111" stroke-width="1.0"/>
<text x="231.90" y="397.95" font-size="7.4" font-weight="bold" text-anchor="end" fill="#111" stroke="#111" stroke-width="0.35" textLength="4.44" lengthAdjust="spacingAndGlyphs" >2</text>
<line x1="241.60" y1="493.80" x2="241.60" y2="496.30" stroke="#111" stroke-width="1.0"/>
<g transform="translate(240.60 504.80) scale(1.03 1) rotate(-45)"><text x="0" y="0" font-size="8.4" font-weight="normal" text-anchor="end" fill="#111" stroke="#111" stroke-width="0.3" textLength="25.21" lengthAdjust="spacingAndGlyphs">control</text></g>
<line x1="254.43" y1="493.80" x2="254.43" y2="496.30" stroke="#111" stroke-width="1.0"/>
<g transform="translate(253.43 504.80) scale(1.03 1) rotate(-45)"><text x="0" y="0" font-size="8.4" font-weight="normal" text-anchor="end" fill="#111" stroke="#111" stroke-width="0.3" textLength="26.15" lengthAdjust="spacingAndGlyphs">vehicle</text></g>
<line x1="267.26" y1="493.80" x2="267.26" y2="496.30" stroke="#111" stroke-width="1.0"/>
<g transform="translate(268.76 506.50) scale(1.03 1) rotate(-45)"><text x="0" y="0" font-size="8.4" font-weight="normal" text-anchor="end" fill="#111" stroke="#111" stroke-width="0.3" textLength="25.87" lengthAdjust="spacingAndGlyphs">0.2µM</text></g>
<line x1="280.09" y1="493.80" x2="280.09" y2="496.30" stroke="#111" stroke-width="1.0"/>
<g transform="translate(281.59 506.50) scale(1.03 1) rotate(-45)"><text x="0" y="0" font-size="8.4" font-weight="normal" text-anchor="end" fill="#111" stroke="#111" stroke-width="0.3" textLength="25.87" lengthAdjust="spacingAndGlyphs">0.5µM</text></g>
<line x1="292.92" y1="493.80" x2="292.92" y2="496.30" stroke="#111" stroke-width="1.0"/>
<g transform="translate(294.42 506.50) scale(1.03 1) rotate(-45)"><text x="0" y="0" font-size="8.4" font-weight="normal" text-anchor="end" fill="#111" stroke="#111" stroke-width="0.3" textLength="18.16" lengthAdjust="spacingAndGlyphs">1µM</text></g>
<line x1="305.75" y1="493.80" x2="305.75" y2="496.30" stroke="#111" stroke-width="1.0"/>
<g transform="translate(307.25 506.50) scale(1.03 1) rotate(-45)"><text x="0" y="0" font-size="8.4" font-weight="normal" text-anchor="end" fill="#111" stroke="#111" stroke-width="0.3" textLength="18.16" lengthAdjust="spacingAndGlyphs">2µM</text></g>
<line x1="318.58" y1="493.80" x2="318.58" y2="496.30" stroke="#111" stroke-width="1.0"/>
<g transform="translate(320.08 506.50) scale(1.03 1) rotate(-45)"><text x="0" y="0" font-size="8.4" font-weight="normal" text-anchor="end" fill="#111" stroke="#111" stroke-width="0.3" textLength="18.16" lengthAdjust="spacingAndGlyphs">5µM</text></g>
<line x1="331.41" y1="493.80" x2="331.41" y2="496.30" stroke="#111" stroke-width="1.0"/>
<g transform="translate(335.41 506.20) scale(1.03 1) rotate(-45)"><text x="0" y="0" font-size="8.4" font-weight="normal" text-anchor="end" fill="#111" stroke="#111" stroke-width="0.3" textLength="23.30" lengthAdjust="spacingAndGlyphs">10µM</text></g>
<text x="213.00" y="445.10" font-size="9.2" font-weight="normal" text-anchor="middle" fill="#111" stroke="#111" stroke-width="0.45" textLength="54.50" lengthAdjust="spacingAndGlyphs" transform="rotate(-90 213.00 445.10)" >division index</text>
<text x="192.90" y="400.90" font-size="13" font-weight="bold" text-anchor="start" fill="#000" stroke="#000" stroke-width="0.5" >H</text>
<line x1="421.40" y1="489.44" x2="421.40" y2="489.97" stroke="#111" stroke-width="1.0"/>
<line x1="419.20" y1="489.44" x2="423.60" y2="489.44" stroke="#111" stroke-width="1.0"/>
<rect x="417.45" y="490.52" width="7.90" height="2.88" fill="#8a8a8a" stroke="#111" stroke-width="1.1"/>
<line x1="434.30" y1="411.56" x2="434.30" y2="412.88" stroke="#111" stroke-width="1.0"/>
<line x1="432.10" y1="411.56" x2="436.50" y2="411.56" stroke="#111" stroke-width="1.0"/>
<rect x="430.35" y="413.43" width="7.90" height="79.97" fill="#fff" stroke="#111" stroke-width="1.1"/>
<line x1="447.20" y1="420.80" x2="447.20" y2="422.12" stroke="#111" stroke-width="1.0"/>
<line x1="445.00" y1="420.80" x2="449.40" y2="420.80" stroke="#111" stroke-width="1.0"/>
<rect x="442.70" y="422.12" width="9.00" height="71.28" fill="#000"/>
<line x1="460.10" y1="397.04" x2="460.10" y2="415.52" stroke="#111" stroke-width="1.0"/>
<line x1="457.90" y1="397.04" x2="462.30" y2="397.04" stroke="#111" stroke-width="1.0"/>
<rect x="455.60" y="415.52" width="9.00" height="77.88" fill="#000"/>
<rect x="468.50" y="448.52" width="9.00" height="44.88" fill="#000"/>
<polygon points="473.00,441.95 473.87,443.71 475.81,443.99 474.40,445.36 474.73,447.29 473.00,446.38 471.27,447.29 471.60,445.36 470.19,443.99 472.13,443.71" fill="#222"/>
<line x1="485.90" y1="456.04" x2="485.90" y2="456.44" stroke="#111" stroke-width="1.0"/>
<line x1="483.70" y1="456.04" x2="488.10" y2="456.04" stroke="#111" stroke-width="1.0"/>
<rect x="481.40" y="456.44" width="9.00" height="36.96" fill="#000"/>
<polygon points="482.85,447.55 483.72,449.31 485.66,449.59 484.25,450.96 484.58,452.89 482.85,451.98 481.12,452.89 481.45,450.96 480.04,449.59 481.98,449.31" fill="#222"/>
<polygon points="488.95,447.55 489.82,449.31 491.76,449.59 490.35,450.96 490.68,452.89 488.95,451.98 487.22,452.89 487.55,450.96 486.14,449.59 488.08,449.31" fill="#222"/>
<line x1="498.80" y1="457.76" x2="498.80" y2="460.00" stroke="#111" stroke-width="1.0"/>
<line x1="496.60" y1="457.76" x2="501.00" y2="457.76" stroke="#111" stroke-width="1.0"/>
<rect x="494.30" y="460.00" width="9.00" height="33.40" fill="#000"/>
<polygon points="495.75,451.65 496.62,453.41 498.56,453.69 497.15,455.06 497.48,456.99 495.75,456.08 494.02,456.99 494.35,455.06 492.94,453.69 494.88,453.41" fill="#222"/>
<polygon points="501.85,451.65 502.72,453.41 504.66,453.69 503.25,455.06 503.58,456.99 501.85,456.08 500.12,456.99 500.45,455.06 499.04,453.69 500.98,453.41" fill="#222"/>
<line x1="511.70" y1="465.02" x2="511.70" y2="466.34" stroke="#111" stroke-width="1.0"/>
<line x1="509.50" y1="465.02" x2="513.90" y2="465.02" stroke="#111" stroke-width="1.0"/>
<rect x="507.20" y="466.34" width="9.00" height="27.06" fill="#000"/>
<polygon points="508.65,458.45 509.52,460.21 511.46,460.49 510.05,461.86 510.38,463.79 508.65,462.88 506.92,463.79 507.25,461.86 505.84,460.49 507.78,460.21" fill="#222"/>
<polygon points="514.75,458.45 515.62,460.21 517.56,460.49 516.15,461.86 516.48,463.79 514.75,462.88 513.02,463.79 513.35,461.86 511.94,460.49 513.88,460.21" fill="#222"/>
<line x1="415.20" y1="393.90" x2="415.20" y2="493.90" stroke="#111" stroke-width="1.1"/>
<line x1="414.70" y1="493.40" x2="519.00" y2="493.40" stroke="#111" stroke-width="1.1"/>
<line x1="412.20" y1="493.40" x2="415.20" y2="493.40" stroke="#111" stroke-width="1.0"/>
<text x="411.60" y="495.95" font-size="7.4" font-weight="bold" text-anchor="end" fill="#111" stroke="#111" stroke-width="0.35" textLength="4.44" lengthAdjust="spacingAndGlyphs" >0</text>
<line x1="412.20" y1="460.40" x2="415.20" y2="460.40" stroke="#111" stroke-width="1.0"/>
<text x="411.60" y="462.95" font-size="7.4" font-weight="bold" text-anchor="end" fill="#111" stroke="#111" stroke-width="0.35" textLength="17.78" lengthAdjust="spacingAndGlyphs" >2500</text>
<line x1="412.20" y1="427.40" x2="415.20" y2="427.40" stroke="#111" stroke-width="1.0"/>
<text x="411.60" y="429.95" font-size="7.4" font-weight="bold" text-anchor="end" fill="#111" stroke="#111" stroke-width="0.35" textLength="17.78" lengthAdjust="spacingAndGlyphs" >5000</text>
<line x1="412.20" y1="394.40" x2="415.20" y2="394.40" stroke="#111" stroke-width="1.0"/>
<text x="411.60" y="396.95" font-size="7.4" font-weight="bold" text-anchor="end" fill="#111" stroke="#111" stroke-width="0.35" textLength="17.78" lengthAdjust="spacingAndGlyphs" >7500</text>
<line x1="421.40" y1="493.40" x2="421.40" y2="495.90" stroke="#111" stroke-width="1.0"/>
<g transform="translate(420.40 504.40) scale(1.03 1) rotate(-45)"><text x="0" y="0" font-size="8.4" font-weight="normal" text-anchor="end" fill="#111" stroke="#111" stroke-width="0.3" textLength="25.21" lengthAdjust="spacingAndGlyphs">control</text></g>
<line x1="434.30" y1="493.40" x2="434.30" y2="495.90" stroke="#111" stroke-width="1.0"/>
<g transform="translate(433.30 504.40) scale(1.03 1) rotate(-45)"><text x="0" y="0" font-size="8.4" font-weight="normal" text-anchor="end" fill="#111" stroke="#111" stroke-width="0.3" textLength="26.15" lengthAdjust="spacingAndGlyphs">vehicle</text></g>
<line x1="447.20" y1="493.40" x2="447.20" y2="495.90" stroke="#111" stroke-width="1.0"/>
<g transform="translate(448.70 506.10) scale(1.03 1) rotate(-45)"><text x="0" y="0" font-size="8.4" font-weight="normal" text-anchor="end" fill="#111" stroke="#111" stroke-width="0.3" textLength="25.87" lengthAdjust="spacingAndGlyphs">0.2µM</text></g>
<line x1="460.10" y1="493.40" x2="460.10" y2="495.90" stroke="#111" stroke-width="1.0"/>
<g transform="translate(461.60 506.10) scale(1.03 1) rotate(-45)"><text x="0" y="0" font-size="8.4" font-weight="normal" text-anchor="end" fill="#111" stroke="#111" stroke-width="0.3" textLength="25.87" lengthAdjust="spacingAndGlyphs">0.5µM</text></g>
<line x1="473.00" y1="493.40" x2="473.00" y2="495.90" stroke="#111" stroke-width="1.0"/>
<g transform="translate(474.50 506.10) scale(1.03 1) rotate(-45)"><text x="0" y="0" font-size="8.4" font-weight="normal" text-anchor="end" fill="#111" stroke="#111" stroke-width="0.3" textLength="18.16" lengthAdjust="spacingAndGlyphs">1µM</text></g>
<line x1="485.90" y1="493.40" x2="485.90" y2="495.90" stroke="#111" stroke-width="1.0"/>
<g transform="translate(487.40 506.10) scale(1.03 1) rotate(-45)"><text x="0" y="0" font-size="8.4" font-weight="normal" text-anchor="end" fill="#111" stroke="#111" stroke-width="0.3" textLength="18.16" lengthAdjust="spacingAndGlyphs">2µM</text></g>
<line x1="498.80" y1="493.40" x2="498.80" y2="495.90" stroke="#111" stroke-width="1.0"/>
<g transform="translate(500.30 506.10) scale(1.03 1) rotate(-45)"><text x="0" y="0" font-size="8.4" font-weight="normal" text-anchor="end" fill="#111" stroke="#111" stroke-width="0.3" textLength="18.16" lengthAdjust="spacingAndGlyphs">5µM</text></g>
<line x1="511.70" y1="493.40" x2="511.70" y2="495.90" stroke="#111" stroke-width="1.0"/>
<g transform="translate(515.70 505.80) scale(1.03 1) rotate(-45)"><text x="0" y="0" font-size="8.4" font-weight="normal" text-anchor="end" fill="#111" stroke="#111" stroke-width="0.3" textLength="23.30" lengthAdjust="spacingAndGlyphs">10µM</text></g>
<text x="388.70" y="441.20" font-size="9.2" font-weight="normal" text-anchor="middle" fill="#111" stroke="#111" stroke-width="0.45" textLength="48.40" lengthAdjust="spacingAndGlyphs" transform="rotate(-90 388.70 441.20)" >CD25 (MFI)</text>
<text x="367.70" y="400.60" font-size="13" font-weight="bold" text-anchor="start" fill="#000" stroke="#000" stroke-width="0.5" >I</text>
<line x1="59.60" y1="625.83" x2="59.60" y2="626.16" stroke="#111" stroke-width="1.0"/>
<line x1="57.40" y1="625.83" x2="61.80" y2="625.83" stroke="#111" stroke-width="1.0"/>
<rect x="54.95" y="626.71" width="9.30" height="18.69" fill="#8a8a8a" stroke="#111" stroke-width="1.1"/>
<line x1="74.60" y1="552.53" x2="74.60" y2="553.20" stroke="#111" stroke-width="1.0"/>
<line x1="72.40" y1="552.53" x2="76.80" y2="552.53" stroke="#111" stroke-width="1.0"/>
<rect x="69.95" y="553.75" width="9.30" height="91.65" fill="#fff" stroke="#111" stroke-width="1.1"/>
<line x1="89.60" y1="569.45" x2="89.60" y2="571.77" stroke="#111" stroke-width="1.0"/>
<line x1="87.40" y1="569.45" x2="91.80" y2="569.45" stroke="#111" stroke-width="1.0"/>
<rect x="84.40" y="571.77" width="10.40" height="73.63" fill="#000"/>
<polygon points="86.55,562.65 87.42,564.41 89.36,564.69 87.95,566.06 88.28,567.99 86.55,567.08 84.82,567.99 85.15,566.06 83.74,564.69 85.68,564.41" fill="#222"/>
<polygon points="92.65,562.65 93.52,564.41 95.46,564.69 94.05,566.06 94.38,567.99 92.65,567.08 90.92,567.99 91.25,566.06 89.84,564.69 91.78,564.41" fill="#222"/>
<line x1="104.60" y1="571.94" x2="104.60" y2="572.43" stroke="#111" stroke-width="1.0"/>
<line x1="102.40" y1="571.94" x2="106.80" y2="571.94" stroke="#111" stroke-width="1.0"/>
<rect x="99.40" y="572.43" width="10.40" height="72.97" fill="#000"/>
<polygon points="101.55,564.65 102.42,566.41 104.36,566.69 102.95,568.06 103.28,569.99 101.55,569.08 99.82,569.99 100.15,568.06 98.74,566.69 100.68,566.41" fill="#222"/>
<polygon points="107.65,564.65 108.52,566.41 110.46,566.69 109.05,568.06 109.38,569.99 107.65,569.08 105.92,569.99 106.25,568.06 104.84,566.69 106.78,566.41" fill="#222"/>
<line x1="119.60" y1="577.08" x2="119.60" y2="579.56" stroke="#111" stroke-width="1.0"/>
<line x1="117.40" y1="577.08" x2="121.80" y2="577.08" stroke="#111" stroke-width="1.0"/>
<rect x="114.40" y="579.56" width="10.40" height="65.84" fill="#000"/>
<polygon points="116.55,570.25 117.42,572.01 119.36,572.29 117.95,573.66 118.28,575.59 116.55,574.68 114.82,575.59 115.15,573.66 113.74,572.29 115.68,572.01" fill="#222"/>
<polygon points="122.65,570.25 123.52,572.01 125.46,572.29 124.05,573.66 124.38,575.59 122.65,574.68 120.92,575.59 121.25,573.66 119.84,572.29 121.78,572.01" fill="#222"/>
<line x1="134.60" y1="620.52" x2="134.60" y2="621.02" stroke="#111" stroke-width="1.0"/>
<line x1="132.40" y1="620.52" x2="136.80" y2="620.52" stroke="#111" stroke-width="1.0"/>
<rect x="129.40" y="621.02" width="10.40" height="24.38" fill="#000"/>
<polygon points="131.55,613.05 132.42,614.81 134.36,615.09 132.95,616.46 133.28,618.39 131.55,617.48 129.82,618.39 130.15,616.46 128.74,615.09 130.68,614.81" fill="#222"/>
<polygon points="137.65,613.05 138.52,614.81 140.46,615.09 139.05,616.46 139.38,618.39 137.65,617.48 135.92,618.39 136.25,616.46 134.84,615.09 136.78,614.81" fill="#222"/>
<line x1="149.60" y1="625.50" x2="149.60" y2="625.83" stroke="#111" stroke-width="1.0"/>
<line x1="147.40" y1="625.50" x2="151.80" y2="625.50" stroke="#111" stroke-width="1.0"/>
<rect x="144.40" y="625.83" width="10.40" height="19.57" fill="#000"/>
<polygon points="146.55,618.15 147.42,619.91 149.36,620.19 147.95,621.56 148.28,623.49 146.55,622.58 144.82,623.49 145.15,621.56 143.74,620.19 145.68,619.91" fill="#222"/>
<polygon points="152.65,618.15 153.52,619.91 155.46,620.19 154.05,621.56 154.38,623.49 152.65,622.58 150.92,623.49 151.25,621.56 149.84,620.19 151.78,619.91" fill="#222"/>
<line x1="52.30" y1="545.40" x2="52.30" y2="645.90" stroke="#111" stroke-width="1.1"/>
<line x1="51.80" y1="645.40" x2="157.50" y2="645.40" stroke="#111" stroke-width="1.1"/>
<line x1="49.30" y1="645.40" x2="52.30" y2="645.40" stroke="#111" stroke-width="1.0"/>
<text x="48.70" y="647.95" font-size="7.4" font-weight="bold" text-anchor="end" fill="#111" stroke="#111" stroke-width="0.35" textLength="4.44" lengthAdjust="spacingAndGlyphs" >0</text>
<line x1="49.30" y1="628.82" x2="52.30" y2="628.82" stroke="#111" stroke-width="1.0"/>
<text x="48.70" y="631.36" font-size="7.4" font-weight="bold" text-anchor="end" fill="#111" stroke="#111" stroke-width="0.35" textLength="8.89" lengthAdjust="spacingAndGlyphs" >10</text>
<line x1="49.30" y1="612.23" x2="52.30" y2="612.23" stroke="#111" stroke-width="1.0"/>
<text x="48.70" y="614.78" font-size="7.4" font-weight="bold" text-anchor="end" fill="#111" stroke="#111" stroke-width="0.35" textLength="8.89" lengthAdjust="spacingAndGlyphs" >20</text>
<line x1="49.30" y1="595.65" x2="52.30" y2="595.65" stroke="#111" stroke-width="1.0"/>
<text x="48.70" y="598.20" font-size="7.4" font-weight="bold" text-anchor="end" fill="#111" stroke="#111" stroke-width="0.35" textLength="8.89" lengthAdjust="spacingAndGlyphs" >30</text>
<line x1="49.30" y1="579.07" x2="52.30" y2="579.07" stroke="#111" stroke-width="1.0"/>
<text x="48.70" y="581.61" font-size="7.4" font-weight="bold" text-anchor="end" fill="#111" stroke="#111" stroke-width="0.35" textLength="8.89" lengthAdjust="spacingAndGlyphs" >40</text>
<line x1="49.30" y1="562.48" x2="52.30" y2="562.48" stroke="#111" stroke-width="1.0"/>
<text x="48.70" y="565.03" font-size="7.4" font-weight="bold" text-anchor="end" fill="#111" stroke="#111" stroke-width="0.35" textLength="8.89" lengthAdjust="spacingAndGlyphs" >50</text>
<line x1="49.30" y1="545.90" x2="52.30" y2="545.90" stroke="#111" stroke-width="1.0"/>
<text x="48.70" y="548.45" font-size="7.4" font-weight="bold" text-anchor="end" fill="#111" stroke="#111" stroke-width="0.35" textLength="8.89" lengthAdjust="spacingAndGlyphs" >60</text>
<line x1="59.60" y1="645.40" x2="59.60" y2="647.90" stroke="#111" stroke-width="1.0"/>
<g transform="translate(59.30 657.40) scale(1.03 1) rotate(-45)"><text x="0" y="0" font-size="8.6" font-weight="normal" text-anchor="end" fill="#111" stroke="#111" stroke-width="0.3" textLength="25.81" lengthAdjust="spacingAndGlyphs">control</text></g>
<line x1="74.60" y1="645.40" x2="74.60" y2="647.90" stroke="#111" stroke-width="1.0"/>
<g transform="translate(74.30 657.40) scale(1.03 1) rotate(-45)"><text x="0" y="0" font-size="8.6" font-weight="normal" text-anchor="end" fill="#111" stroke="#111" stroke-width="0.3" textLength="26.77" lengthAdjust="spacingAndGlyphs">vehicle</text></g>
<line x1="89.60" y1="645.40" x2="89.60" y2="647.90" stroke="#111" stroke-width="1.0"/>
<g transform="translate(92.20 658.40) scale(1.03 1) rotate(-45)"><text x="0" y="0" font-size="8.6" font-weight="normal" text-anchor="end" fill="#111" stroke="#111" stroke-width="0.3" textLength="24.80" lengthAdjust="spacingAndGlyphs">0.2µM</text></g>
<line x1="104.60" y1="645.40" x2="104.60" y2="647.90" stroke="#111" stroke-width="1.0"/>
<g transform="translate(107.20 658.40) scale(1.03 1) rotate(-45)"><text x="0" y="0" font-size="8.6" font-weight="normal" text-anchor="end" fill="#111" stroke="#111" stroke-width="0.3" textLength="24.80" lengthAdjust="spacingAndGlyphs">0.5µM</text></g>
<line x1="119.60" y1="645.40" x2="119.60" y2="647.90" stroke="#111" stroke-width="1.0"/>
<g transform="translate(122.20 658.40) scale(1.03 1) rotate(-45)"><text x="0" y="0" font-size="8.6" font-weight="normal" text-anchor="end" fill="#111" stroke="#111" stroke-width="0.3" textLength="17.41" lengthAdjust="spacingAndGlyphs">1µM</text></g>
<line x1="134.60" y1="645.40" x2="134.60" y2="647.90" stroke="#111" stroke-width="1.0"/>
<g transform="translate(137.20 658.40) scale(1.03 1) rotate(-45)"><text x="0" y="0" font-size="8.6" font-weight="normal" text-anchor="end" fill="#111" stroke="#111" stroke-width="0.3" textLength="17.41" lengthAdjust="spacingAndGlyphs">5µM</text></g>
<line x1="149.60" y1="645.40" x2="149.60" y2="647.90" stroke="#111" stroke-width="1.0"/>
<g transform="translate(154.70 658.10) scale(1.03 1) rotate(-45)"><text x="0" y="0" font-size="8.6" font-weight="normal" text-anchor="end" fill="#111" stroke="#111" stroke-width="0.3" textLength="22.34" lengthAdjust="spacingAndGlyphs">10µM</text></g>
<text x="34.60" y="592.40" font-size="9.0" font-weight="normal" text-anchor="middle" fill="#111" stroke="#111" stroke-width="0.45" textLength="83.50" lengthAdjust="spacingAndGlyphs" transform="rotate(-90 34.60 592.40)" >proliferated cells (%)</text>
<text x="0.30" y="545.20" font-size="13" font-weight="bold" text-anchor="start" fill="#000" stroke="#000" stroke-width="0.5" >J</text>
<line x1="242.40" y1="641.26" x2="242.40" y2="641.68" stroke="#111" stroke-width="1.0"/>
<line x1="240.20" y1="641.26" x2="244.60" y2="641.26" stroke="#111" stroke-width="1.0"/>
<rect x="237.75" y="642.23" width="9.30" height="3.67" fill="#8a8a8a" stroke="#111" stroke-width="1.1"/>
<line x1="257.10" y1="554.75" x2="257.10" y2="556.44" stroke="#111" stroke-width="1.0"/>
<line x1="254.90" y1="554.75" x2="259.30" y2="554.75" stroke="#111" stroke-width="1.0"/>
<rect x="252.45" y="556.99" width="9.30" height="88.91" fill="#fff" stroke="#111" stroke-width="1.1"/>
<line x1="271.80" y1="575.00" x2="271.80" y2="580.07" stroke="#111" stroke-width="1.0"/>
<line x1="269.60" y1="575.00" x2="274.00" y2="575.00" stroke="#111" stroke-width="1.0"/>
<rect x="266.60" y="580.07" width="10.40" height="65.83" fill="#000"/>
<polygon points="271.80,568.25 272.67,570.01 274.61,570.29 273.20,571.66 273.53,573.59 271.80,572.68 270.07,573.59 270.40,571.66 268.99,570.29 270.93,570.01" fill="#222"/>
<line x1="286.50" y1="584.29" x2="286.50" y2="586.40" stroke="#111" stroke-width="1.0"/>
<line x1="284.30" y1="584.29" x2="288.70" y2="584.29" stroke="#111" stroke-width="1.0"/>
<rect x="281.30" y="586.40" width="10.40" height="59.50" fill="#000"/>
<polygon points="283.45,575.65 284.32,577.41 286.26,577.69 284.85,579.06 285.18,580.99 283.45,580.08 281.72,580.99 282.05,579.06 280.64,577.69 282.58,577.41" fill="#222"/>
<polygon points="289.55,575.65 290.42,577.41 292.36,577.69 290.95,579.06 291.28,580.99 289.55,580.08 287.82,580.99 288.15,579.06 286.74,577.69 288.68,577.41" fill="#222"/>
<line x1="301.20" y1="587.66" x2="301.20" y2="591.88" stroke="#111" stroke-width="1.0"/>
<line x1="299.00" y1="587.66" x2="303.40" y2="587.66" stroke="#111" stroke-width="1.0"/>
<rect x="296.00" y="591.88" width="10.40" height="54.02" fill="#000"/>
<polygon points="298.15,580.35 299.02,582.11 300.96,582.39 299.55,583.76 299.88,585.69 298.15,584.77 296.42,585.69 296.75,583.76 295.34,582.39 297.28,582.11" fill="#222"/>
<polygon points="304.25,580.35 305.12,582.11 307.06,582.39 305.65,583.76 305.98,585.69 304.25,584.77 302.52,585.69 302.85,583.76 301.44,582.39 303.38,582.11" fill="#222"/>
<line x1="315.90" y1="620.58" x2="315.90" y2="629.02" stroke="#111" stroke-width="1.0"/>
<line x1="313.70" y1="620.58" x2="318.10" y2="620.58" stroke="#111" stroke-width="1.0"/>
<rect x="310.70" y="629.02" width="10.40" height="16.88" fill="#000"/>
<polygon points="312.85,613.05 313.72,614.81 315.66,615.09 314.25,616.46 314.58,618.39 312.85,617.48 311.12,618.39 311.45,616.46 310.04,615.09 311.98,614.81" fill="#222"/>
<polygon points="318.95,613.05 319.82,614.81 321.76,615.09 320.35,616.46 320.68,618.39 318.95,617.48 317.22,618.39 317.55,616.46 316.14,615.09 318.08,614.81" fill="#222"/>
<rect x="325.40" y="642.10" width="10.40" height="3.80" fill="#000"/>
<polygon points="327.55,633.65 328.42,635.41 330.36,635.69 328.95,637.06 329.28,638.99 327.55,638.08 325.82,638.99 326.15,637.06 324.74,635.69 326.68,635.41" fill="#222"/>
<polygon points="333.65,633.65 334.52,635.41 336.46,635.69 335.05,637.06 335.38,638.99 333.65,638.08 331.92,638.99 332.25,637.06 330.84,635.69 332.78,635.41" fill="#222"/>
<line x1="235.00" y1="539.90" x2="235.00" y2="646.40" stroke="#111" stroke-width="1.1"/>
<line x1="234.50" y1="645.90" x2="338.50" y2="645.90" stroke="#111" stroke-width="1.1"/>
<line x1="232.00" y1="645.90" x2="235.00" y2="645.90" stroke="#111" stroke-width="1.0"/>
<text x="231.40" y="648.45" font-size="7.4" font-weight="bold" text-anchor="end" fill="#111" stroke="#111" stroke-width="0.35" textLength="15.55" lengthAdjust="spacingAndGlyphs" >0.00</text>
<line x1="232.00" y1="624.80" x2="235.00" y2="624.80" stroke="#111" stroke-width="1.0"/>
<text x="231.40" y="627.35" font-size="7.4" font-weight="bold" text-anchor="end" fill="#111" stroke="#111" stroke-width="0.35" textLength="15.55" lengthAdjust="spacingAndGlyphs" >0.25</text>
<line x1="232.00" y1="603.70" x2="235.00" y2="603.70" stroke="#111" stroke-width="1.0"/>
<text x="231.40" y="606.25" font-size="7.4" font-weight="bold" text-anchor="end" fill="#111" stroke="#111" stroke-width="0.35" textLength="15.55" lengthAdjust="spacingAndGlyphs" >0.50</text>
<line x1="232.00" y1="582.60" x2="235.00" y2="582.60" stroke="#111" stroke-width="1.0"/>
<text x="231.40" y="585.15" font-size="7.4" font-weight="bold" text-anchor="end" fill="#111" stroke="#111" stroke-width="0.35" textLength="15.55" lengthAdjust="spacingAndGlyphs" >0.75</text>
<line x1="232.00" y1="561.50" x2="235.00" y2="561.50" stroke="#111" stroke-width="1.0"/>
<text x="231.40" y="564.05" font-size="7.4" font-weight="bold" text-anchor="end" fill="#111" stroke="#111" stroke-width="0.35" textLength="15.55" lengthAdjust="spacingAndGlyphs" >1.00</text>
<line x1="232.00" y1="540.40" x2="235.00" y2="540.40" stroke="#111" stroke-width="1.0"/>
<text x="231.40" y="542.95" font-size="7.4" font-weight="bold" text-anchor="end" fill="#111" stroke="#111" stroke-width="0.35" textLength="15.55" lengthAdjust="spacingAndGlyphs" >1.25</text>
<line x1="242.40" y1="645.90" x2="242.40" y2="648.40" stroke="#111" stroke-width="1.0"/>
<g transform="translate(241.20 656.40) scale(1.03 1) rotate(-45)"><text x="0" y="0" font-size="8.4" font-weight="normal" text-anchor="end" fill="#111" stroke="#111" stroke-width="0.3" textLength="25.21" lengthAdjust="spacingAndGlyphs">control</text></g>
<line x1="257.10" y1="645.90" x2="257.10" y2="648.40" stroke="#111" stroke-width="1.0"/>
<g transform="translate(255.90 656.40) scale(1.03 1) rotate(-45)"><text x="0" y="0" font-size="8.4" font-weight="normal" text-anchor="end" fill="#111" stroke="#111" stroke-width="0.3" textLength="26.15" lengthAdjust="spacingAndGlyphs">vehicle</text></g>
<line x1="271.80" y1="645.90" x2="271.80" y2="648.40" stroke="#111" stroke-width="1.0"/>
<g transform="translate(273.30 659.10) scale(1.03 1) rotate(-45)"><text x="0" y="0" font-size="8.4" font-weight="normal" text-anchor="end" fill="#111" stroke="#111" stroke-width="0.3" textLength="25.87" lengthAdjust="spacingAndGlyphs">0.2µM</text></g>
<line x1="286.50" y1="645.90" x2="286.50" y2="648.40" stroke="#111" stroke-width="1.0"/>
<g transform="translate(288.00 659.10) scale(1.03 1) rotate(-45)"><text x="0" y="0" font-size="8.4" font-weight="normal" text-anchor="end" fill="#111" stroke="#111" stroke-width="0.3" textLength="25.87" lengthAdjust="spacingAndGlyphs">0.5µM</text></g>
<line x1="301.20" y1="645.90" x2="301.20" y2="648.40" stroke="#111" stroke-width="1.0"/>
<g transform="translate(302.70 659.10) scale(1.03 1) rotate(-45)"><text x="0" y="0" font-size="8.4" font-weight="normal" text-anchor="end" fill="#111" stroke="#111" stroke-width="0.3" textLength="18.16" lengthAdjust="spacingAndGlyphs">1µM</text></g>
<line x1="315.90" y1="645.90" x2="315.90" y2="648.40" stroke="#111" stroke-width="1.0"/>
<g transform="translate(317.40 659.10) scale(1.03 1) rotate(-45)"><text x="0" y="0" font-size="8.4" font-weight="normal" text-anchor="end" fill="#111" stroke="#111" stroke-width="0.3" textLength="18.16" lengthAdjust="spacingAndGlyphs">5µM</text></g>
<line x1="330.60" y1="645.90" x2="330.60" y2="648.40" stroke="#111" stroke-width="1.0"/>
<g transform="translate(334.60 658.80) scale(1.03 1) rotate(-45)"><text x="0" y="0" font-size="8.4" font-weight="normal" text-anchor="end" fill="#111" stroke="#111" stroke-width="0.3" textLength="23.30" lengthAdjust="spacingAndGlyphs">10µM</text></g>
<text x="213.00" y="596.40" font-size="9.2" font-weight="normal" text-anchor="middle" fill="#111" stroke="#111" stroke-width="0.45" textLength="54.50" lengthAdjust="spacingAndGlyphs" transform="rotate(-90 213.00 596.40)" >division index</text>
<text x="193.40" y="545.60" font-size="13" font-weight="bold" text-anchor="start" fill="#000" stroke="#000" stroke-width="0.5" >K</text>
<line x1="424.35" y1="627.34" x2="424.35" y2="627.78" stroke="#111" stroke-width="1.0"/>
<line x1="422.15" y1="627.34" x2="426.55" y2="627.34" stroke="#111" stroke-width="1.0"/>
<rect x="419.75" y="628.33" width="9.20" height="16.17" fill="#8a8a8a" stroke="#111" stroke-width="1.1"/>
<line x1="439.07" y1="555.62" x2="439.07" y2="555.84" stroke="#111" stroke-width="1.0"/>
<line x1="436.87" y1="555.62" x2="441.27" y2="555.62" stroke="#111" stroke-width="1.0"/>
<rect x="434.47" y="556.39" width="9.20" height="88.11" fill="#fff" stroke="#111" stroke-width="1.1"/>
<line x1="453.79" y1="564.20" x2="453.79" y2="572.34" stroke="#111" stroke-width="1.0"/>
<line x1="451.59" y1="564.20" x2="455.99" y2="564.20" stroke="#111" stroke-width="1.0"/>
<rect x="448.64" y="572.34" width="10.30" height="72.16" fill="#000"/>
<line x1="468.51" y1="576.96" x2="468.51" y2="580.04" stroke="#111" stroke-width="1.0"/>
<line x1="466.31" y1="576.96" x2="470.71" y2="576.96" stroke="#111" stroke-width="1.0"/>
<rect x="463.36" y="580.04" width="10.30" height="64.46" fill="#000"/>
<polygon points="468.51,567.65 469.38,569.41 471.32,569.69 469.91,571.06 470.24,572.99 468.51,572.08 466.78,572.99 467.11,571.06 465.70,569.69 467.64,569.41" fill="#222"/>
<line x1="483.23" y1="570.80" x2="483.23" y2="575.20" stroke="#111" stroke-width="1.0"/>
<line x1="481.03" y1="570.80" x2="485.43" y2="570.80" stroke="#111" stroke-width="1.0"/>
<rect x="478.08" y="575.20" width="10.30" height="69.30" fill="#000"/>
<polygon points="483.23,562.65 484.10,564.41 486.04,564.69 484.63,566.06 484.96,567.99 483.23,567.08 481.50,567.99 481.83,566.06 480.42,564.69 482.36,564.41" fill="#222"/>
<line x1="497.95" y1="617.22" x2="497.95" y2="617.44" stroke="#111" stroke-width="1.0"/>
<line x1="495.75" y1="617.22" x2="500.15" y2="617.22" stroke="#111" stroke-width="1.0"/>
<rect x="492.80" y="617.44" width="10.30" height="27.06" fill="#000"/>
<polygon points="494.90,607.05 495.77,608.81 497.71,609.09 496.30,610.46 496.63,612.39 494.90,611.48 493.17,612.39 493.50,610.46 492.09,609.09 494.03,608.81" fill="#222"/>
<polygon points="501.00,607.05 501.87,608.81 503.81,609.09 502.40,610.46 502.73,612.39 501.00,611.48 499.27,612.39 499.60,610.46 498.19,609.09 500.13,608.81" fill="#222"/>
<line x1="512.67" y1="627.78" x2="512.67" y2="628.00" stroke="#111" stroke-width="1.0"/>
<line x1="510.47" y1="627.78" x2="514.87" y2="627.78" stroke="#111" stroke-width="1.0"/>
<rect x="507.52" y="628.00" width="10.30" height="16.50" fill="#000"/>
<polygon points="509.62,619.15 510.49,620.91 512.43,621.19 511.02,622.56 511.35,624.49 509.62,623.58 507.89,624.49 508.22,622.56 506.81,621.19 508.75,620.91" fill="#222"/>
<polygon points="515.72,619.15 516.59,620.91 518.53,621.19 517.12,622.56 517.45,624.49 515.72,623.58 513.99,624.49 514.32,622.56 512.91,621.19 514.85,620.91" fill="#222"/>
<line x1="417.20" y1="545.00" x2="417.20" y2="645.00" stroke="#111" stroke-width="1.1"/>
<line x1="416.70" y1="644.50" x2="520.00" y2="644.50" stroke="#111" stroke-width="1.1"/>
<line x1="414.20" y1="644.50" x2="417.20" y2="644.50" stroke="#111" stroke-width="1.0"/>
<text x="413.60" y="647.05" font-size="7.4" font-weight="bold" text-anchor="end" fill="#111" stroke="#111" stroke-width="0.35" textLength="4.44" lengthAdjust="spacingAndGlyphs" >0</text>
<line x1="414.20" y1="633.50" x2="417.20" y2="633.50" stroke="#111" stroke-width="1.0"/>
<text x="413.60" y="636.05" font-size="7.4" font-weight="bold" text-anchor="end" fill="#111" stroke="#111" stroke-width="0.35" textLength="13.33" lengthAdjust="spacingAndGlyphs" >500</text>
<line x1="414.20" y1="622.50" x2="417.20" y2="622.50" stroke="#111" stroke-width="1.0"/>
<text x="413.60" y="625.05" font-size="7.4" font-weight="bold" text-anchor="end" fill="#111" stroke="#111" stroke-width="0.35" textLength="17.78" lengthAdjust="spacingAndGlyphs" >1000</text>
<line x1="414.20" y1="611.50" x2="417.20" y2="611.50" stroke="#111" stroke-width="1.0"/>
<text x="413.60" y="614.05" font-size="7.4" font-weight="bold" text-anchor="end" fill="#111" stroke="#111" stroke-width="0.35" textLength="17.78" lengthAdjust="spacingAndGlyphs" >1500</text>
<line x1="414.20" y1="600.50" x2="417.20" y2="600.50" stroke="#111" stroke-width="1.0"/>
<text x="413.60" y="603.05" font-size="7.4" font-weight="bold" text-anchor="end" fill="#111" stroke="#111" stroke-width="0.35" textLength="17.78" lengthAdjust="spacingAndGlyphs" >2000</text>
<line x1="414.20" y1="589.50" x2="417.20" y2="589.50" stroke="#111" stroke-width="1.0"/>
<text x="413.60" y="592.05" font-size="7.4" font-weight="bold" text-anchor="end" fill="#111" stroke="#111" stroke-width="0.35" textLength="17.78" lengthAdjust="spacingAndGlyphs" >2500</text>
<line x1="414.20" y1="578.50" x2="417.20" y2="578.50" stroke="#111" stroke-width="1.0"/>
<text x="413.60" y="581.05" font-size="7.4" font-weight="bold" text-anchor="end" fill="#111" stroke="#111" stroke-width="0.35" textLength="17.78" lengthAdjust="spacingAndGlyphs" >3000</text>
<line x1="414.20" y1="567.50" x2="417.20" y2="567.50" stroke="#111" stroke-width="1.0"/>
<text x="413.60" y="570.05" font-size="7.4" font-weight="bold" text-anchor="end" fill="#111" stroke="#111" stroke-width="0.35" textLength="17.78" lengthAdjust="spacingAndGlyphs" >3500</text>
<line x1="414.20" y1="556.50" x2="417.20" y2="556.50" stroke="#111" stroke-width="1.0"/>
<text x="413.60" y="559.05" font-size="7.4" font-weight="bold" text-anchor="end" fill="#111" stroke="#111" stroke-width="0.35" textLength="17.78" lengthAdjust="spacingAndGlyphs" >4000</text>
<line x1="414.20" y1="545.50" x2="417.20" y2="545.50" stroke="#111" stroke-width="1.0"/>
<text x="413.60" y="548.05" font-size="7.4" font-weight="bold" text-anchor="end" fill="#111" stroke="#111" stroke-width="0.35" textLength="17.78" lengthAdjust="spacingAndGlyphs" >4500</text>
<line x1="424.35" y1="644.50" x2="424.35" y2="647.00" stroke="#111" stroke-width="1.0"/>
<g transform="translate(423.15 655.50) scale(1.03 1) rotate(-45)"><text x="0" y="0" font-size="8.4" font-weight="normal" text-anchor="end" fill="#111" stroke="#111" stroke-width="0.3" textLength="25.21" lengthAdjust="spacingAndGlyphs">control</text></g>
<line x1="439.07" y1="644.50" x2="439.07" y2="647.00" stroke="#111" stroke-width="1.0"/>
<g transform="translate(437.87 655.50) scale(1.03 1) rotate(-45)"><text x="0" y="0" font-size="8.4" font-weight="normal" text-anchor="end" fill="#111" stroke="#111" stroke-width="0.3" textLength="26.15" lengthAdjust="spacingAndGlyphs">vehicle</text></g>
<line x1="453.79" y1="644.50" x2="453.79" y2="647.00" stroke="#111" stroke-width="1.0"/>
<g transform="translate(455.29 657.10) scale(1.03 1) rotate(-45)"><text x="0" y="0" font-size="8.4" font-weight="normal" text-anchor="end" fill="#111" stroke="#111" stroke-width="0.3" textLength="25.87" lengthAdjust="spacingAndGlyphs">0.2µM</text></g>
<line x1="468.51" y1="644.50" x2="468.51" y2="647.00" stroke="#111" stroke-width="1.0"/>
<g transform="translate(470.01 657.10) scale(1.03 1) rotate(-45)"><text x="0" y="0" font-size="8.4" font-weight="normal" text-anchor="end" fill="#111" stroke="#111" stroke-width="0.3" textLength="25.87" lengthAdjust="spacingAndGlyphs">0.5µM</text></g>
<line x1="483.23" y1="644.50" x2="483.23" y2="647.00" stroke="#111" stroke-width="1.0"/>
<g transform="translate(484.73 657.10) scale(1.03 1) rotate(-45)"><text x="0" y="0" font-size="8.4" font-weight="normal" text-anchor="end" fill="#111" stroke="#111" stroke-width="0.3" textLength="18.16" lengthAdjust="spacingAndGlyphs">1µM</text></g>
<line x1="497.95" y1="644.50" x2="497.95" y2="647.00" stroke="#111" stroke-width="1.0"/>
<g transform="translate(499.45 657.10) scale(1.03 1) rotate(-45)"><text x="0" y="0" font-size="8.4" font-weight="normal" text-anchor="end" fill="#111" stroke="#111" stroke-width="0.3" textLength="18.16" lengthAdjust="spacingAndGlyphs">5µM</text></g>
<line x1="512.67" y1="644.50" x2="512.67" y2="647.00" stroke="#111" stroke-width="1.0"/>
<g transform="translate(516.67 656.80) scale(1.03 1) rotate(-45)"><text x="0" y="0" font-size="8.4" font-weight="normal" text-anchor="end" fill="#111" stroke="#111" stroke-width="0.3" textLength="23.30" lengthAdjust="spacingAndGlyphs">10µM</text></g>
<text x="389.40" y="587.00" font-size="9.2" font-weight="normal" text-anchor="middle" fill="#111" stroke="#111" stroke-width="0.45" textLength="48.40" lengthAdjust="spacingAndGlyphs" transform="rotate(-90 389.40 587.00)" >CD25 (MFI)</text>
<text x="367.70" y="545.80" font-size="13" font-weight="bold" text-anchor="start" fill="#000" stroke="#000" stroke-width="0.5" >L</text></svg>
</body></html>
